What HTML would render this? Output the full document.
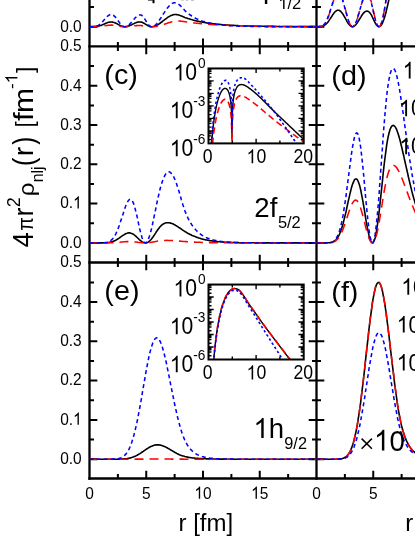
<!DOCTYPE html>
<html><head><meta charset="utf-8"><title>chart</title>
<style>html,body{margin:0;padding:0;background:#fff;overflow:hidden}body{width:415px;height:537px;font-family:"Liberation Sans",sans-serif}</style>
</head><body>
<svg width="415" height="537" viewBox="0 0 415 537" style="display:block;will-change:transform;font-family:'Liberation Sans',sans-serif">
<rect width="415" height="537" fill="#fff"/>
<defs>
<clipPath id="cpa"><rect x="89.5" y="0" width="227.0" height="46.4"/></clipPath>
<clipPath id="cpb"><rect x="316.5" y="0" width="98.5" height="46.4"/></clipPath>
<clipPath id="cpc"><rect x="89.5" y="46.4" width="227.0" height="216.1"/></clipPath>
<clipPath id="cpd"><rect x="316.5" y="46.4" width="98.5" height="216.1"/></clipPath>
<clipPath id="cpe"><rect x="89.5" y="262.5" width="227.0" height="216.1"/></clipPath>
<clipPath id="cpf"><rect x="316.5" y="262.5" width="98.5" height="216.1"/></clipPath>
</defs>
<g stroke="#000" stroke-width="2.3" fill="none" stroke-linecap="butt">
<path d="M89.5,0 V479.65 M316.5,0 V479.65"/>
<path d="M88.35,46.4 H415"/>
<path d="M88.35,262.5 H415"/>
<path d="M88.35,478.5 H415"/>
<path d="M117.88,41.9 V50.9 M146.25,38.6 V54.199999999999996 M174.62,41.9 V50.9 M203.00,38.6 V54.199999999999996 M231.38,41.9 V50.9 M259.75,38.6 V54.199999999999996 M288.12,41.9 V50.9 M344.88,41.9 V50.9 M373.25,38.6 V54.199999999999996 M401.62,41.9 V50.9 M117.88,258.0 V267.0 M146.25,254.7 V270.3 M174.62,258.0 V267.0 M203.00,254.7 V270.3 M231.38,258.0 V267.0 M259.75,254.7 V270.3 M288.12,258.0 V267.0 M344.88,258.0 V267.0 M373.25,254.7 V270.3 M401.62,258.0 V267.0 M117.88,474.0 V478.5 M146.25,470.7 V478.5 M174.62,474.0 V478.5 M203.00,470.7 V478.5 M231.38,474.0 V478.5 M259.75,470.7 V478.5 M288.12,474.0 V478.5 M344.88,474.0 V478.5 M373.25,470.7 V478.5 M401.62,474.0 V478.5 M89.5,26.70 H97.3 M308.7,26.70 H324.3 M89.5,7.05 H94.0 M312.0,7.05 H321.0 M89.5,242.90 H97.3 M308.7,242.90 H324.3 M89.5,223.25 H94.0 M312.0,223.25 H321.0 M89.5,203.61 H97.3 M308.7,203.61 H324.3 M89.5,183.96 H94.0 M312.0,183.96 H321.0 M89.5,164.32 H97.3 M308.7,164.32 H324.3 M89.5,144.67 H94.0 M312.0,144.67 H321.0 M89.5,125.03 H97.3 M308.7,125.03 H324.3 M89.5,105.38 H94.0 M312.0,105.38 H321.0 M89.5,85.74 H97.3 M308.7,85.74 H324.3 M89.5,66.09 H94.0 M312.0,66.09 H321.0 M89.5,459.20 H97.3 M308.7,459.20 H324.3 M89.5,439.55 H94.0 M312.0,439.55 H321.0 M89.5,419.91 H97.3 M308.7,419.91 H324.3 M89.5,400.26 H94.0 M312.0,400.26 H321.0 M89.5,380.62 H97.3 M308.7,380.62 H324.3 M89.5,360.97 H94.0 M312.0,360.97 H321.0 M89.5,341.33 H97.3 M308.7,341.33 H324.3 M89.5,321.68 H94.0 M312.0,321.68 H321.0 M89.5,302.04 H97.3 M308.7,302.04 H324.3 M89.5,282.39 H94.0 M312.0,282.39 H321.0" stroke-width="2.0"/>
</g>
<g clip-path="url(#cpa)" fill="none" stroke-linejoin="round">
<path d="M89.5,26.7 L90.2,26.7 L90.9,26.7 L91.5,26.7 L92.2,26.7 L92.9,26.7 L93.6,26.7 L94.3,26.6 L94.9,26.6 L95.6,26.6 L96.3,26.5 L97.0,26.4 L97.7,26.3 L98.4,26.2 L99.0,26.0 L99.7,25.8 L100.4,25.6 L101.1,25.4 L101.8,25.1 L102.4,24.8 L103.1,24.5 L103.8,24.2 L104.5,23.9 L105.2,23.6 L105.8,23.3 L106.5,23.0 L107.2,22.8 L107.9,22.5 L108.6,22.3 L109.3,22.2 L109.9,22.1 L110.6,22.0 L111.3,22.0 L112.0,22.0 L112.7,22.1 L113.3,22.3 L114.0,22.5 L114.7,22.7 L115.4,23.0 L116.1,23.3 L116.7,23.6 L117.4,24.0 L118.1,24.4 L118.8,24.7 L119.5,25.1 L120.1,25.4 L120.8,25.8 L121.5,26.0 L122.2,26.3 L122.9,26.5 L123.6,26.6 L124.2,26.7 L124.9,26.7 L125.6,26.7 L126.3,26.6 L127.0,26.5 L127.6,26.3 L128.3,26.1 L129.0,25.9 L129.7,25.6 L130.4,25.3 L131.0,25.0 L131.7,24.7 L132.4,24.3 L133.1,24.0 L133.8,23.7 L134.4,23.4 L135.1,23.0 L135.8,22.8 L136.5,22.5 L137.2,22.3 L137.9,22.1 L138.5,22.0 L139.2,22.0 L139.9,22.0 L140.6,22.0 L141.3,22.1 L141.9,22.3 L142.6,22.6 L143.3,22.9 L144.0,23.2 L144.7,23.6 L145.3,24.1 L146.0,24.5 L146.7,24.9 L147.4,25.3 L148.1,25.7 L148.7,26.0 L149.4,26.3 L150.1,26.5 L150.8,26.6 L151.5,26.7 L152.2,26.7 L152.8,26.6 L153.5,26.5 L154.2,26.4 L154.9,26.2 L155.6,25.9 L156.2,25.6 L156.9,25.3 L157.6,24.9 L158.3,24.5 L159.0,24.0 L159.6,23.5 L160.3,23.0 L161.0,22.5 L161.7,22.0 L162.4,21.5 L163.0,20.9 L163.7,20.4 L164.4,19.8 L165.1,19.3 L165.8,18.8 L166.5,18.3 L167.1,17.8 L167.8,17.3 L168.5,16.9 L169.2,16.5 L169.9,16.1 L170.5,15.7 L171.2,15.4 L171.9,15.2 L172.6,14.9 L173.3,14.8 L173.9,14.6 L174.6,14.5 L175.3,14.5 L176.0,14.5 L176.7,14.6 L177.3,14.7 L178.0,14.8 L178.7,15.0 L179.4,15.2 L180.1,15.5 L180.8,15.7 L181.4,16.0 L182.1,16.3 L182.8,16.6 L183.5,16.9 L184.2,17.1 L184.8,17.4 L185.5,17.7 L186.2,17.9 L186.9,18.1 L187.6,18.4 L188.2,18.6 L188.9,18.8 L189.6,19.0 L190.3,19.2 L191.0,19.4 L191.7,19.6 L192.3,19.8 L193.0,20.0 L193.7,20.2 L194.4,20.4 L195.1,20.6 L195.7,20.7 L196.4,20.9 L197.1,21.0 L197.8,21.2 L198.5,21.3 L199.1,21.5 L199.8,21.6 L200.5,21.8 L201.2,21.9 L201.9,22.0 L202.5,22.2 L203.2,22.3 L203.9,22.4 L204.6,22.5 L205.3,22.6 L206.0,22.8 L206.6,22.9 L207.3,23.0 L208.0,23.1 L208.7,23.2 L209.4,23.3 L210.0,23.4 L210.7,23.4 L211.4,23.5 L212.1,23.6 L212.8,23.7 L213.4,23.8 L214.1,23.9 L214.8,23.9 L215.5,24.0 L216.2,24.1 L216.8,24.2 L217.5,24.2 L218.2,24.3 L218.9,24.4 L219.6,24.4 L220.3,24.5 L220.9,24.5 L221.6,24.6 L222.3,24.7 L223.0,24.7 L223.7,24.8 L224.3,24.8 L225.0,24.9 L225.7,24.9 L226.4,25.0 L227.1,25.0 L227.7,25.1 L228.4,25.1 L229.1,25.2 L229.8,25.2 L230.5,25.2 L231.1,25.3 L231.8,25.3 L232.5,25.4 L233.2,25.4 L233.9,25.4 L234.6,25.5 L235.2,25.5 L235.9,25.5 L236.6,25.6 L237.3,25.6 L238.0,25.6 L238.6,25.7 L239.3,25.7 L240.0,25.7 L240.7,25.7 L241.4,25.8 L242.0,25.8 L242.7,25.8 L243.4,25.8 L244.1,25.9 L244.8,25.9 L245.4,25.9 L246.1,25.9 L246.8,25.9 L247.5,26.0 L248.2,26.0 L248.9,26.0 L249.5,26.0 L250.2,26.0 L250.9,26.1 L251.6,26.1 L252.3,26.1 L252.9,26.1 L253.6,26.1 L254.3,26.1 L255.0,26.2 L255.7,26.2 L256.3,26.2 L257.0,26.2 L257.7,26.2 L258.4,26.2 L259.1,26.2 L259.8,26.3 L260.4,26.3 L261.1,26.3 L261.8,26.3 L262.5,26.3 L263.2,26.3 L263.8,26.3 L264.5,26.3 L265.2,26.3 L265.9,26.4 L266.6,26.4 L267.2,26.4 L267.9,26.4 L268.6,26.4 L269.3,26.4 L270.0,26.4 L270.6,26.4 L271.3,26.4 L272.0,26.4 L272.7,26.4 L273.4,26.4 L274.1,26.5 L274.7,26.5 L275.4,26.5 L276.1,26.5 L276.8,26.5 L277.5,26.5 L278.1,26.5 L278.8,26.5 L279.5,26.5 L280.2,26.5 L280.9,26.5 L281.5,26.5 L282.2,26.5 L282.9,26.5 L283.6,26.5 L284.3,26.5 L284.9,26.5 L285.6,26.5 L286.3,26.5 L287.0,26.6 L287.7,26.6 L288.4,26.6 L289.0,26.6 L289.7,26.6 L290.4,26.6 L291.1,26.6 L291.8,26.6 L292.4,26.6 L293.1,26.6 L293.8,26.6 L294.5,26.6 L295.2,26.6 L295.8,26.6 L296.5,26.6 L297.2,26.6 L297.9,26.6 L298.6,26.6 L299.2,26.6 L299.9,26.6 L300.6,26.6 L301.3,26.6 L302.0,26.6 L302.7,26.6 L303.3,26.6 L304.0,26.6 L304.7,26.6 L305.4,26.6 L306.1,26.6 L306.7,26.6 L307.4,26.6 L308.1,26.6 L308.8,26.6 L309.5,26.6 L310.1,26.6 L310.8,26.6 L311.5,26.6 L312.2,26.6 L312.9,26.6 L313.5,26.6 L314.2,26.7 L314.9,26.7 L315.6,26.7 L316.3,26.7 L317.0,26.7" stroke="#000" stroke-width="1.6"/>
<path d="M89.5,26.7 L90.2,26.7 L90.9,26.7 L91.5,26.7 L92.2,26.7 L92.9,26.7 L93.6,26.7 L94.3,26.7 L94.9,26.7 L95.6,26.7 L96.3,26.6 L97.0,26.6 L97.7,26.6 L98.4,26.5 L99.0,26.5 L99.7,26.4 L100.4,26.3 L101.1,26.3 L101.8,26.2 L102.4,26.1 L103.1,26.0 L103.8,25.9 L104.5,25.8 L105.2,25.7 L105.8,25.6 L106.5,25.5 L107.2,25.4 L107.9,25.3 L108.6,25.2 L109.3,25.2 L109.9,25.2 L110.6,25.1 L111.3,25.1 L112.0,25.1 L112.7,25.2 L113.3,25.2 L114.0,25.3 L114.7,25.4 L115.4,25.5 L116.1,25.6 L116.7,25.7 L117.4,25.8 L118.1,26.0 L118.8,26.1 L119.5,26.2 L120.1,26.3 L120.8,26.4 L121.5,26.5 L122.2,26.6 L122.9,26.6 L123.6,26.7 L124.2,26.7 L124.9,26.7 L125.6,26.7 L126.3,26.7 L127.0,26.6 L127.6,26.6 L128.3,26.5 L129.0,26.5 L129.7,26.4 L130.4,26.3 L131.0,26.2 L131.7,26.2 L132.4,26.1 L133.1,26.0 L133.8,25.9 L134.4,25.8 L135.1,25.8 L135.8,25.7 L136.5,25.6 L137.2,25.6 L137.9,25.5 L138.5,25.5 L139.2,25.5 L139.9,25.5 L140.6,25.5 L141.3,25.6 L141.9,25.6 L142.6,25.7 L143.3,25.7 L144.0,25.8 L144.7,25.9 L145.3,26.0 L146.0,26.1 L146.7,26.2 L147.4,26.3 L148.1,26.4 L148.7,26.5 L149.4,26.6 L150.1,26.6 L150.8,26.7 L151.5,26.7 L152.2,26.7 L152.8,26.7 L153.5,26.7 L154.2,26.6 L154.9,26.5 L155.6,26.5 L156.2,26.4 L156.9,26.2 L157.6,26.1 L158.3,26.0 L159.0,25.8 L159.6,25.6 L160.3,25.4 L161.0,25.2 L161.7,25.0 L162.4,24.8 L163.0,24.6 L163.7,24.4 L164.4,24.2 L165.1,23.9 L165.8,23.7 L166.5,23.5 L167.1,23.3 L167.8,23.0 L168.5,22.8 L169.2,22.6 L169.9,22.4 L170.5,22.2 L171.2,22.0 L171.9,21.8 L172.6,21.7 L173.3,21.5 L173.9,21.4 L174.6,21.3 L175.3,21.2 L176.0,21.1 L176.7,21.0 L177.3,21.0 L178.0,21.0 L178.7,21.0 L179.4,21.0 L180.1,21.1 L180.8,21.1 L181.4,21.2 L182.1,21.3 L182.8,21.4 L183.5,21.5 L184.2,21.6 L184.8,21.7 L185.5,21.8 L186.2,21.9 L186.9,22.0 L187.6,22.1 L188.2,22.2 L188.9,22.3 L189.6,22.4 L190.3,22.4 L191.0,22.5 L191.7,22.6 L192.3,22.7 L193.0,22.8 L193.7,22.9 L194.4,22.9 L195.1,23.0 L195.7,23.1 L196.4,23.2 L197.1,23.2 L197.8,23.3 L198.5,23.4 L199.1,23.4 L199.8,23.5 L200.5,23.6 L201.2,23.6 L201.9,23.7 L202.5,23.8 L203.2,23.8 L203.9,23.9 L204.6,23.9 L205.3,24.0 L206.0,24.1 L206.6,24.1 L207.3,24.2 L208.0,24.2 L208.7,24.3 L209.4,24.3 L210.0,24.4 L210.7,24.4 L211.4,24.5 L212.1,24.5 L212.8,24.6 L213.4,24.6 L214.1,24.6 L214.8,24.7 L215.5,24.7 L216.2,24.8 L216.8,24.8 L217.5,24.8 L218.2,24.9 L218.9,24.9 L219.6,25.0 L220.3,25.0 L220.9,25.0 L221.6,25.1 L222.3,25.1 L223.0,25.1 L223.7,25.2 L224.3,25.2 L225.0,25.2 L225.7,25.3 L226.4,25.3 L227.1,25.3 L227.7,25.3 L228.4,25.4 L229.1,25.4 L229.8,25.4 L230.5,25.4 L231.1,25.5 L231.8,25.5 L232.5,25.5 L233.2,25.5 L233.9,25.6 L234.6,25.6 L235.2,25.6 L235.9,25.6 L236.6,25.7 L237.3,25.7 L238.0,25.7 L238.6,25.7 L239.3,25.7 L240.0,25.8 L240.7,25.8 L241.4,25.8 L242.0,25.8 L242.7,25.8 L243.4,25.9 L244.1,25.9 L244.8,25.9 L245.4,25.9 L246.1,25.9 L246.8,25.9 L247.5,26.0 L248.2,26.0 L248.9,26.0 L249.5,26.0 L250.2,26.0 L250.9,26.0 L251.6,26.0 L252.3,26.1 L252.9,26.1 L253.6,26.1 L254.3,26.1 L255.0,26.1 L255.7,26.1 L256.3,26.1 L257.0,26.1 L257.7,26.2 L258.4,26.2 L259.1,26.2 L259.8,26.2 L260.4,26.2 L261.1,26.2 L261.8,26.2 L262.5,26.2 L263.2,26.2 L263.8,26.2 L264.5,26.3 L265.2,26.3 L265.9,26.3 L266.6,26.3 L267.2,26.3 L267.9,26.3 L268.6,26.3 L269.3,26.3 L270.0,26.3 L270.6,26.3 L271.3,26.3 L272.0,26.3 L272.7,26.4 L273.4,26.4 L274.1,26.4 L274.7,26.4 L275.4,26.4 L276.1,26.4 L276.8,26.4 L277.5,26.4 L278.1,26.4 L278.8,26.4 L279.5,26.4 L280.2,26.4 L280.9,26.4 L281.5,26.4 L282.2,26.4 L282.9,26.4 L283.6,26.5 L284.3,26.5 L284.9,26.5 L285.6,26.5 L286.3,26.5 L287.0,26.5 L287.7,26.5 L288.4,26.5 L289.0,26.5 L289.7,26.5 L290.4,26.5 L291.1,26.5 L291.8,26.5 L292.4,26.5 L293.1,26.5 L293.8,26.5 L294.5,26.5 L295.2,26.5 L295.8,26.5 L296.5,26.5 L297.2,26.5 L297.9,26.5 L298.6,26.5 L299.2,26.5 L299.9,26.5 L300.6,26.6 L301.3,26.6 L302.0,26.6 L302.7,26.6 L303.3,26.6 L304.0,26.6 L304.7,26.6 L305.4,26.6 L306.1,26.6 L306.7,26.6 L307.4,26.6 L308.1,26.6 L308.8,26.6 L309.5,26.6 L310.1,26.6 L310.8,26.6 L311.5,26.6 L312.2,26.6 L312.9,26.6 L313.5,26.6 L314.2,26.6 L314.9,26.6 L315.6,26.6 L316.3,26.6 L317.0,26.6" stroke="#ff0000" stroke-width="1.55" stroke-dasharray="9,6"/>
<path d="M89.5,26.7 L90.2,26.7 L90.9,26.7 L91.5,26.7 L92.2,26.7 L92.9,26.7 L93.6,26.6 L94.3,26.6 L94.9,26.5 L95.6,26.3 L96.3,26.2 L97.0,25.9 L97.7,25.7 L98.4,25.3 L99.0,24.9 L99.7,24.4 L100.4,23.9 L101.1,23.3 L101.8,22.6 L102.4,21.9 L103.1,21.1 L103.8,20.3 L104.5,19.5 L105.2,18.7 L105.8,17.9 L106.5,17.2 L107.2,16.5 L107.9,15.9 L108.6,15.4 L109.3,15.0 L109.9,14.7 L110.6,14.5 L111.3,14.5 L112.0,14.6 L112.7,14.9 L113.3,15.2 L114.0,15.8 L114.7,16.4 L115.4,17.1 L116.1,17.9 L116.7,18.8 L117.4,19.8 L118.1,20.7 L118.8,21.7 L119.5,22.6 L120.1,23.5 L120.8,24.3 L121.5,25.0 L122.2,25.6 L122.9,26.1 L123.6,26.4 L124.2,26.6 L124.9,26.7 L125.6,26.6 L126.3,26.5 L127.0,26.2 L127.6,25.8 L128.3,25.3 L129.0,24.7 L129.7,24.1 L130.4,23.4 L131.0,22.7 L131.7,21.9 L132.4,21.1 L133.1,20.3 L133.8,19.5 L134.4,18.8 L135.1,18.0 L135.8,17.3 L136.5,16.6 L137.2,16.1 L137.9,15.6 L138.5,15.2 L139.2,15.0 L139.9,14.9 L140.6,14.9 L141.3,15.1 L141.9,15.5 L142.6,16.1 L143.3,16.9 L144.0,17.8 L144.7,18.8 L145.3,19.9 L146.0,21.0 L146.7,22.1 L147.4,23.2 L148.1,24.1 L148.7,25.0 L149.4,25.6 L150.1,26.1 L150.8,26.5 L151.5,26.7 L152.2,26.7 L152.8,26.6 L153.5,26.3 L154.2,26.0 L154.9,25.5 L155.6,24.9 L156.2,24.2 L156.9,23.5 L157.6,22.6 L158.3,21.7 L159.0,20.8 L159.6,19.8 L160.3,18.8 L161.0,17.7 L161.7,16.7 L162.4,15.6 L163.0,14.5 L163.7,13.4 L164.4,12.4 L165.1,11.3 L165.8,10.3 L166.5,9.4 L167.1,8.4 L167.8,7.5 L168.5,6.7 L169.2,5.9 L169.9,5.2 L170.5,4.6 L171.2,4.0 L171.9,3.6 L172.6,3.2 L173.3,3.0 L173.9,2.8 L174.6,2.7 L175.3,2.8 L176.0,2.9 L176.7,3.1 L177.3,3.5 L178.0,3.8 L178.7,4.3 L179.4,4.8 L180.1,5.4 L180.8,6.1 L181.4,6.8 L182.1,7.5 L182.8,8.3 L183.5,9.1 L184.2,9.8 L184.8,10.5 L185.5,11.1 L186.2,11.8 L186.9,12.4 L187.6,12.9 L188.2,13.5 L188.9,14.0 L189.6,14.6 L190.3,15.0 L191.0,15.5 L191.7,16.0 L192.3,16.4 L193.0,16.8 L193.7,17.2 L194.4,17.6 L195.1,18.0 L195.7,18.3 L196.4,18.7 L197.1,19.0 L197.8,19.3 L198.5,19.6 L199.1,19.9 L199.8,20.2 L200.5,20.4 L201.2,20.7 L201.9,20.9 L202.5,21.2 L203.2,21.4 L203.9,21.6 L204.6,21.8 L205.3,22.0 L206.0,22.2 L206.6,22.4 L207.3,22.6 L208.0,22.7 L208.7,22.9 L209.4,23.0 L210.0,23.2 L210.7,23.3 L211.4,23.5 L212.1,23.6 L212.8,23.7 L213.4,23.9 L214.1,24.0 L214.8,24.1 L215.5,24.2 L216.2,24.3 L216.8,24.4 L217.5,24.5 L218.2,24.6 L218.9,24.7 L219.6,24.7 L220.3,24.8 L220.9,24.9 L221.6,25.0 L222.3,25.0 L223.0,25.1 L223.7,25.2 L224.3,25.2 L225.0,25.3 L225.7,25.3 L226.4,25.4 L227.1,25.5 L227.7,25.5 L228.4,25.6 L229.1,25.6 L229.8,25.6 L230.5,25.7 L231.1,25.7 L231.8,25.8 L232.5,25.8 L233.2,25.8 L233.9,25.9 L234.6,25.9 L235.2,25.9 L235.9,26.0 L236.6,26.0 L237.3,26.0 L238.0,26.1 L238.6,26.1 L239.3,26.1 L240.0,26.1 L240.7,26.2 L241.4,26.2 L242.0,26.2 L242.7,26.2 L243.4,26.2 L244.1,26.3 L244.8,26.3 L245.4,26.3 L246.1,26.3 L246.8,26.3 L247.5,26.3 L248.2,26.4 L248.9,26.4 L249.5,26.4 L250.2,26.4 L250.9,26.4 L251.6,26.4 L252.3,26.4 L252.9,26.4 L253.6,26.5 L254.3,26.5 L255.0,26.5 L255.7,26.5 L256.3,26.5 L257.0,26.5 L257.7,26.5 L258.4,26.5 L259.1,26.5 L259.8,26.5 L260.4,26.5 L261.1,26.5 L261.8,26.5 L262.5,26.6 L263.2,26.6 L263.8,26.6 L264.5,26.6 L265.2,26.6 L265.9,26.6 L266.6,26.6 L267.2,26.6 L267.9,26.6 L268.6,26.6 L269.3,26.6 L270.0,26.6 L270.6,26.6 L271.3,26.6 L272.0,26.6 L272.7,26.6 L273.4,26.6 L274.1,26.6 L274.7,26.6 L275.4,26.6 L276.1,26.6 L276.8,26.6 L277.5,26.6 L278.1,26.6 L278.8,26.6 L279.5,26.6 L280.2,26.7 L280.9,26.7 L281.5,26.7 L282.2,26.7 L282.9,26.7 L283.6,26.7 L284.3,26.7 L284.9,26.7 L285.6,26.7 L286.3,26.7 L287.0,26.7 L287.7,26.7 L288.4,26.7 L289.0,26.7 L289.7,26.7 L290.4,26.7 L291.1,26.7 L291.8,26.7 L292.4,26.7 L293.1,26.7 L293.8,26.7 L294.5,26.7 L295.2,26.7 L295.8,26.7 L296.5,26.7 L297.2,26.7 L297.9,26.7 L298.6,26.7 L299.2,26.7 L299.9,26.7 L300.6,26.7 L301.3,26.7 L302.0,26.7 L302.7,26.7 L303.3,26.7 L304.0,26.7 L304.7,26.7 L305.4,26.7 L306.1,26.7 L306.7,26.7 L307.4,26.7 L308.1,26.7 L308.8,26.7 L309.5,26.7 L310.1,26.7 L310.8,26.7 L311.5,26.7 L312.2,26.7 L312.9,26.7 L313.5,26.7 L314.2,26.7 L314.9,26.7 L315.6,26.7 L316.3,26.7 L317.0,26.7" stroke="#0000ff" stroke-width="1.55" stroke-dasharray="4,3.1"/>
</g>
<g clip-path="url(#cpb)" fill="none" stroke-linejoin="round">
<path d="M316.5,26.7 L317.2,26.7 L317.9,26.7 L318.5,26.7 L319.2,26.7 L319.9,26.6 L320.6,26.6 L321.3,26.5 L321.9,26.4 L322.6,26.2 L323.3,25.9 L324.0,25.6 L324.7,25.2 L325.4,24.7 L326.0,24.1 L326.7,23.5 L327.4,22.7 L328.1,21.9 L328.8,20.9 L329.4,19.9 L330.1,18.9 L330.8,17.8 L331.5,16.8 L332.2,15.7 L332.8,14.7 L333.5,13.7 L334.2,12.8 L334.9,12.0 L335.6,11.3 L336.3,10.8 L336.9,10.4 L337.6,10.2 L338.3,10.2 L339.0,10.3 L339.7,10.7 L340.3,11.1 L341.0,11.7 L341.7,12.5 L342.4,13.4 L343.1,14.4 L343.7,15.5 L344.4,16.7 L345.1,17.9 L345.8,19.2 L346.5,20.4 L347.1,21.6 L347.8,22.7 L348.5,23.7 L349.2,24.6 L349.9,25.4 L350.6,26.0 L351.2,26.4 L351.9,26.6 L352.6,26.7 L353.3,26.6 L354.0,26.3 L354.6,25.8 L355.3,25.2 L356.0,24.5 L356.7,23.6 L357.4,22.7 L358.0,21.6 L358.7,20.5 L359.4,19.4 L360.1,18.3 L360.8,17.1 L361.4,16.0 L362.1,15.0 L362.8,14.0 L363.5,13.1 L364.2,12.4 L364.9,11.8 L365.5,11.4 L366.2,11.2 L366.9,11.1 L367.6,11.2 L368.3,11.4 L368.9,11.9 L369.6,12.5 L370.3,13.4 L371.0,14.4 L371.7,15.7 L372.3,17.0 L373.0,18.4 L373.7,19.9 L374.4,21.3 L375.1,22.6 L375.7,23.9 L376.4,24.9 L377.1,25.7 L377.8,26.3 L378.5,26.6 L379.2,26.7 L379.8,26.5 L380.5,25.9 L381.2,25.2 L381.9,24.1 L382.6,22.8 L383.2,21.1 L383.9,19.3 L384.6,17.2 L385.3,14.9 L386.0,12.3 L386.6,9.6 L387.3,6.7 L388.0,3.7 L388.7,0.5 L389.4,-2.8 L390.0,-6.2 L390.7,-9.6 L391.4,-13.0 L392.1,-16.5 L392.8,-20.0 L393.5,-23.4 L394.1,-26.7 L394.8,-30.0 L395.5,-30.0 L396.2,-30.0 L396.9,-30.0 L397.5,-30.0 L398.2,-30.0 L398.9,-30.0 L399.6,-30.0 L400.3,-30.0 L400.9,-30.0 L401.6,-30.0 L402.3,-30.0 L403.0,-30.0 L403.7,-30.0 L404.3,-30.0 L405.0,-30.0 L405.7,-30.0 L406.4,-30.0 L407.1,-30.0 L407.8,-30.0 L408.4,-30.0 L409.1,-30.0 L409.8,-30.0 L410.5,-30.0 L411.2,-30.0 L411.8,-30.0 L412.5,-28.4 L413.2,-26.2 L413.9,-24.0 L414.6,-22.0 L415.2,-20.0 L415.9,-18.1 L416.6,-16.3 L417.3,-14.5 L418.0,-12.9" stroke="#000" stroke-width="1.6"/>
<path d="M316.5,26.7 L317.2,26.7 L317.9,26.7 L318.5,26.7 L319.2,26.7 L319.9,26.6 L320.6,26.5 L321.3,26.3 L321.9,26.1 L322.6,25.7 L323.3,25.3 L324.0,24.7 L324.7,23.9 L325.4,22.9 L326.0,21.8 L326.7,20.5 L327.4,19.0 L328.1,17.4 L328.8,15.6 L329.4,13.6 L330.1,11.5 L330.8,9.4 L331.5,7.2 L332.2,5.0 L332.8,2.8 L333.5,0.8 L334.2,-1.1 L334.9,-2.8 L335.6,-4.3 L336.3,-5.5 L336.9,-6.4 L337.6,-6.9 L338.3,-7.1 L339.0,-6.9 L339.7,-6.4 L340.3,-5.6 L341.0,-4.4 L341.7,-2.9 L342.4,-1.1 L343.1,1.0 L343.7,3.3 L344.4,5.7 L345.1,8.3 L345.8,10.9 L346.5,13.5 L347.1,16.0 L347.8,18.3 L348.5,20.5 L349.2,22.3 L349.9,23.9 L350.6,25.2 L351.2,26.1 L351.9,26.6 L352.6,26.7 L353.3,26.4 L354.0,25.8 L354.6,24.9 L355.3,23.7 L356.0,22.2 L356.7,20.4 L357.4,18.5 L358.0,16.3 L358.7,14.1 L359.4,11.7 L360.1,9.3 L360.8,7.0 L361.4,4.6 L362.1,2.4 L362.8,0.3 L363.5,-1.6 L364.2,-3.2 L364.9,-4.6 L365.5,-5.6 L366.2,-6.2 L366.9,-6.4 L367.6,-6.3 L368.3,-5.8 L368.9,-4.8 L369.6,-3.4 L370.3,-1.5 L371.0,0.8 L371.7,3.5 L372.3,6.4 L373.0,9.4 L373.7,12.5 L374.4,15.6 L375.1,18.4 L375.7,21.0 L376.4,23.1 L377.1,24.8 L377.8,26.0 L378.5,26.6 L379.2,26.7 L379.8,26.2 L380.5,25.2 L381.2,23.7 L381.9,21.7 L382.6,19.2 L383.2,16.2 L383.9,12.7 L384.6,8.8 L385.3,4.5 L386.0,-0.1 L386.6,-5.1 L387.3,-10.4 L388.0,-15.9 L388.7,-21.7 L389.4,-27.6 L390.0,-30.0 L390.7,-30.0 L391.4,-30.0 L392.1,-30.0 L392.8,-30.0 L393.5,-30.0 L394.1,-30.0 L394.8,-30.0 L395.5,-30.0 L396.2,-30.0 L396.9,-30.0 L397.5,-30.0 L398.2,-30.0 L398.9,-30.0 L399.6,-30.0 L400.3,-30.0 L400.9,-30.0 L401.6,-30.0 L402.3,-30.0 L403.0,-30.0 L403.7,-30.0 L404.3,-30.0 L405.0,-30.0 L405.7,-30.0 L406.4,-30.0 L407.1,-30.0 L407.8,-30.0 L408.4,-30.0 L409.1,-30.0 L409.8,-30.0 L410.5,-30.0 L411.2,-30.0 L411.8,-30.0 L412.5,-30.0 L413.2,-30.0 L413.9,-30.0 L414.6,-30.0 L415.2,-30.0 L415.9,-30.0 L416.6,-30.0 L417.3,-30.0 L418.0,-30.0" stroke="#ff0000" stroke-width="1.55" stroke-dasharray="9,6"/>
<path d="M316.5,26.7 L317.2,26.7 L317.9,26.7 L318.5,26.7 L319.2,26.7 L319.9,26.6 L320.6,26.5 L321.3,26.3 L321.9,26.0 L322.6,25.7 L323.3,25.1 L324.0,24.5 L324.7,23.7 L325.4,22.7 L326.0,21.5 L326.7,20.1 L327.4,18.6 L328.1,16.9 L328.8,15.0 L329.4,13.0 L330.1,10.9 L330.8,8.8 L331.5,6.6 L332.2,4.5 L332.8,2.4 L333.5,0.4 L334.2,-1.4 L334.9,-3.0 L335.6,-4.4 L336.3,-5.5 L336.9,-6.2 L337.6,-6.6 L338.3,-6.7 L339.0,-6.4 L339.7,-5.8 L340.3,-4.9 L341.0,-3.6 L341.7,-2.1 L342.4,-0.3 L343.1,1.8 L343.7,4.0 L344.4,6.4 L345.1,8.9 L345.8,11.4 L346.5,13.9 L347.1,16.3 L347.8,18.5 L348.5,20.6 L349.2,22.4 L349.9,24.0 L350.6,25.2 L351.2,26.1 L351.9,26.6 L352.6,26.7 L353.3,26.4 L354.0,25.8 L354.6,24.9 L355.3,23.6 L356.0,22.1 L356.7,20.3 L357.4,18.3 L358.0,16.1 L358.7,13.8 L359.4,11.4 L360.1,9.0 L360.8,6.6 L361.4,4.3 L362.1,2.1 L362.8,0.0 L363.5,-1.8 L364.2,-3.4 L364.9,-4.6 L365.5,-5.4 L366.2,-5.9 L366.9,-6.0 L367.6,-5.8 L368.3,-5.2 L368.9,-4.1 L369.6,-2.6 L370.3,-0.7 L371.0,1.6 L371.7,4.2 L372.3,7.0 L373.0,10.0 L373.7,13.0 L374.4,15.9 L375.1,18.7 L375.7,21.1 L376.4,23.2 L377.1,24.8 L377.8,26.0 L378.5,26.6 L379.2,26.7 L379.8,26.2 L380.5,25.3 L381.2,23.8 L381.9,21.8 L382.6,19.3 L383.2,16.3 L383.9,12.8 L384.6,9.0 L385.3,4.7 L386.0,0.0 L386.6,-4.9 L387.3,-10.2 L388.0,-15.7 L388.7,-21.5 L389.4,-27.4 L390.0,-30.0 L390.7,-30.0 L391.4,-30.0 L392.1,-30.0 L392.8,-30.0 L393.5,-30.0 L394.1,-30.0 L394.8,-30.0 L395.5,-30.0 L396.2,-30.0 L396.9,-30.0 L397.5,-30.0 L398.2,-30.0 L398.9,-30.0 L399.6,-30.0 L400.3,-30.0 L400.9,-30.0 L401.6,-30.0 L402.3,-30.0 L403.0,-30.0 L403.7,-30.0 L404.3,-30.0 L405.0,-30.0 L405.7,-30.0 L406.4,-30.0 L407.1,-30.0 L407.8,-30.0 L408.4,-30.0 L409.1,-30.0 L409.8,-30.0 L410.5,-30.0 L411.2,-30.0 L411.8,-30.0 L412.5,-30.0 L413.2,-30.0 L413.9,-30.0 L414.6,-30.0 L415.2,-30.0 L415.9,-30.0 L416.6,-30.0 L417.3,-30.0 L418.0,-30.0" stroke="#0000ff" stroke-width="1.55" stroke-dasharray="4,3.1"/>
</g>
<g clip-path="url(#cpc)" fill="none" stroke-linejoin="round">
<path d="M89.5,242.9 L90.2,242.9 L90.9,242.9 L91.5,242.9 L92.2,242.9 L92.9,242.9 L93.6,242.9 L94.3,242.9 L94.9,242.9 L95.6,242.9 L96.3,242.9 L97.0,242.9 L97.7,242.9 L98.4,242.9 L99.0,242.9 L99.7,242.9 L100.4,242.9 L101.1,242.9 L101.8,242.9 L102.4,242.9 L103.1,242.9 L103.8,242.8 L104.5,242.8 L105.2,242.8 L105.8,242.8 L106.5,242.7 L107.2,242.7 L107.9,242.6 L108.6,242.5 L109.3,242.4 L109.9,242.3 L110.6,242.1 L111.3,242.0 L112.0,241.8 L112.7,241.6 L113.3,241.3 L114.0,241.0 L114.7,240.7 L115.4,240.4 L116.1,240.0 L116.7,239.6 L117.4,239.2 L118.1,238.8 L118.8,238.3 L119.5,237.9 L120.1,237.4 L120.8,236.9 L121.5,236.4 L122.2,235.9 L122.9,235.4 L123.6,235.0 L124.2,234.6 L124.9,234.2 L125.6,233.8 L126.3,233.5 L127.0,233.3 L127.6,233.1 L128.3,232.9 L129.0,232.9 L129.7,232.9 L130.4,233.0 L131.0,233.2 L131.7,233.4 L132.4,233.7 L133.1,234.1 L133.8,234.5 L134.4,235.0 L135.1,235.6 L135.8,236.2 L136.5,236.8 L137.2,237.5 L137.9,238.2 L138.5,238.8 L139.2,239.5 L139.9,240.1 L140.6,240.7 L141.3,241.2 L141.9,241.7 L142.6,242.1 L143.3,242.4 L144.0,242.7 L144.7,242.8 L145.3,242.9 L146.0,242.9 L146.7,242.7 L147.4,242.5 L148.1,242.1 L148.7,241.7 L149.4,241.2 L150.1,240.5 L150.8,239.8 L151.5,239.0 L152.2,238.1 L152.8,237.2 L153.5,236.2 L154.2,235.2 L154.9,234.1 L155.6,233.1 L156.2,232.0 L156.9,231.0 L157.6,230.0 L158.3,229.1 L159.0,228.2 L159.6,227.3 L160.3,226.5 L161.0,225.8 L161.7,225.2 L162.4,224.6 L163.0,224.1 L163.7,223.7 L164.4,223.4 L165.1,223.1 L165.8,222.9 L166.5,222.8 L167.1,222.7 L167.8,222.7 L168.5,222.7 L169.2,222.8 L169.9,223.0 L170.5,223.1 L171.2,223.3 L171.9,223.5 L172.6,223.7 L173.3,224.0 L173.9,224.4 L174.6,224.8 L175.3,225.2 L176.0,225.6 L176.7,226.0 L177.3,226.4 L178.0,226.8 L178.7,227.3 L179.4,227.8 L180.1,228.2 L180.8,228.7 L181.4,229.2 L182.1,229.7 L182.8,230.1 L183.5,230.6 L184.2,231.0 L184.8,231.5 L185.5,231.9 L186.2,232.3 L186.9,232.7 L187.6,233.1 L188.2,233.5 L188.9,233.8 L189.6,234.2 L190.3,234.5 L191.0,234.8 L191.7,235.2 L192.3,235.5 L193.0,235.8 L193.7,236.1 L194.4,236.3 L195.1,236.6 L195.7,236.9 L196.4,237.1 L197.1,237.4 L197.8,237.6 L198.5,237.9 L199.1,238.1 L199.8,238.3 L200.5,238.5 L201.2,238.7 L201.9,238.9 L202.5,239.1 L203.2,239.2 L203.9,239.4 L204.6,239.6 L205.3,239.7 L206.0,239.9 L206.6,240.0 L207.3,240.1 L208.0,240.3 L208.7,240.4 L209.4,240.5 L210.0,240.6 L210.7,240.7 L211.4,240.8 L212.1,240.9 L212.8,241.0 L213.4,241.1 L214.1,241.2 L214.8,241.3 L215.5,241.4 L216.2,241.5 L216.8,241.5 L217.5,241.6 L218.2,241.7 L218.9,241.7 L219.6,241.8 L220.3,241.8 L220.9,241.9 L221.6,241.9 L222.3,242.0 L223.0,242.0 L223.7,242.1 L224.3,242.1 L225.0,242.2 L225.7,242.2 L226.4,242.2 L227.1,242.3 L227.7,242.3 L228.4,242.3 L229.1,242.4 L229.8,242.4 L230.5,242.4 L231.1,242.4 L231.8,242.5 L232.5,242.5 L233.2,242.5 L233.9,242.5 L234.6,242.6 L235.2,242.6 L235.9,242.6 L236.6,242.6 L237.3,242.6 L238.0,242.6 L238.6,242.6 L239.3,242.7 L240.0,242.7 L240.7,242.7 L241.4,242.7 L242.0,242.7 L242.7,242.7 L243.4,242.7 L244.1,242.7 L244.8,242.7 L245.4,242.7 L246.1,242.8 L246.8,242.8 L247.5,242.8 L248.2,242.8 L248.9,242.8 L249.5,242.8 L250.2,242.8 L250.9,242.8 L251.6,242.8 L252.3,242.8 L252.9,242.8 L253.6,242.8 L254.3,242.8 L255.0,242.8 L255.7,242.8 L256.3,242.8 L257.0,242.8 L257.7,242.8 L258.4,242.8 L259.1,242.8 L259.8,242.8 L260.4,242.9 L261.1,242.9 L261.8,242.9 L262.5,242.9 L263.2,242.9 L263.8,242.9 L264.5,242.9 L265.2,242.9 L265.9,242.9 L266.6,242.9 L267.2,242.9 L267.9,242.9 L268.6,242.9 L269.3,242.9 L270.0,242.9 L270.6,242.9 L271.3,242.9 L272.0,242.9 L272.7,242.9 L273.4,242.9 L274.1,242.9 L274.7,242.9 L275.4,242.9 L276.1,242.9 L276.8,242.9 L277.5,242.9 L278.1,242.9 L278.8,242.9 L279.5,242.9 L280.2,242.9 L280.9,242.9 L281.5,242.9 L282.2,242.9 L282.9,242.9 L283.6,242.9 L284.3,242.9 L284.9,242.9 L285.6,242.9 L286.3,242.9 L287.0,242.9 L287.7,242.9 L288.4,242.9 L289.0,242.9 L289.7,242.9 L290.4,242.9 L291.1,242.9 L291.8,242.9 L292.4,242.9 L293.1,242.9 L293.8,242.9 L294.5,242.9 L295.2,242.9 L295.8,242.9 L296.5,242.9 L297.2,242.9 L297.9,242.9 L298.6,242.9 L299.2,242.9 L299.9,242.9 L300.6,242.9 L301.3,242.9 L302.0,242.9 L302.7,242.9 L303.3,242.9 L304.0,242.9 L304.7,242.9 L305.4,242.9 L306.1,242.9 L306.7,242.9 L307.4,242.9 L308.1,242.9 L308.8,242.9 L309.5,242.9 L310.1,242.9 L310.8,242.9 L311.5,242.9 L312.2,242.9 L312.9,242.9 L313.5,242.9 L314.2,242.9 L314.9,242.9 L315.6,242.9 L316.3,242.9 L317.0,242.9" stroke="#000" stroke-width="1.6"/>
<path d="M89.5,242.9 L90.2,242.9 L90.9,242.9 L91.5,242.9 L92.2,242.9 L92.9,242.9 L93.6,242.9 L94.3,242.9 L94.9,242.9 L95.6,242.9 L96.3,242.9 L97.0,242.9 L97.7,242.9 L98.4,242.9 L99.0,242.9 L99.7,242.9 L100.4,242.9 L101.1,242.9 L101.8,242.9 L102.4,242.9 L103.1,242.9 L103.8,242.9 L104.5,242.9 L105.2,242.9 L105.8,242.9 L106.5,242.9 L107.2,242.9 L107.9,242.9 L108.6,242.8 L109.3,242.8 L109.9,242.8 L110.6,242.8 L111.3,242.8 L112.0,242.8 L112.7,242.7 L113.3,242.7 L114.0,242.7 L114.7,242.6 L115.4,242.6 L116.1,242.5 L116.7,242.5 L117.4,242.4 L118.1,242.4 L118.8,242.3 L119.5,242.2 L120.1,242.2 L120.8,242.1 L121.5,242.0 L122.2,242.0 L122.9,241.9 L123.6,241.8 L124.2,241.8 L124.9,241.7 L125.6,241.7 L126.3,241.6 L127.0,241.6 L127.6,241.6 L128.3,241.6 L129.0,241.6 L129.7,241.6 L130.4,241.6 L131.0,241.6 L131.7,241.6 L132.4,241.7 L133.1,241.7 L133.8,241.8 L134.4,241.9 L135.1,241.9 L135.8,242.0 L136.5,242.1 L137.2,242.2 L137.9,242.3 L138.5,242.4 L139.2,242.4 L139.9,242.5 L140.6,242.6 L141.3,242.7 L141.9,242.7 L142.6,242.8 L143.3,242.8 L144.0,242.9 L144.7,242.9 L145.3,242.9 L146.0,242.9 L146.7,242.9 L147.4,242.8 L148.1,242.8 L148.7,242.7 L149.4,242.7 L150.1,242.6 L150.8,242.5 L151.5,242.3 L152.2,242.2 L152.8,242.1 L153.5,242.0 L154.2,241.8 L154.9,241.7 L155.6,241.5 L156.2,241.4 L156.9,241.3 L157.6,241.1 L158.3,241.0 L159.0,240.9 L159.6,240.8 L160.3,240.7 L161.0,240.6 L161.7,240.6 L162.4,240.5 L163.0,240.5 L163.7,240.4 L164.4,240.4 L165.1,240.4 L165.8,240.4 L166.5,240.3 L167.1,240.3 L167.8,240.4 L168.5,240.4 L169.2,240.4 L169.9,240.4 L170.5,240.4 L171.2,240.5 L171.9,240.5 L172.6,240.5 L173.3,240.6 L173.9,240.6 L174.6,240.7 L175.3,240.7 L176.0,240.8 L176.7,240.9 L177.3,240.9 L178.0,241.0 L178.7,241.0 L179.4,241.1 L180.1,241.1 L180.8,241.2 L181.4,241.3 L182.1,241.3 L182.8,241.4 L183.5,241.4 L184.2,241.5 L184.8,241.5 L185.5,241.6 L186.2,241.6 L186.9,241.7 L187.6,241.7 L188.2,241.8 L188.9,241.8 L189.6,241.8 L190.3,241.9 L191.0,241.9 L191.7,242.0 L192.3,242.0 L193.0,242.0 L193.7,242.1 L194.4,242.1 L195.1,242.1 L195.7,242.2 L196.4,242.2 L197.1,242.2 L197.8,242.2 L198.5,242.3 L199.1,242.3 L199.8,242.3 L200.5,242.3 L201.2,242.4 L201.9,242.4 L202.5,242.4 L203.2,242.4 L203.9,242.4 L204.6,242.5 L205.3,242.5 L206.0,242.5 L206.6,242.5 L207.3,242.5 L208.0,242.5 L208.7,242.6 L209.4,242.6 L210.0,242.6 L210.7,242.6 L211.4,242.6 L212.1,242.6 L212.8,242.6 L213.4,242.6 L214.1,242.7 L214.8,242.7 L215.5,242.7 L216.2,242.7 L216.8,242.7 L217.5,242.7 L218.2,242.7 L218.9,242.7 L219.6,242.7 L220.3,242.7 L220.9,242.7 L221.6,242.8 L222.3,242.8 L223.0,242.8 L223.7,242.8 L224.3,242.8 L225.0,242.8 L225.7,242.8 L226.4,242.8 L227.1,242.8 L227.7,242.8 L228.4,242.8 L229.1,242.8 L229.8,242.8 L230.5,242.8 L231.1,242.8 L231.8,242.8 L232.5,242.8 L233.2,242.8 L233.9,242.8 L234.6,242.8 L235.2,242.8 L235.9,242.8 L236.6,242.8 L237.3,242.8 L238.0,242.8 L238.6,242.9 L239.3,242.9 L240.0,242.9 L240.7,242.9 L241.4,242.9 L242.0,242.9 L242.7,242.9 L243.4,242.9 L244.1,242.9 L244.8,242.9 L245.4,242.9 L246.1,242.9 L246.8,242.9 L247.5,242.9 L248.2,242.9 L248.9,242.9 L249.5,242.9 L250.2,242.9 L250.9,242.9 L251.6,242.9 L252.3,242.9 L252.9,242.9 L253.6,242.9 L254.3,242.9 L255.0,242.9 L255.7,242.9 L256.3,242.9 L257.0,242.9 L257.7,242.9 L258.4,242.9 L259.1,242.9 L259.8,242.9 L260.4,242.9 L261.1,242.9 L261.8,242.9 L262.5,242.9 L263.2,242.9 L263.8,242.9 L264.5,242.9 L265.2,242.9 L265.9,242.9 L266.6,242.9 L267.2,242.9 L267.9,242.9 L268.6,242.9 L269.3,242.9 L270.0,242.9 L270.6,242.9 L271.3,242.9 L272.0,242.9 L272.7,242.9 L273.4,242.9 L274.1,242.9 L274.7,242.9 L275.4,242.9 L276.1,242.9 L276.8,242.9 L277.5,242.9 L278.1,242.9 L278.8,242.9 L279.5,242.9 L280.2,242.9 L280.9,242.9 L281.5,242.9 L282.2,242.9 L282.9,242.9 L283.6,242.9 L284.3,242.9 L284.9,242.9 L285.6,242.9 L286.3,242.9 L287.0,242.9 L287.7,242.9 L288.4,242.9 L289.0,242.9 L289.7,242.9 L290.4,242.9 L291.1,242.9 L291.8,242.9 L292.4,242.9 L293.1,242.9 L293.8,242.9 L294.5,242.9 L295.2,242.9 L295.8,242.9 L296.5,242.9 L297.2,242.9 L297.9,242.9 L298.6,242.9 L299.2,242.9 L299.9,242.9 L300.6,242.9 L301.3,242.9 L302.0,242.9 L302.7,242.9 L303.3,242.9 L304.0,242.9 L304.7,242.9 L305.4,242.9 L306.1,242.9 L306.7,242.9 L307.4,242.9 L308.1,242.9 L308.8,242.9 L309.5,242.9 L310.1,242.9 L310.8,242.9 L311.5,242.9 L312.2,242.9 L312.9,242.9 L313.5,242.9 L314.2,242.9 L314.9,242.9 L315.6,242.9 L316.3,242.9 L317.0,242.9" stroke="#ff0000" stroke-width="1.55" stroke-dasharray="9,6"/>
<path d="M89.5,242.9 L90.2,242.9 L90.9,242.9 L91.5,242.9 L92.2,242.9 L92.9,242.9 L93.6,242.9 L94.3,242.9 L94.9,242.9 L95.6,242.9 L96.3,242.9 L97.0,242.9 L97.7,242.9 L98.4,242.9 L99.0,242.9 L99.7,242.9 L100.4,242.9 L101.1,242.9 L101.8,242.9 L102.4,242.8 L103.1,242.8 L103.8,242.8 L104.5,242.7 L105.2,242.6 L105.8,242.5 L106.5,242.4 L107.2,242.2 L107.9,242.0 L108.6,241.7 L109.3,241.4 L109.9,241.0 L110.6,240.6 L111.3,240.0 L112.0,239.4 L112.7,238.7 L113.3,237.8 L114.0,236.9 L114.7,235.8 L115.4,234.6 L116.1,233.3 L116.7,231.8 L117.4,230.3 L118.1,228.6 L118.8,226.8 L119.5,224.9 L120.1,222.9 L120.8,220.8 L121.5,218.7 L122.2,216.5 L122.9,214.4 L123.6,212.3 L124.2,210.2 L124.9,208.2 L125.6,206.3 L126.3,204.6 L127.0,203.1 L127.6,201.8 L128.3,200.7 L129.0,199.9 L129.7,199.4 L130.4,199.3 L131.0,199.5 L131.7,200.0 L132.4,201.0 L133.1,202.4 L133.8,204.1 L134.4,206.2 L135.1,208.6 L135.8,211.2 L136.5,214.1 L137.2,217.2 L137.9,220.4 L138.5,223.5 L139.2,226.7 L139.9,229.7 L140.6,232.5 L141.3,235.1 L141.9,237.3 L142.6,239.3 L143.3,240.8 L144.0,241.9 L144.7,242.6 L145.3,242.9 L146.0,242.8 L146.7,242.2 L147.4,241.3 L148.1,240.0 L148.7,238.3 L149.4,236.3 L150.1,234.1 L150.8,231.5 L151.5,228.8 L152.2,225.8 L152.8,222.7 L153.5,219.5 L154.2,216.2 L154.9,212.9 L155.6,209.5 L156.2,206.2 L156.9,203.0 L157.6,199.8 L158.3,196.7 L159.0,193.7 L159.6,190.9 L160.3,188.2 L161.0,185.7 L161.7,183.4 L162.4,181.3 L163.0,179.4 L163.7,177.7 L164.4,176.3 L165.1,175.0 L165.8,173.9 L166.5,173.1 L167.1,172.5 L167.8,172.1 L168.5,171.8 L169.2,171.8 L169.9,172.1 L170.5,172.6 L171.2,173.3 L171.9,174.2 L172.6,175.1 L173.3,176.0 L173.9,177.3 L174.6,178.8 L175.3,180.6 L176.0,182.4 L176.7,184.3 L177.3,186.3 L178.0,188.3 L178.7,190.6 L179.4,192.8 L180.1,195.2 L180.8,197.5 L181.4,199.9 L182.1,202.1 L182.8,204.4 L183.5,206.5 L184.2,208.6 L184.8,210.5 L185.5,212.4 L186.2,214.1 L186.9,215.8 L187.6,217.3 L188.2,218.7 L188.9,220.0 L189.6,221.2 L190.3,222.4 L191.0,223.5 L191.7,224.6 L192.3,225.6 L193.0,226.5 L193.7,227.4 L194.4,228.2 L195.1,229.0 L195.7,229.8 L196.4,230.5 L197.1,231.2 L197.8,231.9 L198.5,232.5 L199.1,233.1 L199.8,233.6 L200.5,234.1 L201.2,234.6 L201.9,235.1 L202.5,235.5 L203.2,235.9 L203.9,236.3 L204.6,236.7 L205.3,237.0 L206.0,237.4 L206.6,237.7 L207.3,238.0 L208.0,238.3 L208.7,238.5 L209.4,238.8 L210.0,239.0 L210.7,239.2 L211.4,239.5 L212.1,239.7 L212.8,239.8 L213.4,240.0 L214.1,240.2 L214.8,240.3 L215.5,240.5 L216.2,240.6 L216.8,240.8 L217.5,240.9 L218.2,241.0 L218.9,241.1 L219.6,241.2 L220.3,241.3 L220.9,241.4 L221.6,241.5 L222.3,241.6 L223.0,241.7 L223.7,241.7 L224.3,241.8 L225.0,241.9 L225.7,241.9 L226.4,242.0 L227.1,242.1 L227.7,242.1 L228.4,242.2 L229.1,242.2 L229.8,242.2 L230.5,242.3 L231.1,242.3 L231.8,242.4 L232.5,242.4 L233.2,242.4 L233.9,242.5 L234.6,242.5 L235.2,242.5 L235.9,242.5 L236.6,242.6 L237.3,242.6 L238.0,242.6 L238.6,242.6 L239.3,242.6 L240.0,242.7 L240.7,242.7 L241.4,242.7 L242.0,242.7 L242.7,242.7 L243.4,242.7 L244.1,242.7 L244.8,242.7 L245.4,242.8 L246.1,242.8 L246.8,242.8 L247.5,242.8 L248.2,242.8 L248.9,242.8 L249.5,242.8 L250.2,242.8 L250.9,242.8 L251.6,242.8 L252.3,242.8 L252.9,242.8 L253.6,242.8 L254.3,242.8 L255.0,242.8 L255.7,242.8 L256.3,242.9 L257.0,242.9 L257.7,242.9 L258.4,242.9 L259.1,242.9 L259.8,242.9 L260.4,242.9 L261.1,242.9 L261.8,242.9 L262.5,242.9 L263.2,242.9 L263.8,242.9 L264.5,242.9 L265.2,242.9 L265.9,242.9 L266.6,242.9 L267.2,242.9 L267.9,242.9 L268.6,242.9 L269.3,242.9 L270.0,242.9 L270.6,242.9 L271.3,242.9 L272.0,242.9 L272.7,242.9 L273.4,242.9 L274.1,242.9 L274.7,242.9 L275.4,242.9 L276.1,242.9 L276.8,242.9 L277.5,242.9 L278.1,242.9 L278.8,242.9 L279.5,242.9 L280.2,242.9 L280.9,242.9 L281.5,242.9 L282.2,242.9 L282.9,242.9 L283.6,242.9 L284.3,242.9 L284.9,242.9 L285.6,242.9 L286.3,242.9 L287.0,242.9 L287.7,242.9 L288.4,242.9 L289.0,242.9 L289.7,242.9 L290.4,242.9 L291.1,242.9 L291.8,242.9 L292.4,242.9 L293.1,242.9 L293.8,242.9 L294.5,242.9 L295.2,242.9 L295.8,242.9 L296.5,242.9 L297.2,242.9 L297.9,242.9 L298.6,242.9 L299.2,242.9 L299.9,242.9 L300.6,242.9 L301.3,242.9 L302.0,242.9 L302.7,242.9 L303.3,242.9 L304.0,242.9 L304.7,242.9 L305.4,242.9 L306.1,242.9 L306.7,242.9 L307.4,242.9 L308.1,242.9 L308.8,242.9 L309.5,242.9 L310.1,242.9 L310.8,242.9 L311.5,242.9 L312.2,242.9 L312.9,242.9 L313.5,242.9 L314.2,242.9 L314.9,242.9 L315.6,242.9 L316.3,242.9 L317.0,242.9" stroke="#0000ff" stroke-width="1.55" stroke-dasharray="4,3.1"/>
</g>
<g clip-path="url(#cpd)" fill="none" stroke-linejoin="round">
<path d="M316.5,242.9 L317.2,242.9 L317.9,242.9 L318.5,242.9 L319.2,242.9 L319.9,242.9 L320.6,242.9 L321.3,242.9 L321.9,242.9 L322.6,242.9 L323.3,242.9 L324.0,242.9 L324.7,242.9 L325.4,242.9 L326.0,242.9 L326.7,242.9 L327.4,242.8 L328.1,242.8 L328.8,242.8 L329.4,242.7 L330.1,242.6 L330.8,242.5 L331.5,242.4 L332.2,242.2 L332.8,241.9 L333.5,241.6 L334.2,241.2 L334.9,240.7 L335.6,240.2 L336.3,239.5 L336.9,238.6 L337.6,237.7 L338.3,236.5 L339.0,235.2 L339.7,233.8 L340.3,232.1 L341.0,230.3 L341.7,228.3 L342.4,226.1 L343.1,223.7 L343.7,221.1 L344.4,218.4 L345.1,215.5 L345.8,212.6 L346.5,209.5 L347.1,206.4 L347.8,203.3 L348.5,200.1 L349.2,197.1 L349.9,194.1 L350.6,191.3 L351.2,188.6 L351.9,186.2 L352.6,184.1 L353.3,182.3 L354.0,180.8 L354.6,179.7 L355.3,179.1 L356.0,178.9 L356.7,179.1 L357.4,179.8 L358.0,181.0 L358.7,182.7 L359.4,184.8 L360.1,187.4 L360.8,190.3 L361.4,193.6 L362.1,197.1 L362.8,200.9 L363.5,204.9 L364.2,209.0 L364.9,213.1 L365.5,217.3 L366.2,221.3 L366.9,225.2 L367.6,228.8 L368.3,232.2 L368.9,235.2 L369.6,237.8 L370.3,239.9 L371.0,241.5 L371.7,242.5 L372.3,242.9 L373.0,242.7 L373.7,241.8 L374.4,240.2 L375.1,238.0 L375.7,235.0 L376.4,231.5 L377.1,227.2 L377.8,222.4 L378.5,217.2 L379.2,211.4 L379.8,205.4 L380.5,199.0 L381.2,192.6 L381.9,186.0 L382.6,179.5 L383.2,173.1 L383.9,166.9 L384.6,161.0 L385.3,155.5 L386.0,150.3 L386.6,145.6 L387.3,141.4 L388.0,137.7 L388.7,134.5 L389.4,131.8 L390.0,129.6 L390.7,128.0 L391.4,126.7 L392.1,125.9 L392.8,125.5 L393.5,125.4 L394.1,125.8 L394.8,126.4 L395.5,127.4 L396.2,128.7 L396.9,130.2 L397.5,132.1 L398.2,134.1 L398.9,136.3 L399.6,138.8 L400.3,141.3 L400.9,144.0 L401.6,146.8 L402.3,149.7 L403.0,152.7 L403.7,155.7 L404.3,158.7 L405.0,161.8 L405.7,164.9 L406.4,167.9 L407.1,171.0 L407.8,174.0 L408.4,177.0 L409.1,179.9 L409.8,182.8 L410.5,185.6 L411.2,188.4 L411.8,191.1 L412.5,193.7 L413.2,196.2 L413.9,198.7 L414.6,201.0 L415.2,203.3 L415.9,205.5 L416.6,207.7 L417.3,209.7 L418.0,211.7" stroke="#000" stroke-width="1.6"/>
<path d="M316.5,242.9 L317.2,242.9 L317.9,242.9 L318.5,242.9 L319.2,242.9 L319.9,242.9 L320.6,242.9 L321.3,242.9 L321.9,242.9 L322.6,242.9 L323.3,242.9 L324.0,242.9 L324.7,242.9 L325.4,242.9 L326.0,242.9 L326.7,242.9 L327.4,242.9 L328.1,242.8 L328.8,242.8 L329.4,242.8 L330.1,242.7 L330.8,242.6 L331.5,242.5 L332.2,242.4 L332.8,242.2 L333.5,241.9 L334.2,241.6 L334.9,241.3 L335.6,240.8 L336.3,240.3 L336.9,239.7 L337.6,239.0 L338.3,238.2 L339.0,237.3 L339.7,236.2 L340.3,235.0 L341.0,233.7 L341.7,232.3 L342.4,230.8 L343.1,229.1 L343.7,227.3 L344.4,225.4 L345.1,223.5 L345.8,221.5 L346.5,219.4 L347.1,217.3 L347.8,215.2 L348.5,213.1 L349.2,211.1 L349.9,209.2 L350.6,207.4 L351.2,205.7 L351.9,204.2 L352.6,202.9 L353.3,201.8 L354.0,201.0 L354.6,200.4 L355.3,200.1 L356.0,200.1 L356.7,200.4 L357.4,201.1 L358.0,202.0 L358.7,203.2 L359.4,204.8 L360.1,206.5 L360.8,208.5 L361.4,210.8 L362.1,213.1 L362.8,215.7 L363.5,218.3 L364.2,221.0 L364.9,223.7 L365.5,226.4 L366.2,229.0 L366.9,231.5 L367.6,233.8 L368.3,236.0 L368.9,237.9 L369.6,239.6 L370.3,241.0 L371.0,242.0 L371.7,242.6 L372.3,242.9 L373.0,242.8 L373.7,242.2 L374.4,241.2 L375.1,239.7 L375.7,237.8 L376.4,235.4 L377.1,232.7 L377.8,229.5 L378.5,226.0 L379.2,222.3 L379.8,218.3 L380.5,214.1 L381.2,209.8 L381.9,205.5 L382.6,201.2 L383.2,197.0 L383.9,192.9 L384.6,189.0 L385.3,185.4 L386.0,182.0 L386.6,178.9 L387.3,176.2 L388.0,173.7 L388.7,171.6 L389.4,169.9 L390.0,168.4 L390.7,167.3 L391.4,166.5 L392.1,165.9 L392.8,165.6 L393.5,165.5 L394.1,165.6 L394.8,165.9 L395.5,166.4 L396.2,167.1 L396.9,168.0 L397.5,169.0 L398.2,170.2 L398.9,171.5 L399.6,172.9 L400.3,174.3 L400.9,175.9 L401.6,177.5 L402.3,179.2 L403.0,181.0 L403.7,182.7 L404.3,184.5 L405.0,186.4 L405.7,188.2 L406.4,190.1 L407.1,191.9 L407.8,193.7 L408.4,195.5 L409.1,197.3 L409.8,199.1 L410.5,200.9 L411.2,202.6 L411.8,204.3 L412.5,205.9 L413.2,207.5 L413.9,209.1 L414.6,210.6 L415.2,212.1 L415.9,213.6 L416.6,215.0 L417.3,216.4 L418.0,217.7" stroke="#ff0000" stroke-width="1.55" stroke-dasharray="9,6"/>
<path d="M316.5,242.9 L317.2,242.9 L317.9,242.9 L318.5,242.9 L319.2,242.9 L319.9,242.9 L320.6,242.9 L321.3,242.9 L321.9,242.9 L322.6,242.9 L323.3,242.9 L324.0,242.9 L324.7,242.9 L325.4,242.9 L326.0,242.9 L326.7,242.9 L327.4,242.8 L328.1,242.8 L328.8,242.8 L329.4,242.7 L330.1,242.6 L330.8,242.4 L331.5,242.2 L332.2,242.0 L332.8,241.7 L333.5,241.3 L334.2,240.8 L334.9,240.1 L335.6,239.3 L336.3,238.4 L336.9,237.2 L337.6,235.9 L338.3,234.3 L339.0,232.4 L339.7,230.3 L340.3,227.9 L341.0,225.2 L341.7,222.2 L342.4,218.8 L343.1,215.2 L343.7,211.2 L344.4,206.9 L345.1,202.4 L345.8,197.6 L346.5,192.5 L347.1,187.3 L347.8,182.0 L348.5,176.6 L349.2,171.2 L349.9,165.9 L350.6,160.7 L351.2,155.7 L351.9,151.0 L352.6,146.7 L353.3,142.8 L354.0,139.5 L354.6,136.8 L355.3,134.7 L356.0,133.4 L356.7,132.9 L357.4,133.2 L358.0,134.4 L358.7,136.6 L359.4,139.6 L360.1,143.5 L360.8,148.2 L361.4,153.7 L362.1,159.8 L362.8,166.4 L363.5,173.5 L364.2,180.9 L364.9,188.5 L365.5,196.0 L366.2,203.5 L366.9,210.6 L367.6,217.4 L368.3,223.5 L368.9,229.0 L369.6,233.7 L370.3,237.5 L371.0,240.4 L371.7,242.2 L372.3,242.9 L373.0,242.5 L373.7,241.0 L374.4,238.4 L375.1,234.7 L375.7,229.9 L376.4,224.1 L377.1,217.4 L377.8,209.9 L378.5,201.6 L379.2,192.8 L379.8,183.6 L380.5,174.1 L381.2,164.4 L381.9,154.8 L382.6,145.2 L383.2,135.9 L383.9,127.0 L384.6,118.5 L385.3,110.6 L386.0,103.3 L386.6,96.7 L387.3,90.8 L388.0,85.6 L388.7,81.1 L389.4,77.4 L390.0,74.3 L390.7,72.0 L391.4,70.2 L392.1,69.1 L392.8,68.6 L393.5,68.5 L394.1,69.0 L394.8,70.0 L395.5,71.6 L396.2,73.7 L396.9,76.2 L397.5,79.1 L398.2,82.4 L398.9,86.0 L399.6,89.9 L400.3,94.1 L400.9,98.4 L401.6,102.9 L402.3,107.6 L403.0,112.3 L403.7,117.2 L404.3,122.0 L405.0,126.9 L405.7,131.8 L406.4,136.7 L407.1,141.5 L407.8,146.3 L408.4,151.0 L409.1,155.6 L409.8,160.1 L410.5,164.5 L411.2,168.7 L411.8,172.8 L412.5,176.8 L413.2,180.7 L413.9,184.4 L414.6,188.0 L415.2,191.4 L415.9,194.6 L416.6,197.8 L417.3,200.7 L418.0,203.6" stroke="#0000ff" stroke-width="1.55" stroke-dasharray="4,3.1"/>
</g>
<g clip-path="url(#cpe)" fill="none" stroke-linejoin="round">
<path d="M89.5,459.2 L90.2,459.2 L90.9,459.2 L91.5,459.2 L92.2,459.2 L92.9,459.2 L93.6,459.2 L94.3,459.2 L94.9,459.2 L95.6,459.2 L96.3,459.2 L97.0,459.2 L97.7,459.2 L98.4,459.2 L99.0,459.2 L99.7,459.2 L100.4,459.2 L101.1,459.2 L101.8,459.2 L102.4,459.2 L103.1,459.2 L103.8,459.2 L104.5,459.2 L105.2,459.2 L105.8,459.2 L106.5,459.2 L107.2,459.2 L107.9,459.2 L108.6,459.2 L109.3,459.2 L109.9,459.2 L110.6,459.2 L111.3,459.2 L112.0,459.2 L112.7,459.2 L113.3,459.2 L114.0,459.2 L114.7,459.2 L115.4,459.2 L116.1,459.2 L116.7,459.2 L117.4,459.2 L118.1,459.1 L118.8,459.1 L119.5,459.1 L120.1,459.1 L120.8,459.1 L121.5,459.0 L122.2,459.0 L122.9,459.0 L123.6,458.9 L124.2,458.9 L124.9,458.8 L125.6,458.7 L126.3,458.7 L127.0,458.6 L127.6,458.5 L128.3,458.3 L129.0,458.2 L129.7,458.0 L130.4,457.9 L131.0,457.7 L131.7,457.5 L132.4,457.3 L133.1,457.0 L133.8,456.8 L134.4,456.5 L135.1,456.2 L135.8,455.9 L136.5,455.5 L137.2,455.2 L137.9,454.8 L138.5,454.4 L139.2,454.0 L139.9,453.6 L140.6,453.1 L141.3,452.7 L141.9,452.2 L142.6,451.8 L143.3,451.3 L144.0,450.8 L144.7,450.4 L145.3,449.9 L146.0,449.4 L146.7,449.0 L147.4,448.5 L148.1,448.1 L148.7,447.7 L149.4,447.3 L150.1,446.9 L150.8,446.6 L151.5,446.3 L152.2,446.0 L152.8,445.7 L153.5,445.5 L154.2,445.3 L154.9,445.1 L155.6,445.0 L156.2,444.9 L156.9,444.9 L157.6,444.9 L158.3,444.9 L159.0,444.9 L159.6,445.0 L160.3,445.1 L161.0,445.3 L161.7,445.5 L162.4,445.7 L163.0,445.9 L163.7,446.2 L164.4,446.5 L165.1,446.8 L165.8,447.1 L166.5,447.5 L167.1,447.8 L167.8,448.2 L168.5,448.6 L169.2,449.0 L169.9,449.4 L170.5,449.8 L171.2,450.2 L171.9,450.6 L172.6,451.0 L173.3,451.4 L173.9,451.8 L174.6,452.2 L175.3,452.6 L176.0,453.0 L176.7,453.4 L177.3,453.7 L178.0,454.1 L178.7,454.4 L179.4,454.7 L180.1,455.0 L180.8,455.2 L181.4,455.5 L182.1,455.7 L182.8,455.9 L183.5,456.1 L184.2,456.3 L184.8,456.5 L185.5,456.7 L186.2,456.8 L186.9,457.0 L187.6,457.1 L188.2,457.3 L188.9,457.4 L189.6,457.5 L190.3,457.6 L191.0,457.7 L191.7,457.8 L192.3,457.9 L193.0,458.0 L193.7,458.0 L194.4,458.1 L195.1,458.2 L195.7,458.2 L196.4,458.3 L197.1,458.4 L197.8,458.4 L198.5,458.5 L199.1,458.5 L199.8,458.6 L200.5,458.6 L201.2,458.6 L201.9,458.7 L202.5,458.7 L203.2,458.7 L203.9,458.8 L204.6,458.8 L205.3,458.8 L206.0,458.8 L206.6,458.9 L207.3,458.9 L208.0,458.9 L208.7,458.9 L209.4,458.9 L210.0,459.0 L210.7,459.0 L211.4,459.0 L212.1,459.0 L212.8,459.0 L213.4,459.0 L214.1,459.0 L214.8,459.0 L215.5,459.1 L216.2,459.1 L216.8,459.1 L217.5,459.1 L218.2,459.1 L218.9,459.1 L219.6,459.1 L220.3,459.1 L220.9,459.1 L221.6,459.1 L222.3,459.1 L223.0,459.1 L223.7,459.1 L224.3,459.1 L225.0,459.1 L225.7,459.1 L226.4,459.1 L227.1,459.2 L227.7,459.2 L228.4,459.2 L229.1,459.2 L229.8,459.2 L230.5,459.2 L231.1,459.2 L231.8,459.2 L232.5,459.2 L233.2,459.2 L233.9,459.2 L234.6,459.2 L235.2,459.2 L235.9,459.2 L236.6,459.2 L237.3,459.2 L238.0,459.2 L238.6,459.2 L239.3,459.2 L240.0,459.2 L240.7,459.2 L241.4,459.2 L242.0,459.2 L242.7,459.2 L243.4,459.2 L244.1,459.2 L244.8,459.2 L245.4,459.2 L246.1,459.2 L246.8,459.2 L247.5,459.2 L248.2,459.2 L248.9,459.2 L249.5,459.2 L250.2,459.2 L250.9,459.2 L251.6,459.2 L252.3,459.2 L252.9,459.2 L253.6,459.2 L254.3,459.2 L255.0,459.2 L255.7,459.2 L256.3,459.2 L257.0,459.2 L257.7,459.2 L258.4,459.2 L259.1,459.2 L259.8,459.2 L260.4,459.2 L261.1,459.2 L261.8,459.2 L262.5,459.2 L263.2,459.2 L263.8,459.2 L264.5,459.2 L265.2,459.2 L265.9,459.2 L266.6,459.2 L267.2,459.2 L267.9,459.2 L268.6,459.2 L269.3,459.2 L270.0,459.2 L270.6,459.2 L271.3,459.2 L272.0,459.2 L272.7,459.2 L273.4,459.2 L274.1,459.2 L274.7,459.2 L275.4,459.2 L276.1,459.2 L276.8,459.2 L277.5,459.2 L278.1,459.2 L278.8,459.2 L279.5,459.2 L280.2,459.2 L280.9,459.2 L281.5,459.2 L282.2,459.2 L282.9,459.2 L283.6,459.2 L284.3,459.2 L284.9,459.2 L285.6,459.2 L286.3,459.2 L287.0,459.2 L287.7,459.2 L288.4,459.2 L289.0,459.2 L289.7,459.2 L290.4,459.2 L291.1,459.2 L291.8,459.2 L292.4,459.2 L293.1,459.2 L293.8,459.2 L294.5,459.2 L295.2,459.2 L295.8,459.2 L296.5,459.2 L297.2,459.2 L297.9,459.2 L298.6,459.2 L299.2,459.2 L299.9,459.2 L300.6,459.2 L301.3,459.2 L302.0,459.2 L302.7,459.2 L303.3,459.2 L304.0,459.2 L304.7,459.2 L305.4,459.2 L306.1,459.2 L306.7,459.2 L307.4,459.2 L308.1,459.2 L308.8,459.2 L309.5,459.2 L310.1,459.2 L310.8,459.2 L311.5,459.2 L312.2,459.2 L312.9,459.2 L313.5,459.2 L314.2,459.2 L314.9,459.2 L315.6,459.2 L316.3,459.2 L317.0,459.2" stroke="#000" stroke-width="1.6"/>
<path d="M89.5,459.2 L90.2,459.2 L90.9,459.2 L91.5,459.2 L92.2,459.2 L92.9,459.2 L93.6,459.2 L94.3,459.2 L94.9,459.2 L95.6,459.2 L96.3,459.2 L97.0,459.2 L97.7,459.2 L98.4,459.2 L99.0,459.2 L99.7,459.2 L100.4,459.2 L101.1,459.2 L101.8,459.2 L102.4,459.2 L103.1,459.2 L103.8,459.2 L104.5,459.2 L105.2,459.2 L105.8,459.2 L106.5,459.2 L107.2,459.2 L107.9,459.2 L108.6,459.2 L109.3,459.2 L109.9,459.2 L110.6,459.2 L111.3,459.2 L112.0,459.2 L112.7,459.2 L113.3,459.2 L114.0,459.2 L114.7,459.2 L115.4,459.2 L116.1,459.2 L116.7,459.2 L117.4,459.2 L118.1,459.2 L118.8,459.2 L119.5,459.2 L120.1,459.2 L120.8,459.2 L121.5,459.2 L122.2,459.2 L122.9,459.2 L123.6,459.2 L124.2,459.2 L124.9,459.2 L125.6,459.2 L126.3,459.2 L127.0,459.2 L127.6,459.2 L128.3,459.2 L129.0,459.2 L129.7,459.2 L130.4,459.2 L131.0,459.2 L131.7,459.2 L132.4,459.2 L133.1,459.2 L133.8,459.2 L134.4,459.2 L135.1,459.2 L135.8,459.1 L136.5,459.1 L137.2,459.1 L137.9,459.1 L138.5,459.1 L139.2,459.1 L139.9,459.1 L140.6,459.1 L141.3,459.1 L141.9,459.1 L142.6,459.1 L143.3,459.1 L144.0,459.1 L144.7,459.1 L145.3,459.0 L146.0,459.0 L146.7,459.0 L147.4,459.0 L148.1,459.0 L148.7,459.0 L149.4,459.0 L150.1,459.0 L150.8,459.0 L151.5,459.0 L152.2,459.0 L152.8,459.0 L153.5,459.0 L154.2,459.0 L154.9,459.0 L155.6,459.0 L156.2,459.0 L156.9,459.0 L157.6,459.0 L158.3,459.0 L159.0,459.0 L159.6,459.0 L160.3,459.0 L161.0,459.0 L161.7,459.0 L162.4,459.0 L163.0,459.0 L163.7,459.0 L164.4,459.0 L165.1,459.0 L165.8,459.0 L166.5,459.0 L167.1,459.0 L167.8,459.0 L168.5,459.0 L169.2,459.0 L169.9,459.0 L170.5,459.0 L171.2,459.1 L171.9,459.1 L172.6,459.1 L173.3,459.1 L173.9,459.1 L174.6,459.1 L175.3,459.1 L176.0,459.1 L176.7,459.1 L177.3,459.1 L178.0,459.1 L178.7,459.1 L179.4,459.1 L180.1,459.1 L180.8,459.1 L181.4,459.1 L182.1,459.1 L182.8,459.1 L183.5,459.1 L184.2,459.2 L184.8,459.2 L185.5,459.2 L186.2,459.2 L186.9,459.2 L187.6,459.2 L188.2,459.2 L188.9,459.2 L189.6,459.2 L190.3,459.2 L191.0,459.2 L191.7,459.2 L192.3,459.2 L193.0,459.2 L193.7,459.2 L194.4,459.2 L195.1,459.2 L195.7,459.2 L196.4,459.2 L197.1,459.2 L197.8,459.2 L198.5,459.2 L199.1,459.2 L199.8,459.2 L200.5,459.2 L201.2,459.2 L201.9,459.2 L202.5,459.2 L203.2,459.2 L203.9,459.2 L204.6,459.2 L205.3,459.2 L206.0,459.2 L206.6,459.2 L207.3,459.2 L208.0,459.2 L208.7,459.2 L209.4,459.2 L210.0,459.2 L210.7,459.2 L211.4,459.2 L212.1,459.2 L212.8,459.2 L213.4,459.2 L214.1,459.2 L214.8,459.2 L215.5,459.2 L216.2,459.2 L216.8,459.2 L217.5,459.2 L218.2,459.2 L218.9,459.2 L219.6,459.2 L220.3,459.2 L220.9,459.2 L221.6,459.2 L222.3,459.2 L223.0,459.2 L223.7,459.2 L224.3,459.2 L225.0,459.2 L225.7,459.2 L226.4,459.2 L227.1,459.2 L227.7,459.2 L228.4,459.2 L229.1,459.2 L229.8,459.2 L230.5,459.2 L231.1,459.2 L231.8,459.2 L232.5,459.2 L233.2,459.2 L233.9,459.2 L234.6,459.2 L235.2,459.2 L235.9,459.2 L236.6,459.2 L237.3,459.2 L238.0,459.2 L238.6,459.2 L239.3,459.2 L240.0,459.2 L240.7,459.2 L241.4,459.2 L242.0,459.2 L242.7,459.2 L243.4,459.2 L244.1,459.2 L244.8,459.2 L245.4,459.2 L246.1,459.2 L246.8,459.2 L247.5,459.2 L248.2,459.2 L248.9,459.2 L249.5,459.2 L250.2,459.2 L250.9,459.2 L251.6,459.2 L252.3,459.2 L252.9,459.2 L253.6,459.2 L254.3,459.2 L255.0,459.2 L255.7,459.2 L256.3,459.2 L257.0,459.2 L257.7,459.2 L258.4,459.2 L259.1,459.2 L259.8,459.2 L260.4,459.2 L261.1,459.2 L261.8,459.2 L262.5,459.2 L263.2,459.2 L263.8,459.2 L264.5,459.2 L265.2,459.2 L265.9,459.2 L266.6,459.2 L267.2,459.2 L267.9,459.2 L268.6,459.2 L269.3,459.2 L270.0,459.2 L270.6,459.2 L271.3,459.2 L272.0,459.2 L272.7,459.2 L273.4,459.2 L274.1,459.2 L274.7,459.2 L275.4,459.2 L276.1,459.2 L276.8,459.2 L277.5,459.2 L278.1,459.2 L278.8,459.2 L279.5,459.2 L280.2,459.2 L280.9,459.2 L281.5,459.2 L282.2,459.2 L282.9,459.2 L283.6,459.2 L284.3,459.2 L284.9,459.2 L285.6,459.2 L286.3,459.2 L287.0,459.2 L287.7,459.2 L288.4,459.2 L289.0,459.2 L289.7,459.2 L290.4,459.2 L291.1,459.2 L291.8,459.2 L292.4,459.2 L293.1,459.2 L293.8,459.2 L294.5,459.2 L295.2,459.2 L295.8,459.2 L296.5,459.2 L297.2,459.2 L297.9,459.2 L298.6,459.2 L299.2,459.2 L299.9,459.2 L300.6,459.2 L301.3,459.2 L302.0,459.2 L302.7,459.2 L303.3,459.2 L304.0,459.2 L304.7,459.2 L305.4,459.2 L306.1,459.2 L306.7,459.2 L307.4,459.2 L308.1,459.2 L308.8,459.2 L309.5,459.2 L310.1,459.2 L310.8,459.2 L311.5,459.2 L312.2,459.2 L312.9,459.2 L313.5,459.2 L314.2,459.2 L314.9,459.2 L315.6,459.2 L316.3,459.2 L317.0,459.2" stroke="#ff0000" stroke-width="1.55" stroke-dasharray="9,6"/>
<path d="M89.5,459.2 L90.2,459.2 L90.9,459.2 L91.5,459.2 L92.2,459.2 L92.9,459.2 L93.6,459.2 L94.3,459.2 L94.9,459.2 L95.6,459.2 L96.3,459.2 L97.0,459.2 L97.7,459.2 L98.4,459.2 L99.0,459.2 L99.7,459.2 L100.4,459.2 L101.1,459.2 L101.8,459.2 L102.4,459.2 L103.1,459.2 L103.8,459.2 L104.5,459.2 L105.2,459.2 L105.8,459.2 L106.5,459.2 L107.2,459.2 L107.9,459.2 L108.6,459.2 L109.3,459.2 L109.9,459.2 L110.6,459.2 L111.3,459.2 L112.0,459.2 L112.7,459.1 L113.3,459.1 L114.0,459.1 L114.7,459.0 L115.4,459.0 L116.1,458.9 L116.7,458.9 L117.4,458.8 L118.1,458.7 L118.8,458.5 L119.5,458.3 L120.1,458.1 L120.8,457.9 L121.5,457.6 L122.2,457.2 L122.9,456.8 L123.6,456.3 L124.2,455.8 L124.9,455.1 L125.6,454.4 L126.3,453.6 L127.0,452.6 L127.6,451.6 L128.3,450.4 L129.0,449.1 L129.7,447.6 L130.4,446.0 L131.0,444.3 L131.7,442.4 L132.4,440.3 L133.1,438.1 L133.8,435.6 L134.4,433.1 L135.1,430.3 L135.8,427.4 L136.5,424.4 L137.2,421.1 L137.9,417.8 L138.5,414.3 L139.2,410.7 L139.9,407.0 L140.6,403.2 L141.3,399.3 L141.9,395.4 L142.6,391.4 L143.3,387.4 L144.0,383.5 L144.7,379.5 L145.3,375.6 L146.0,371.8 L146.7,368.1 L147.4,364.5 L148.1,361.1 L148.7,357.8 L149.4,354.8 L150.1,351.9 L150.8,349.3 L151.5,346.9 L152.2,344.7 L152.8,342.9 L153.5,341.3 L154.2,340.0 L154.9,339.0 L155.6,338.3 L156.2,337.9 L156.9,337.8 L157.6,338.0 L158.3,338.5 L159.0,339.3 L159.6,340.4 L160.3,341.7 L161.0,343.3 L161.7,345.2 L162.4,347.3 L163.0,349.5 L163.7,352.0 L164.4,354.7 L165.1,357.5 L165.8,360.5 L166.5,363.6 L167.1,366.8 L167.8,370.1 L168.5,373.5 L169.2,376.9 L169.9,380.3 L170.5,383.8 L171.2,387.2 L171.9,390.6 L172.6,394.1 L173.3,397.4 L173.9,400.7 L174.6,404.0 L175.3,407.1 L176.0,410.2 L176.7,413.2 L177.3,416.1 L178.0,418.9 L178.7,421.6 L179.4,424.2 L180.1,426.6 L180.8,429.0 L181.4,431.2 L182.1,433.3 L182.8,435.2 L183.5,437.0 L184.2,438.7 L184.8,440.2 L185.5,441.6 L186.2,442.9 L186.9,444.1 L187.6,445.3 L188.2,446.3 L188.9,447.3 L189.6,448.1 L190.3,449.0 L191.0,449.7 L191.7,450.4 L192.3,451.1 L193.0,451.7 L193.7,452.2 L194.4,452.8 L195.1,453.2 L195.7,453.7 L196.4,454.1 L197.1,454.5 L197.8,454.8 L198.5,455.2 L199.1,455.5 L199.8,455.7 L200.5,456.0 L201.2,456.2 L201.9,456.5 L202.5,456.7 L203.2,456.8 L203.9,457.0 L204.6,457.2 L205.3,457.3 L206.0,457.5 L206.6,457.6 L207.3,457.7 L208.0,457.8 L208.7,457.9 L209.4,458.0 L210.0,458.1 L210.7,458.2 L211.4,458.3 L212.1,458.3 L212.8,458.4 L213.4,458.5 L214.1,458.5 L214.8,458.6 L215.5,458.6 L216.2,458.7 L216.8,458.7 L217.5,458.7 L218.2,458.8 L218.9,458.8 L219.6,458.8 L220.3,458.9 L220.9,458.9 L221.6,458.9 L222.3,458.9 L223.0,459.0 L223.7,459.0 L224.3,459.0 L225.0,459.0 L225.7,459.0 L226.4,459.0 L227.1,459.0 L227.7,459.1 L228.4,459.1 L229.1,459.1 L229.8,459.1 L230.5,459.1 L231.1,459.1 L231.8,459.1 L232.5,459.1 L233.2,459.1 L233.9,459.1 L234.6,459.1 L235.2,459.1 L235.9,459.1 L236.6,459.1 L237.3,459.2 L238.0,459.2 L238.6,459.2 L239.3,459.2 L240.0,459.2 L240.7,459.2 L241.4,459.2 L242.0,459.2 L242.7,459.2 L243.4,459.2 L244.1,459.2 L244.8,459.2 L245.4,459.2 L246.1,459.2 L246.8,459.2 L247.5,459.2 L248.2,459.2 L248.9,459.2 L249.5,459.2 L250.2,459.2 L250.9,459.2 L251.6,459.2 L252.3,459.2 L252.9,459.2 L253.6,459.2 L254.3,459.2 L255.0,459.2 L255.7,459.2 L256.3,459.2 L257.0,459.2 L257.7,459.2 L258.4,459.2 L259.1,459.2 L259.8,459.2 L260.4,459.2 L261.1,459.2 L261.8,459.2 L262.5,459.2 L263.2,459.2 L263.8,459.2 L264.5,459.2 L265.2,459.2 L265.9,459.2 L266.6,459.2 L267.2,459.2 L267.9,459.2 L268.6,459.2 L269.3,459.2 L270.0,459.2 L270.6,459.2 L271.3,459.2 L272.0,459.2 L272.7,459.2 L273.4,459.2 L274.1,459.2 L274.7,459.2 L275.4,459.2 L276.1,459.2 L276.8,459.2 L277.5,459.2 L278.1,459.2 L278.8,459.2 L279.5,459.2 L280.2,459.2 L280.9,459.2 L281.5,459.2 L282.2,459.2 L282.9,459.2 L283.6,459.2 L284.3,459.2 L284.9,459.2 L285.6,459.2 L286.3,459.2 L287.0,459.2 L287.7,459.2 L288.4,459.2 L289.0,459.2 L289.7,459.2 L290.4,459.2 L291.1,459.2 L291.8,459.2 L292.4,459.2 L293.1,459.2 L293.8,459.2 L294.5,459.2 L295.2,459.2 L295.8,459.2 L296.5,459.2 L297.2,459.2 L297.9,459.2 L298.6,459.2 L299.2,459.2 L299.9,459.2 L300.6,459.2 L301.3,459.2 L302.0,459.2 L302.7,459.2 L303.3,459.2 L304.0,459.2 L304.7,459.2 L305.4,459.2 L306.1,459.2 L306.7,459.2 L307.4,459.2 L308.1,459.2 L308.8,459.2 L309.5,459.2 L310.1,459.2 L310.8,459.2 L311.5,459.2 L312.2,459.2 L312.9,459.2 L313.5,459.2 L314.2,459.2 L314.9,459.2 L315.6,459.2 L316.3,459.2 L317.0,459.2" stroke="#0000ff" stroke-width="1.55" stroke-dasharray="4,3.1"/>
</g>
<g clip-path="url(#cpf)" fill="none" stroke-linejoin="round">
<path d="M316.5,459.2 L317.2,459.2 L317.9,459.2 L318.5,459.2 L319.2,459.2 L319.9,459.2 L320.6,459.2 L321.3,459.2 L321.9,459.2 L322.6,459.2 L323.3,459.2 L324.0,459.2 L324.7,459.2 L325.4,459.2 L326.0,459.2 L326.7,459.2 L327.4,459.2 L328.1,459.2 L328.8,459.2 L329.4,459.2 L330.1,459.2 L330.8,459.2 L331.5,459.2 L332.2,459.2 L332.8,459.2 L333.5,459.2 L334.2,459.2 L334.9,459.2 L335.6,459.2 L336.3,459.2 L336.9,459.1 L337.6,459.1 L338.3,459.1 L339.0,459.0 L339.7,459.0 L340.3,458.9 L341.0,458.8 L341.7,458.7 L342.4,458.5 L343.1,458.3 L343.7,458.0 L344.4,457.7 L345.1,457.3 L345.8,456.9 L346.5,456.3 L347.1,455.7 L347.8,454.9 L348.5,454.0 L349.2,453.0 L349.9,451.8 L350.6,450.4 L351.2,448.9 L351.9,447.1 L352.6,445.1 L353.3,442.9 L354.0,440.5 L354.6,437.8 L355.3,434.8 L356.0,431.6 L356.7,428.1 L357.4,424.3 L358.0,420.2 L358.7,415.9 L359.4,411.3 L360.1,406.4 L360.8,401.3 L361.4,396.0 L362.1,390.4 L362.8,384.7 L363.5,378.8 L364.2,372.8 L364.9,366.7 L365.5,360.5 L366.2,354.3 L366.9,348.0 L367.6,341.9 L368.3,335.8 L368.9,329.9 L369.6,324.1 L370.3,318.6 L371.0,313.3 L371.7,308.3 L372.3,303.7 L373.0,299.4 L373.7,295.6 L374.4,292.2 L375.1,289.3 L375.7,286.8 L376.4,284.9 L377.1,283.5 L377.8,282.7 L378.5,282.4 L379.2,282.6 L379.8,283.4 L380.5,284.8 L381.2,286.6 L381.9,289.0 L382.6,291.8 L383.2,295.1 L383.9,298.8 L384.6,302.9 L385.3,307.4 L386.0,312.1 L386.6,317.2 L387.3,322.5 L388.0,327.9 L388.7,333.5 L389.4,339.3 L390.0,345.1 L390.7,350.9 L391.4,356.7 L392.1,362.5 L392.8,368.3 L393.5,373.9 L394.1,379.4 L394.8,384.8 L395.5,390.0 L396.2,395.0 L396.9,399.8 L397.5,404.4 L398.2,408.8 L398.9,412.8 L399.6,416.5 L400.3,419.9 L400.9,423.0 L401.6,425.9 L402.3,428.5 L403.0,431.0 L403.7,433.2 L404.3,435.3 L405.0,437.2 L405.7,438.9 L406.4,440.6 L407.1,442.0 L407.8,443.4 L408.4,444.7 L409.1,445.8 L409.8,446.9 L410.5,447.9 L411.2,448.8 L411.8,449.6 L412.5,450.4 L413.2,451.1 L413.9,451.7 L414.6,452.3 L415.2,452.9 L415.9,453.4 L416.6,453.8 L417.3,454.3 L418.0,454.6" stroke="#000" stroke-width="1.6"/>
<path d="M316.5,459.2 L317.2,459.2 L317.9,459.2 L318.5,459.2 L319.2,459.2 L319.9,459.2 L320.6,459.2 L321.3,459.2 L321.9,459.2 L322.6,459.2 L323.3,459.2 L324.0,459.2 L324.7,459.2 L325.4,459.2 L326.0,459.2 L326.7,459.2 L327.4,459.2 L328.1,459.2 L328.8,459.2 L329.4,459.2 L330.1,459.2 L330.8,459.2 L331.5,459.2 L332.2,459.2 L332.8,459.2 L333.5,459.2 L334.2,459.2 L334.9,459.2 L335.6,459.2 L336.3,459.2 L336.9,459.1 L337.6,459.1 L338.3,459.1 L339.0,459.0 L339.7,459.0 L340.3,458.9 L341.0,458.8 L341.7,458.7 L342.4,458.5 L343.1,458.3 L343.7,458.0 L344.4,457.7 L345.1,457.3 L345.8,456.9 L346.5,456.3 L347.1,455.7 L347.8,454.9 L348.5,454.0 L349.2,453.0 L349.9,451.8 L350.6,450.4 L351.2,448.8 L351.9,447.1 L352.6,445.1 L353.3,442.9 L354.0,440.4 L354.6,437.7 L355.3,434.7 L356.0,431.5 L356.7,428.0 L357.4,424.2 L358.0,420.1 L358.7,415.8 L359.4,411.2 L360.1,406.3 L360.8,401.2 L361.4,395.9 L362.1,390.3 L362.8,384.5 L363.5,378.6 L364.2,372.6 L364.9,366.5 L365.5,360.3 L366.2,354.0 L366.9,347.8 L367.6,341.6 L368.3,335.5 L368.9,329.6 L369.6,323.8 L370.3,318.3 L371.0,313.0 L371.7,308.0 L372.3,303.3 L373.0,299.1 L373.7,295.2 L374.4,291.8 L375.1,288.9 L375.7,286.4 L376.4,284.5 L377.1,283.1 L377.8,282.3 L378.5,282.0 L379.2,282.3 L379.8,283.1 L380.5,284.4 L381.2,286.3 L381.9,288.6 L382.6,291.5 L383.2,294.8 L383.9,298.5 L384.6,302.6 L385.3,307.0 L386.0,311.8 L386.6,316.9 L387.3,322.2 L388.0,327.6 L388.7,333.3 L389.4,339.0 L390.0,344.8 L390.7,350.7 L391.4,356.5 L392.1,362.3 L392.8,368.1 L393.5,373.7 L394.1,379.2 L394.8,384.6 L395.5,389.8 L396.2,394.9 L396.9,399.7 L397.5,404.3 L398.2,408.7 L398.9,412.7 L399.6,416.4 L400.3,419.8 L400.9,422.9 L401.6,425.8 L402.3,428.5 L403.0,430.9 L403.7,433.2 L404.3,435.2 L405.0,437.1 L405.7,438.9 L406.4,440.5 L407.1,442.0 L407.8,443.4 L408.4,444.6 L409.1,445.8 L409.8,446.9 L410.5,447.8 L411.2,448.7 L411.8,449.6 L412.5,450.3 L413.2,451.0 L413.9,451.7 L414.6,452.3 L415.2,452.8 L415.9,453.3 L416.6,453.8 L417.3,454.2 L418.0,454.6" stroke="#ff0000" stroke-width="1.55" stroke-dasharray="9,6"/>
<path d="M316.5,459.2 L317.2,459.2 L317.9,459.2 L318.5,459.2 L319.2,459.2 L319.9,459.2 L320.6,459.2 L321.3,459.2 L321.9,459.2 L322.6,459.2 L323.3,459.2 L324.0,459.2 L324.7,459.2 L325.4,459.2 L326.0,459.2 L326.7,459.2 L327.4,459.2 L328.1,459.2 L328.8,459.2 L329.4,459.2 L330.1,459.2 L330.8,459.2 L331.5,459.2 L332.2,459.2 L332.8,459.2 L333.5,459.2 L334.2,459.2 L334.9,459.2 L335.6,459.2 L336.3,459.2 L336.9,459.2 L337.6,459.1 L338.3,459.1 L339.0,459.1 L339.7,459.1 L340.3,459.0 L341.0,459.0 L341.7,458.9 L342.4,458.8 L343.1,458.6 L343.7,458.5 L344.4,458.3 L345.1,458.1 L345.8,457.8 L346.5,457.4 L347.1,457.0 L347.8,456.5 L348.5,455.9 L349.2,455.3 L349.9,454.5 L350.6,453.6 L351.2,452.6 L351.9,451.4 L352.6,450.1 L353.3,448.7 L354.0,447.1 L354.6,445.3 L355.3,443.3 L356.0,441.1 L356.7,438.7 L357.4,436.2 L358.0,433.4 L358.7,430.5 L359.4,427.3 L360.1,424.0 L360.8,420.4 L361.4,416.7 L362.1,412.9 L362.8,408.8 L363.5,404.7 L364.2,400.4 L364.9,396.1 L365.5,391.7 L366.2,387.2 L366.9,382.8 L367.6,378.3 L368.3,373.9 L368.9,369.6 L369.6,365.4 L370.3,361.3 L371.0,357.4 L371.7,353.6 L372.3,350.1 L373.0,346.9 L373.7,343.9 L374.4,341.3 L375.1,339.0 L375.7,337.0 L376.4,335.4 L377.1,334.1 L377.8,333.3 L378.5,332.8 L379.2,332.7 L379.8,333.0 L380.5,333.7 L381.2,334.8 L381.9,336.2 L382.6,338.0 L383.2,340.2 L383.9,342.6 L384.6,345.4 L385.3,348.4 L386.0,351.7 L386.6,355.2 L387.3,358.8 L388.0,362.6 L388.7,366.6 L389.4,370.6 L390.0,374.8 L390.7,378.9 L391.4,383.1 L392.1,387.3 L392.8,391.4 L393.5,395.5 L394.1,399.5 L394.8,403.4 L395.5,407.2 L396.2,410.9 L396.9,414.4 L397.5,417.8 L398.2,421.1 L398.9,424.1 L399.6,426.9 L400.3,429.5 L400.9,431.8 L401.6,434.0 L402.3,436.0 L403.0,437.9 L403.7,439.6 L404.3,441.1 L405.0,442.6 L405.7,443.9 L406.4,445.1 L407.1,446.2 L407.8,447.3 L408.4,448.2 L409.1,449.1 L409.8,449.9 L410.5,450.6 L411.2,451.3 L411.8,451.9 L412.5,452.5 L413.2,453.0 L413.9,453.5 L414.6,454.0 L415.2,454.4 L415.9,454.8 L416.6,455.1 L417.3,455.5 L418.0,455.8" stroke="#0000ff" stroke-width="1.55" stroke-dasharray="4,3.1"/>
</g>
<clipPath id="cpic"><rect x="208.5" y="68.45" width="95.19999999999999" height="74.95"/></clipPath>
<g clip-path="url(#cpic)" fill="none" stroke-linejoin="round">
<path d="M208.5,151.4 L208.6,151.4 L208.8,151.4 L208.9,151.4 L209.1,151.4 L209.2,151.4 L209.4,151.4 L209.5,151.4 L209.6,151.4 L209.8,151.4 L209.9,151.4 L210.1,151.4 L210.2,151.4 L210.4,151.4 L210.5,151.4 L210.6,151.4 L210.8,151.4 L210.9,151.4 L211.1,151.4 L211.2,149.6 L211.4,147.4 L211.5,145.3 L211.6,143.4 L211.8,141.5 L211.9,139.7 L212.1,138.0 L212.2,136.3 L212.4,134.8 L212.5,133.2 L212.6,131.8 L212.8,130.4 L212.9,129.0 L213.1,127.7 L213.2,126.4 L213.4,125.2 L213.5,124.0 L213.6,122.9 L213.8,121.8 L213.9,120.7 L214.1,119.7 L214.2,118.7 L214.4,117.7 L214.5,116.7 L214.6,115.8 L214.8,114.9 L214.9,114.1 L215.1,113.2 L215.2,112.4 L215.4,111.6 L215.5,110.8 L215.6,110.0 L215.8,109.3 L215.9,108.6 L216.1,107.9 L216.2,107.2 L216.4,106.5 L216.5,105.9 L216.6,105.2 L216.8,104.6 L216.9,104.0 L217.1,103.4 L217.2,102.9 L217.4,102.3 L217.5,101.8 L217.6,101.2 L217.8,100.7 L217.9,100.2 L218.1,99.7 L218.2,99.3 L218.4,98.8 L218.5,98.3 L218.6,97.9 L218.8,97.5 L218.9,97.1 L219.1,96.7 L219.2,96.3 L219.4,95.9 L219.5,95.5 L219.6,95.1 L219.8,94.8 L219.9,94.5 L220.1,94.1 L220.2,93.8 L220.4,93.5 L220.5,93.2 L220.6,92.9 L220.8,92.6 L220.9,92.3 L221.1,92.1 L221.2,91.8 L221.4,91.6 L221.5,91.3 L221.6,91.1 L221.8,90.9 L221.9,90.7 L222.1,90.5 L222.2,90.3 L222.4,90.1 L222.5,90.0 L222.6,89.8 L222.8,89.6 L222.9,89.5 L223.1,89.3 L223.2,89.2 L223.4,89.1 L223.5,89.0 L223.6,88.9 L223.8,88.8 L223.9,88.7 L224.1,88.6 L224.2,88.6 L224.4,88.5 L224.5,88.5 L224.6,88.4 L224.8,88.4 L224.9,88.4 L225.1,88.4 L225.2,88.4 L225.4,88.4 L225.5,88.4 L225.6,88.4 L225.8,88.5 L225.9,88.5 L226.1,88.6 L226.2,88.6 L226.4,88.7 L226.5,88.8 L226.6,88.9 L226.8,89.1 L226.9,89.2 L227.1,89.3 L227.2,89.5 L227.4,89.7 L227.5,89.9 L227.6,90.1 L227.8,90.3 L227.9,90.5 L228.1,90.8 L228.2,91.1 L228.3,91.4 L228.5,91.7 L228.6,92.0 L228.8,92.4 L228.9,92.8 L229.1,93.2 L229.2,93.7 L229.3,94.2 L229.5,94.7 L229.6,95.2 L229.8,95.8 L229.9,96.5 L230.1,97.2 L230.2,98.0 L230.3,98.9 L230.5,99.8 L230.6,100.8 L230.8,102.0 L230.9,103.4 L231.1,104.9 L231.2,106.7 L231.3,109.0 L231.5,111.8 L231.6,115.6 L231.8,121.7 L231.9,136.7 L232.1,129.1 L232.2,119.1 L232.3,114.0 L232.5,110.5 L232.6,107.9 L232.8,105.7 L232.9,103.9 L233.1,102.4 L233.2,101.1 L233.3,99.9 L233.5,98.8 L233.6,97.8 L233.8,97.0 L233.9,96.1 L234.1,95.4 L234.2,94.7 L234.3,94.0 L234.5,93.4 L234.6,92.9 L234.8,92.3 L234.9,91.8 L235.1,91.4 L235.2,90.9 L235.3,90.5 L235.5,90.1 L235.6,89.8 L235.8,89.4 L235.9,89.1 L236.1,88.8 L236.2,88.5 L236.3,88.2 L236.5,87.9 L236.6,87.7 L236.8,87.4 L236.9,87.2 L237.1,87.0 L237.2,86.8 L237.3,86.6 L237.5,86.4 L237.6,86.3 L237.8,86.1 L237.9,86.0 L238.1,85.8 L238.2,85.7 L238.3,85.6 L238.5,85.5 L238.6,85.4 L238.8,85.3 L238.9,85.2 L239.1,85.1 L239.2,85.0 L239.3,85.0 L239.5,84.9 L239.6,84.8 L239.8,84.8 L239.9,84.7 L240.1,84.7 L240.2,84.7 L240.3,84.6 L240.5,84.6 L240.6,84.6 L240.8,84.6 L240.9,84.6 L241.1,84.5 L241.2,84.5 L241.3,84.5 L241.5,84.5 L241.6,84.6 L241.8,84.6 L241.9,84.6 L242.1,84.6 L242.2,84.6 L242.3,84.6 L242.5,84.7 L242.6,84.7 L242.8,84.7 L242.9,84.7 L243.1,84.8 L243.2,84.8 L243.3,84.8 L243.5,84.9 L243.6,84.9 L243.8,85.0 L243.9,85.0 L244.1,85.1 L244.2,85.1 L244.3,85.2 L244.5,85.3 L244.6,85.3 L244.8,85.4 L244.9,85.4 L245.1,85.5 L245.2,85.6 L245.3,85.6 L245.5,85.7 L245.6,85.8 L245.8,85.9 L245.9,86.0 L246.1,86.0 L246.2,86.1 L246.3,86.2 L246.5,86.3 L246.6,86.4 L246.8,86.5 L246.9,86.6 L247.1,86.7 L247.2,86.7 L247.3,86.8 L247.5,86.9 L247.6,87.0 L247.8,87.1 L247.9,87.2 L248.1,87.3 L248.2,87.4 L248.3,87.5 L248.5,87.6 L248.6,87.7 L248.8,87.9 L248.9,88.0 L249.1,88.1 L249.2,88.2 L249.3,88.3 L249.5,88.4 L249.6,88.5 L249.8,88.6 L249.9,88.7 L250.1,88.8 L250.2,88.9 L250.3,89.0 L250.5,89.1 L250.6,89.2 L250.8,89.3 L250.9,89.4 L251.1,89.5 L251.2,89.6 L251.3,89.8 L251.5,89.9 L251.6,90.0 L251.8,90.1 L251.9,90.2 L252.1,90.3 L252.2,90.4 L252.3,90.5 L252.5,90.7 L252.6,90.8 L252.8,90.9 L252.9,91.0 L253.1,91.1 L253.2,91.2 L253.3,91.4 L253.5,91.5 L253.6,91.6 L253.8,91.7 L253.9,91.8 L254.1,92.0 L254.2,92.1 L254.3,92.2 L254.5,92.3 L254.6,92.4 L254.8,92.6 L254.9,92.7 L255.1,92.8 L255.2,92.9 L255.3,93.1 L255.5,93.2 L255.6,93.3 L255.8,93.4 L255.9,93.6 L256.1,93.7 L256.2,93.8 L256.3,93.9 L256.5,94.1 L256.6,94.2 L256.8,94.3 L256.9,94.4 L257.1,94.6 L257.2,94.7 L257.3,94.8 L257.5,95.0 L257.6,95.1 L257.8,95.2 L257.9,95.4 L258.1,95.5 L258.2,95.6 L258.3,95.8 L258.5,95.9 L258.6,96.0 L258.8,96.2 L258.9,96.3 L259.1,96.4 L259.2,96.6 L259.3,96.7 L259.5,96.8 L259.6,97.0 L259.8,97.1 L259.9,97.2 L260.1,97.4 L260.2,97.5 L260.3,97.6 L260.5,97.8 L260.6,97.9 L260.8,98.1 L260.9,98.2 L261.1,98.3 L261.2,98.5 L261.3,98.6 L261.5,98.7 L261.6,98.9 L261.8,99.0 L261.9,99.2 L262.1,99.3 L262.2,99.4 L262.3,99.6 L262.5,99.7 L262.6,99.9 L262.8,100.0 L262.9,100.1 L263.0,100.3 L263.2,100.4 L263.3,100.6 L263.5,100.7 L263.6,100.8 L263.8,101.0 L263.9,101.1 L264.0,101.3 L264.2,101.4 L264.3,101.6 L264.5,101.7 L264.6,101.8 L264.8,102.0 L264.9,102.1 L265.0,102.3 L265.2,102.4 L265.3,102.6 L265.5,102.7 L265.6,102.8 L265.8,103.0 L265.9,103.1 L266.0,103.3 L266.2,103.4 L266.3,103.6 L266.5,103.7 L266.6,103.8 L266.8,104.0 L266.9,104.1 L267.0,104.3 L267.2,104.4 L267.3,104.6 L267.5,104.7 L267.6,104.9 L267.8,105.0 L267.9,105.1 L268.0,105.3 L268.2,105.4 L268.3,105.6 L268.5,105.7 L268.6,105.9 L268.8,106.0 L268.9,106.2 L269.0,106.3 L269.2,106.4 L269.3,106.6 L269.5,106.7 L269.6,106.9 L269.8,107.0 L269.9,107.2 L270.0,107.3 L270.2,107.4 L270.3,107.6 L270.5,107.7 L270.6,107.9 L270.8,108.0 L270.9,108.2 L271.0,108.3 L271.2,108.4 L271.3,108.6 L271.5,108.7 L271.6,108.9 L271.8,109.0 L271.9,109.2 L272.0,109.3 L272.2,109.4 L272.3,109.6 L272.5,109.7 L272.6,109.9 L272.8,110.0 L272.9,110.2 L273.0,110.3 L273.2,110.4 L273.3,110.6 L273.5,110.7 L273.6,110.9 L273.8,111.0 L273.9,111.1 L274.0,111.3 L274.2,111.4 L274.3,111.6 L274.5,111.7 L274.6,111.8 L274.8,112.0 L274.9,112.1 L275.0,112.3 L275.2,112.4 L275.3,112.5 L275.5,112.7 L275.6,112.8 L275.8,112.9 L275.9,113.1 L276.0,113.2 L276.2,113.4 L276.3,113.5 L276.5,113.6 L276.6,113.8 L276.8,113.9 L276.9,114.0 L277.0,114.2 L277.2,114.3 L277.3,114.4 L277.5,114.6 L277.6,114.7 L277.8,114.8 L277.9,115.0 L278.0,115.1 L278.2,115.2 L278.3,115.4 L278.5,115.5 L278.6,115.7 L278.8,115.8 L278.9,115.9 L279.0,116.1 L279.2,116.2 L279.3,116.3 L279.5,116.5 L279.6,116.6 L279.8,116.7 L279.9,116.9 L280.0,117.0 L280.2,117.1 L280.3,117.3 L280.5,117.4 L280.6,117.5 L280.8,117.7 L280.9,117.8 L281.0,117.9 L281.2,118.1 L281.3,118.2 L281.5,118.4 L281.6,118.5 L281.8,118.6 L281.9,118.8 L282.0,118.9 L282.2,119.0 L282.3,119.2 L282.5,119.3 L282.6,119.4 L282.8,119.6 L282.9,119.7 L283.0,119.8 L283.2,120.0 L283.3,120.1 L283.5,120.2 L283.6,120.4 L283.8,120.5 L283.9,120.6 L284.0,120.8 L284.2,120.9 L284.3,121.1 L284.5,121.2 L284.6,121.3 L284.8,121.5 L284.9,121.6 L285.0,121.7 L285.2,121.9 L285.3,122.0 L285.5,122.1 L285.6,122.3 L285.8,122.4 L285.9,122.5 L286.0,122.7 L286.2,122.8 L286.3,122.9 L286.5,123.1 L286.6,123.2 L286.8,123.4 L286.9,123.5 L287.0,123.6 L287.2,123.8 L287.3,123.9 L287.5,124.0 L287.6,124.2 L287.8,124.3 L287.9,124.4 L288.0,124.6 L288.2,124.7 L288.3,124.8 L288.5,125.0 L288.6,125.1 L288.8,125.2 L288.9,125.4 L289.0,125.5 L289.2,125.7 L289.3,125.8 L289.5,125.9 L289.6,126.1 L289.8,126.2 L289.9,126.3 L290.0,126.5 L290.2,126.6 L290.3,126.7 L290.5,126.9 L290.6,127.0 L290.8,127.1 L290.9,127.3 L291.0,127.4 L291.2,127.6 L291.3,127.7 L291.5,127.8 L291.6,128.0 L291.8,128.1 L291.9,128.2 L292.0,128.4 L292.2,128.5 L292.3,128.6 L292.5,128.8 L292.6,128.9 L292.8,129.0 L292.9,129.2 L293.0,129.3 L293.2,129.4 L293.3,129.6 L293.5,129.7 L293.6,129.9 L293.8,130.0 L293.9,130.1 L294.0,130.3 L294.2,130.4 L294.3,130.5 L294.5,130.7 L294.6,130.8 L294.8,130.9 L294.9,131.1 L295.0,131.2 L295.2,131.3 L295.3,131.5 L295.5,131.6 L295.6,131.8 L295.8,131.9 L295.9,132.0 L296.0,132.2 L296.2,132.3 L296.3,132.4 L296.5,132.6 L296.6,132.7 L296.8,132.8 L296.9,133.0 L297.0,133.1 L297.2,133.2 L297.3,133.4 L297.5,133.5 L297.6,133.6 L297.8,133.8 L297.9,133.9 L298.0,134.1 L298.2,134.2 L298.3,134.3 L298.5,134.5 L298.6,134.6 L298.7,134.7 L298.9,134.9 L299.0,135.0 L299.2,135.1 L299.3,135.3 L299.5,135.4 L299.6,135.5 L299.7,135.7 L299.9,135.8 L300.0,136.0 L300.2,136.1 L300.3,136.2 L300.5,136.4 L300.6,136.5 L300.7,136.6 L300.9,136.8 L301.0,136.9 L301.2,137.0 L301.3,137.2 L301.5,137.3 L301.6,137.4 L301.7,137.6 L301.9,137.7 L302.0,137.8 L302.2,138.0 L302.3,138.1 L302.5,138.3 L302.6,138.4 L302.7,138.5 L302.9,138.7 L303.0,138.8 L303.2,138.9 L303.3,139.1 L303.5,139.2 L303.6,139.3 L303.7,139.5 L303.9,139.6" stroke="#000" stroke-width="1.4"/>
<path d="M208.5,151.4 L208.6,151.4 L208.8,151.4 L208.9,151.4 L209.1,151.4 L209.2,151.4 L209.4,151.4 L209.5,151.4 L209.6,151.4 L209.8,151.4 L209.9,151.4 L210.1,151.4 L210.2,151.4 L210.4,151.4 L210.5,151.4 L210.6,151.4 L210.8,151.4 L210.9,151.4 L211.1,151.4 L211.2,151.4 L211.4,151.4 L211.5,151.4 L211.6,151.4 L211.8,151.4 L211.9,150.6 L212.1,148.9 L212.2,147.3 L212.4,145.7 L212.5,144.2 L212.6,142.7 L212.8,141.3 L212.9,139.9 L213.1,138.6 L213.2,137.4 L213.4,136.2 L213.5,135.0 L213.6,133.8 L213.8,132.7 L213.9,131.7 L214.1,130.6 L214.2,129.6 L214.4,128.6 L214.5,127.7 L214.6,126.8 L214.8,125.9 L214.9,125.0 L215.1,124.1 L215.2,123.3 L215.4,122.5 L215.5,121.7 L215.6,121.0 L215.8,120.2 L215.9,119.5 L216.1,118.8 L216.2,118.1 L216.4,117.5 L216.5,116.8 L216.6,116.2 L216.8,115.6 L216.9,115.0 L217.1,114.4 L217.2,113.8 L217.4,113.2 L217.5,112.7 L217.6,112.2 L217.8,111.7 L217.9,111.2 L218.1,110.7 L218.2,110.2 L218.4,109.7 L218.5,109.3 L218.6,108.8 L218.8,108.4 L218.9,108.0 L219.1,107.6 L219.2,107.2 L219.4,106.8 L219.5,106.4 L219.6,106.1 L219.8,105.7 L219.9,105.4 L220.1,105.1 L220.2,104.7 L220.4,104.4 L220.5,104.1 L220.6,103.8 L220.8,103.6 L220.9,103.3 L221.1,103.0 L221.2,102.8 L221.4,102.5 L221.5,102.3 L221.6,102.1 L221.8,101.8 L221.9,101.6 L222.1,101.4 L222.2,101.2 L222.4,101.1 L222.5,100.9 L222.6,100.7 L222.8,100.6 L222.9,100.4 L223.1,100.3 L223.2,100.2 L223.4,100.0 L223.5,99.9 L223.6,99.8 L223.8,99.7 L223.9,99.6 L224.1,99.6 L224.2,99.5 L224.4,99.4 L224.5,99.4 L224.6,99.3 L224.8,99.3 L224.9,99.3 L225.1,99.3 L225.2,99.3 L225.4,99.3 L225.5,99.3 L225.6,99.3 L225.8,99.4 L225.9,99.4 L226.1,99.5 L226.2,99.6 L226.4,99.7 L226.5,99.8 L226.6,99.9 L226.8,100.0 L226.9,100.1 L227.1,100.3 L227.2,100.4 L227.4,100.6 L227.5,100.8 L227.6,101.0 L227.8,101.2 L227.9,101.5 L228.1,101.7 L228.2,102.0 L228.3,102.3 L228.5,102.6 L228.6,103.0 L228.8,103.3 L228.9,103.7 L229.1,104.1 L229.2,104.6 L229.3,105.1 L229.5,105.6 L229.6,106.1 L229.8,106.7 L229.9,107.4 L230.1,108.1 L230.2,108.9 L230.3,109.7 L230.5,110.7 L230.6,111.7 L230.8,112.9 L230.9,114.2 L231.1,115.7 L231.2,117.6 L231.3,119.8 L231.5,122.6 L231.6,126.4 L231.8,132.5 L231.9,147.5 L232.1,139.8 L232.2,129.9 L232.3,124.7 L232.5,121.2 L232.6,118.6 L232.8,116.4 L232.9,114.6 L233.1,113.1 L233.2,111.8 L233.3,110.6 L233.5,109.5 L233.6,108.5 L233.8,107.6 L233.9,106.8 L234.1,106.0 L234.2,105.3 L234.3,104.7 L234.5,104.1 L234.6,103.5 L234.8,103.0 L234.9,102.5 L235.1,102.0 L235.2,101.6 L235.3,101.2 L235.5,100.8 L235.6,100.4 L235.8,100.1 L235.9,99.8 L236.1,99.5 L236.2,99.2 L236.3,98.9 L236.5,98.7 L236.6,98.4 L236.8,98.2 L236.9,98.0 L237.1,97.8 L237.2,97.6 L237.3,97.4 L237.5,97.3 L237.6,97.1 L237.8,97.0 L237.9,96.8 L238.1,96.7 L238.2,96.6 L238.3,96.5 L238.5,96.4 L238.6,96.3 L238.8,96.2 L238.9,96.2 L239.1,96.1 L239.2,96.1 L239.3,96.0 L239.5,96.0 L239.6,95.9 L239.8,95.9 L239.9,95.9 L240.1,95.8 L240.2,95.8 L240.3,95.8 L240.5,95.8 L240.6,95.8 L240.8,95.8 L240.9,95.8 L241.1,95.8 L241.2,95.8 L241.3,95.8 L241.5,95.8 L241.6,95.8 L241.8,95.9 L241.9,95.9 L242.1,95.9 L242.2,95.9 L242.3,96.0 L242.5,96.0 L242.6,96.0 L242.8,96.0 L242.9,96.1 L243.1,96.1 L243.2,96.2 L243.3,96.2 L243.5,96.3 L243.6,96.3 L243.8,96.4 L243.9,96.4 L244.1,96.5 L244.2,96.6 L244.3,96.6 L244.5,96.7 L244.6,96.8 L244.8,96.8 L244.9,96.9 L245.1,97.0 L245.2,97.0 L245.3,97.1 L245.5,97.2 L245.6,97.3 L245.8,97.4 L245.9,97.5 L246.1,97.5 L246.2,97.6 L246.3,97.7 L246.5,97.8 L246.6,97.9 L246.8,98.0 L246.9,98.1 L247.1,98.2 L247.2,98.3 L247.3,98.4 L247.5,98.5 L247.6,98.6 L247.8,98.7 L247.9,98.8 L248.1,98.9 L248.2,99.0 L248.3,99.1 L248.5,99.2 L248.6,99.3 L248.8,99.4 L248.9,99.5 L249.1,99.6 L249.2,99.7 L249.3,99.8 L249.5,99.9 L249.6,100.0 L249.8,100.1 L249.9,100.2 L250.1,100.3 L250.2,100.4 L250.3,100.5 L250.5,100.6 L250.6,100.7 L250.8,100.8 L250.9,100.9 L251.1,101.0 L251.2,101.1 L251.3,101.2 L251.5,101.3 L251.6,101.4 L251.8,101.5 L251.9,101.6 L252.1,101.7 L252.2,101.8 L252.3,101.9 L252.5,102.0 L252.6,102.1 L252.8,102.2 L252.9,102.3 L253.1,102.4 L253.2,102.6 L253.3,102.7 L253.5,102.8 L253.6,102.9 L253.8,103.0 L253.9,103.1 L254.1,103.2 L254.2,103.3 L254.3,103.4 L254.5,103.5 L254.6,103.6 L254.8,103.8 L254.9,103.9 L255.1,104.0 L255.2,104.1 L255.3,104.2 L255.5,104.3 L255.6,104.4 L255.8,104.5 L255.9,104.6 L256.1,104.8 L256.2,104.9 L256.3,105.0 L256.5,105.1 L256.6,105.2 L256.8,105.3 L256.9,105.4 L257.1,105.6 L257.2,105.7 L257.3,105.8 L257.5,105.9 L257.6,106.0 L257.8,106.1 L257.9,106.2 L258.1,106.4 L258.2,106.5 L258.3,106.6 L258.5,106.7 L258.6,106.8 L258.8,106.9 L258.9,107.1 L259.1,107.2 L259.2,107.3 L259.3,107.4 L259.5,107.5 L259.6,107.7 L259.8,107.8 L259.9,107.9 L260.1,108.0 L260.2,108.1 L260.3,108.2 L260.5,108.4 L260.6,108.5 L260.8,108.6 L260.9,108.7 L261.1,108.8 L261.2,109.0 L261.3,109.1 L261.5,109.2 L261.6,109.3 L261.8,109.4 L261.9,109.6 L262.1,109.7 L262.2,109.8 L262.3,109.9 L262.5,110.0 L262.6,110.2 L262.8,110.3 L262.9,110.4 L263.0,110.5 L263.2,110.6 L263.3,110.8 L263.5,110.9 L263.6,111.0 L263.8,111.1 L263.9,111.3 L264.0,111.4 L264.2,111.5 L264.3,111.6 L264.5,111.7 L264.6,111.9 L264.8,112.0 L264.9,112.1 L265.0,112.2 L265.2,112.3 L265.3,112.5 L265.5,112.6 L265.6,112.7 L265.8,112.8 L265.9,113.0 L266.0,113.1 L266.2,113.2 L266.3,113.3 L266.5,113.4 L266.6,113.6 L266.8,113.7 L266.9,113.8 L267.0,113.9 L267.2,114.0 L267.3,114.2 L267.5,114.3 L267.6,114.4 L267.8,114.5 L267.9,114.7 L268.0,114.8 L268.2,114.9 L268.3,115.0 L268.5,115.1 L268.6,115.3 L268.8,115.4 L268.9,115.5 L269.0,115.6 L269.2,115.7 L269.3,115.9 L269.5,116.0 L269.6,116.1 L269.8,116.2 L269.9,116.3 L270.0,116.5 L270.2,116.6 L270.3,116.7 L270.5,116.8 L270.6,116.9 L270.8,117.1 L270.9,117.2 L271.0,117.3 L271.2,117.4 L271.3,117.5 L271.5,117.7 L271.6,117.8 L271.8,117.9 L271.9,118.0 L272.0,118.1 L272.2,118.3 L272.3,118.4 L272.5,118.5 L272.6,118.6 L272.8,118.7 L272.9,118.8 L273.0,119.0 L273.2,119.1 L273.3,119.2 L273.5,119.3 L273.6,119.4 L273.8,119.5 L273.9,119.7 L274.0,119.8 L274.2,119.9 L274.3,120.0 L274.5,120.1 L274.6,120.2 L274.8,120.4 L274.9,120.5 L275.0,120.6 L275.2,120.7 L275.3,120.8 L275.5,120.9 L275.6,121.0 L275.8,121.2 L275.9,121.3 L276.0,121.4 L276.2,121.5 L276.3,121.6 L276.5,121.7 L276.6,121.8 L276.8,121.9 L276.9,122.1 L277.0,122.2 L277.2,122.3 L277.3,122.4 L277.5,122.5 L277.6,122.6 L277.8,122.7 L277.9,122.8 L278.0,122.9 L278.2,123.0 L278.3,123.2 L278.5,123.3 L278.6,123.4 L278.8,123.5 L278.9,123.6 L279.0,123.7 L279.2,123.8 L279.3,123.9 L279.5,124.0 L279.6,124.1 L279.8,124.3 L279.9,124.4 L280.0,124.5 L280.2,124.6 L280.3,124.7 L280.5,124.8 L280.6,124.9 L280.8,125.0 L280.9,125.1 L281.0,125.2 L281.2,125.3 L281.3,125.5 L281.5,125.6 L281.6,125.7 L281.8,125.8 L281.9,125.9 L282.0,126.0 L282.2,126.1 L282.3,126.2 L282.5,126.3 L282.6,126.4 L282.8,126.5 L282.9,126.6 L283.0,126.7 L283.2,126.9 L283.3,127.0 L283.5,127.1 L283.6,127.2 L283.8,127.3 L283.9,127.4 L284.0,127.5 L284.2,127.6 L284.3,127.7 L284.5,127.8 L284.6,127.9 L284.8,128.0 L284.9,128.1 L285.0,128.2 L285.2,128.4 L285.3,128.5 L285.5,128.6 L285.6,128.7 L285.8,128.8 L285.9,128.9 L286.0,129.0 L286.2,129.1 L286.3,129.2 L286.5,129.3 L286.6,129.4 L286.8,129.5 L286.9,129.6 L287.0,129.7 L287.2,129.8 L287.3,129.9 L287.5,130.1 L287.6,130.2 L287.8,130.3 L287.9,130.4 L288.0,130.5 L288.2,130.6 L288.3,130.7 L288.5,130.8 L288.6,130.9 L288.8,131.0 L288.9,131.1 L289.0,131.2 L289.2,131.3 L289.3,131.4 L289.5,131.5 L289.6,131.6 L289.8,131.7 L289.9,131.8 L290.0,132.0 L290.2,132.1 L290.3,132.2 L290.5,132.3 L290.6,132.4 L290.8,132.5 L290.9,132.6 L291.0,132.7 L291.2,132.8 L291.3,132.9 L291.5,133.0 L291.6,133.1 L291.8,133.2 L291.9,133.3 L292.0,133.4 L292.2,133.5 L292.3,133.6 L292.5,133.7 L292.6,133.8 L292.8,134.0 L292.9,134.1 L293.0,134.2 L293.2,134.3 L293.3,134.4 L293.5,134.5 L293.6,134.6 L293.8,134.7 L293.9,134.8 L294.0,134.9 L294.2,135.0 L294.3,135.1 L294.5,135.2 L294.6,135.3 L294.8,135.4 L294.9,135.5 L295.0,135.6 L295.2,135.7 L295.3,135.8 L295.5,135.9 L295.6,136.0 L295.8,136.2 L295.9,136.3 L296.0,136.4 L296.2,136.5 L296.3,136.6 L296.5,136.7 L296.6,136.8 L296.8,136.9 L296.9,137.0 L297.0,137.1 L297.2,137.2 L297.3,137.3 L297.5,137.4 L297.6,137.5 L297.8,137.6 L297.9,137.7 L298.0,137.8 L298.2,137.9 L298.3,138.0 L298.5,138.2 L298.6,138.3 L298.7,138.4 L298.9,138.5 L299.0,138.6 L299.2,138.7 L299.3,138.8 L299.5,138.9 L299.6,139.0 L299.7,139.1 L299.9,139.2 L300.0,139.3 L300.2,139.4 L300.3,139.5 L300.5,139.6 L300.6,139.7 L300.7,139.8 L300.9,139.9 L301.0,140.0 L301.2,140.2 L301.3,140.3 L301.5,140.4 L301.6,140.5 L301.7,140.6 L301.9,140.7 L302.0,140.8 L302.2,140.9 L302.3,141.0 L302.5,141.1 L302.6,141.2 L302.7,141.3 L302.9,141.4 L303.0,141.5 L303.2,141.6 L303.3,141.7 L303.5,141.8 L303.6,142.0 L303.7,142.1 L303.9,142.2" stroke="#ff0000" stroke-width="1.6" stroke-dasharray="6.5,4"/>
<path d="M208.5,151.4 L208.6,151.4 L208.8,151.4 L208.9,151.4 L209.1,151.4 L209.2,151.4 L209.4,151.4 L209.5,151.4 L209.6,151.4 L209.8,151.4 L209.9,151.4 L210.1,151.4 L210.2,151.4 L210.4,151.4 L210.5,151.4 L210.6,151.4 L210.8,151.4 L210.9,149.8 L211.1,147.3 L211.2,145.0 L211.4,142.7 L211.5,140.6 L211.6,138.6 L211.8,136.7 L211.9,134.9 L212.1,133.2 L212.2,131.5 L212.4,129.9 L212.5,128.3 L212.6,126.8 L212.8,125.4 L212.9,124.0 L213.1,122.7 L213.2,121.4 L213.4,120.1 L213.5,118.9 L213.6,117.7 L213.8,116.6 L213.9,115.5 L214.1,114.4 L214.2,113.4 L214.4,112.4 L214.5,111.4 L214.6,110.4 L214.8,109.5 L214.9,108.6 L215.1,107.7 L215.2,106.9 L215.4,106.0 L215.5,105.2 L215.6,104.4 L215.8,103.6 L215.9,102.9 L216.1,102.1 L216.2,101.4 L216.4,100.7 L216.5,100.0 L216.6,99.4 L216.8,98.7 L216.9,98.1 L217.1,97.5 L217.2,96.9 L217.4,96.3 L217.5,95.7 L217.6,95.1 L217.8,94.6 L217.9,94.1 L218.1,93.5 L218.2,93.0 L218.4,92.5 L218.5,92.0 L218.6,91.6 L218.8,91.1 L218.9,90.7 L219.1,90.2 L219.2,89.8 L219.4,89.4 L219.5,89.0 L219.6,88.6 L219.8,88.2 L219.9,87.8 L220.1,87.4 L220.2,87.1 L220.4,86.7 L220.5,86.4 L220.6,86.1 L220.8,85.8 L220.9,85.5 L221.1,85.2 L221.2,84.9 L221.4,84.6 L221.5,84.3 L221.6,84.1 L221.8,83.8 L221.9,83.6 L222.1,83.3 L222.2,83.1 L222.4,82.9 L222.5,82.7 L222.6,82.5 L222.8,82.3 L222.9,82.1 L223.1,81.9 L223.2,81.8 L223.4,81.6 L223.5,81.5 L223.6,81.3 L223.8,81.2 L223.9,81.1 L224.1,81.0 L224.2,80.9 L224.4,80.8 L224.5,80.7 L224.6,80.6 L224.8,80.6 L224.9,80.5 L225.1,80.5 L225.2,80.4 L225.4,80.4 L225.5,80.4 L225.6,80.4 L225.8,80.4 L225.9,80.4 L226.1,80.4 L226.2,80.5 L226.4,80.5 L226.5,80.6 L226.6,80.7 L226.8,80.8 L226.9,80.9 L227.1,81.0 L227.2,81.1 L227.4,81.3 L227.5,81.5 L227.6,81.7 L227.8,81.9 L227.9,82.1 L228.1,82.4 L228.2,82.6 L228.3,82.9 L228.5,83.2 L228.6,83.6 L228.8,84.0 L228.9,84.4 L229.1,84.8 L229.2,85.2 L229.3,85.7 L229.5,86.3 L229.6,86.9 L229.8,87.5 L229.9,88.2 L230.1,88.9 L230.2,89.7 L230.3,90.6 L230.5,91.6 L230.6,92.6 L230.8,93.8 L230.9,95.2 L231.1,96.8 L231.2,98.7 L231.3,100.9 L231.5,103.8 L231.6,107.7 L231.8,113.8 L231.9,128.9 L232.1,121.3 L232.2,111.4 L232.3,106.3 L232.5,102.9 L232.6,100.3 L232.8,98.2 L232.9,96.5 L233.1,95.0 L233.2,93.7 L233.3,92.6 L233.5,91.6 L233.6,90.6 L233.8,89.8 L233.9,89.0 L234.1,88.3 L234.2,87.7 L234.3,87.1 L234.5,86.5 L234.6,86.0 L234.8,85.5 L234.9,85.0 L235.1,84.6 L235.2,84.1 L235.3,83.8 L235.5,83.4 L235.6,83.0 L235.8,82.7 L235.9,82.4 L236.1,82.1 L236.2,81.8 L236.3,81.6 L236.5,81.3 L236.6,81.1 L236.8,80.9 L236.9,80.6 L237.1,80.4 L237.2,80.2 L237.3,80.1 L237.5,79.9 L237.6,79.7 L237.8,79.6 L237.9,79.4 L238.1,79.3 L238.2,79.1 L238.3,79.0 L238.5,78.9 L238.6,78.8 L238.8,78.7 L238.9,78.6 L239.1,78.5 L239.2,78.4 L239.3,78.3 L239.5,78.3 L239.6,78.2 L239.8,78.1 L239.9,78.1 L240.1,78.0 L240.2,78.0 L240.3,77.9 L240.5,77.9 L240.6,77.9 L240.8,77.8 L240.9,77.8 L241.1,77.8 L241.2,77.8 L241.3,77.7 L241.5,77.7 L241.6,77.7 L241.8,77.7 L241.9,77.7 L242.1,77.7 L242.2,77.7 L242.3,77.8 L242.5,77.8 L242.6,77.8 L242.8,77.8 L242.9,77.9 L243.1,77.9 L243.2,77.9 L243.3,78.0 L243.5,78.0 L243.6,78.1 L243.8,78.1 L243.9,78.2 L244.1,78.2 L244.2,78.3 L244.3,78.4 L244.5,78.4 L244.6,78.5 L244.8,78.6 L244.9,78.7 L245.1,78.8 L245.2,78.9 L245.3,79.0 L245.5,79.1 L245.6,79.2 L245.8,79.3 L245.9,79.4 L246.1,79.5 L246.2,79.6 L246.3,79.8 L246.5,79.9 L246.6,80.0 L246.8,80.2 L246.9,80.3 L247.1,80.4 L247.2,80.6 L247.3,80.7 L247.5,80.9 L247.6,81.0 L247.8,81.2 L247.9,81.4 L248.1,81.5 L248.2,81.7 L248.3,81.8 L248.5,82.0 L248.6,82.2 L248.8,82.3 L248.9,82.5 L249.1,82.6 L249.2,82.8 L249.3,82.9 L249.5,83.1 L249.6,83.3 L249.8,83.4 L249.9,83.6 L250.1,83.7 L250.2,83.9 L250.3,84.0 L250.5,84.2 L250.6,84.3 L250.8,84.5 L250.9,84.6 L251.1,84.8 L251.2,84.9 L251.3,85.1 L251.5,85.2 L251.6,85.4 L251.8,85.5 L251.9,85.7 L252.1,85.8 L252.2,86.0 L252.3,86.1 L252.5,86.3 L252.6,86.4 L252.8,86.6 L252.9,86.8 L253.1,86.9 L253.2,87.1 L253.3,87.2 L253.5,87.4 L253.6,87.5 L253.8,87.7 L253.9,87.8 L254.1,88.0 L254.2,88.1 L254.3,88.3 L254.5,88.4 L254.6,88.6 L254.8,88.8 L254.9,88.9 L255.1,89.1 L255.2,89.2 L255.3,89.4 L255.5,89.5 L255.6,89.7 L255.8,89.9 L255.9,90.0 L256.1,90.2 L256.2,90.3 L256.3,90.5 L256.5,90.6 L256.6,90.8 L256.8,91.0 L256.9,91.1 L257.1,91.3 L257.2,91.4 L257.3,91.6 L257.5,91.7 L257.6,91.9 L257.8,92.1 L257.9,92.2 L258.1,92.4 L258.2,92.5 L258.3,92.7 L258.5,92.9 L258.6,93.0 L258.8,93.2 L258.9,93.3 L259.1,93.5 L259.2,93.7 L259.3,93.8 L259.5,94.0 L259.6,94.1 L259.8,94.3 L259.9,94.5 L260.1,94.6 L260.2,94.8 L260.3,95.0 L260.5,95.1 L260.6,95.3 L260.8,95.4 L260.9,95.6 L261.1,95.8 L261.2,95.9 L261.3,96.1 L261.5,96.3 L261.6,96.4 L261.8,96.6 L261.9,96.8 L262.1,96.9 L262.2,97.1 L262.3,97.2 L262.5,97.4 L262.6,97.6 L262.8,97.7 L262.9,97.9 L263.0,98.1 L263.2,98.2 L263.3,98.4 L263.5,98.6 L263.6,98.7 L263.8,98.9 L263.9,99.1 L264.0,99.2 L264.2,99.4 L264.3,99.6 L264.5,99.7 L264.6,99.9 L264.8,100.1 L264.9,100.2 L265.0,100.4 L265.2,100.6 L265.3,100.8 L265.5,100.9 L265.6,101.1 L265.8,101.3 L265.9,101.4 L266.0,101.6 L266.2,101.8 L266.3,101.9 L266.5,102.1 L266.6,102.3 L266.8,102.5 L266.9,102.6 L267.0,102.8 L267.2,103.0 L267.3,103.1 L267.5,103.3 L267.6,103.5 L267.8,103.7 L267.9,103.8 L268.0,104.0 L268.2,104.2 L268.3,104.4 L268.5,104.5 L268.6,104.7 L268.8,104.9 L268.9,105.0 L269.0,105.2 L269.2,105.4 L269.3,105.6 L269.5,105.7 L269.6,105.9 L269.8,106.1 L269.9,106.3 L270.0,106.5 L270.2,106.6 L270.3,106.8 L270.5,107.0 L270.6,107.2 L270.8,107.3 L270.9,107.5 L271.0,107.7 L271.2,107.9 L271.3,108.0 L271.5,108.2 L271.6,108.4 L271.8,108.6 L271.9,108.8 L272.0,108.9 L272.2,109.1 L272.3,109.3 L272.5,109.5 L272.6,109.7 L272.8,109.8 L272.9,110.0 L273.0,110.2 L273.2,110.4 L273.3,110.6 L273.5,110.7 L273.6,110.9 L273.8,111.1 L273.9,111.3 L274.0,111.5 L274.2,111.7 L274.3,111.8 L274.5,112.0 L274.6,112.2 L274.8,112.4 L274.9,112.6 L275.0,112.8 L275.2,113.0 L275.3,113.1 L275.5,113.3 L275.6,113.5 L275.8,113.7 L275.9,113.9 L276.0,114.1 L276.2,114.3 L276.3,114.5 L276.5,114.7 L276.6,114.8 L276.8,115.0 L276.9,115.2 L277.0,115.4 L277.2,115.6 L277.3,115.8 L277.5,116.0 L277.6,116.2 L277.8,116.4 L277.9,116.6 L278.0,116.8 L278.2,117.0 L278.3,117.2 L278.5,117.4 L278.6,117.6 L278.8,117.8 L278.9,118.0 L279.0,118.2 L279.2,118.4 L279.3,118.6 L279.5,118.8 L279.6,119.0 L279.8,119.2 L279.9,119.4 L280.0,119.6 L280.2,119.8 L280.3,120.0 L280.5,120.2 L280.6,120.4 L280.8,120.6 L280.9,120.8 L281.0,121.0 L281.2,121.2 L281.3,121.4 L281.5,121.6 L281.6,121.8 L281.8,122.0 L281.9,122.2 L282.0,122.4 L282.2,122.6 L282.3,122.8 L282.5,123.0 L282.6,123.2 L282.8,123.4 L282.9,123.6 L283.0,123.8 L283.2,124.0 L283.3,124.2 L283.5,124.4 L283.6,124.6 L283.8,124.9 L283.9,125.1 L284.0,125.3 L284.2,125.5 L284.3,125.7 L284.5,125.9 L284.6,126.1 L284.8,126.3 L284.9,126.5 L285.0,126.7 L285.2,126.9 L285.3,127.1 L285.5,127.3 L285.6,127.5 L285.8,127.8 L285.9,128.0 L286.0,128.2 L286.2,128.4 L286.3,128.6 L286.5,128.8 L286.6,129.0 L286.8,129.2 L286.9,129.4 L287.0,129.6 L287.2,129.8 L287.3,130.1 L287.5,130.3 L287.6,130.5 L287.8,130.7 L287.9,130.9 L288.0,131.1 L288.2,131.3 L288.3,131.5 L288.5,131.7 L288.6,131.9 L288.8,132.1 L288.9,132.4 L289.0,132.6 L289.2,132.8 L289.3,133.0 L289.5,133.2 L289.6,133.4 L289.8,133.6 L289.9,133.8 L290.0,134.0 L290.2,134.2 L290.3,134.4 L290.5,134.7 L290.6,134.9 L290.8,135.1 L290.9,135.3 L291.0,135.5 L291.2,135.7 L291.3,135.9 L291.5,136.1 L291.6,136.3 L291.8,136.5 L291.9,136.7 L292.0,137.0 L292.2,137.2 L292.3,137.4 L292.5,137.6 L292.6,137.8 L292.8,138.0 L292.9,138.2 L293.0,138.4 L293.2,138.6 L293.3,138.8 L293.5,139.0 L293.6,139.2 L293.8,139.4 L293.9,139.6 L294.0,139.8 L294.2,140.1 L294.3,140.3 L294.5,140.5 L294.6,140.7 L294.8,140.9 L294.9,141.1 L295.0,141.3 L295.2,141.5 L295.3,141.7 L295.5,141.9 L295.6,142.1 L295.8,142.3 L295.9,142.5 L296.0,142.7 L296.2,142.9 L296.3,143.1 L296.5,143.3 L296.6,143.5 L296.8,143.7 L296.9,143.9 L297.0,144.1 L297.2,144.3 L297.3,144.5 L297.5,144.7 L297.6,144.9 L297.8,145.1 L297.9,145.3 L298.0,145.5 L298.2,145.7 L298.3,145.9 L298.5,146.2 L298.6,146.4 L298.7,146.6 L298.9,146.8 L299.0,147.0 L299.2,147.2 L299.3,147.4 L299.5,147.6 L299.6,147.8 L299.7,148.0 L299.9,148.2 L300.0,148.4 L300.2,148.6 L300.3,148.8 L300.5,149.0 L300.6,149.2 L300.7,149.4 L300.9,149.6 L301.0,149.8 L301.2,150.0 L301.3,150.2 L301.5,150.4 L301.6,150.6 L301.7,150.8 L301.9,151.0 L302.0,151.2 L302.2,151.4 L302.3,151.4 L302.5,151.4 L302.6,151.4 L302.7,151.4 L302.9,151.4 L303.0,151.4 L303.2,151.4 L303.3,151.4 L303.5,151.4 L303.6,151.4 L303.7,151.4 L303.9,151.4" stroke="#0000ff" stroke-width="1.6" stroke-dasharray="2.4,2.6"/>
</g>
<rect x="208.5" y="68.45" width="95.19999999999999" height="74.95" fill="none" stroke="#000" stroke-width="2.0"/>
<path d="M232.30,68.45 v3.0 M232.30,143.4 v-3.0 M256.10,68.45 v4.6 M256.10,143.4 v-4.6 M279.90,68.45 v3.0 M279.90,143.4 v-3.0" stroke="#000" stroke-width="1.4" fill="none"/>
<path d="M208.5,77.18 h3.0 M303.7,77.18 h-3.0 M208.5,73.42 h3.0 M303.7,73.42 h-3.0 M208.5,71.22 h3.0 M303.7,71.22 h-3.0 M208.5,69.66 h3.0 M303.7,69.66 h-3.0 M208.5,80.94 h5.2 M303.7,80.94 h-5.2 M208.5,89.67 h3.0 M303.7,89.67 h-3.0 M208.5,85.91 h3.0 M303.7,85.91 h-3.0 M208.5,83.71 h3.0 M303.7,83.71 h-3.0 M208.5,82.15 h3.0 M303.7,82.15 h-3.0 M208.5,93.43 h5.2 M303.7,93.43 h-5.2 M208.5,102.16 h3.0 M303.7,102.16 h-3.0 M208.5,98.40 h3.0 M303.7,98.40 h-3.0 M208.5,96.20 h3.0 M303.7,96.20 h-3.0 M208.5,94.64 h3.0 M303.7,94.64 h-3.0 M208.5,105.93 h5.2 M303.7,105.93 h-5.2 M208.5,114.66 h3.0 M303.7,114.66 h-3.0 M208.5,110.90 h3.0 M303.7,110.90 h-3.0 M208.5,108.70 h3.0 M303.7,108.70 h-3.0 M208.5,107.14 h3.0 M303.7,107.14 h-3.0 M208.5,118.42 h5.2 M303.7,118.42 h-5.2 M208.5,127.15 h3.0 M303.7,127.15 h-3.0 M208.5,123.39 h3.0 M303.7,123.39 h-3.0 M208.5,121.19 h3.0 M303.7,121.19 h-3.0 M208.5,119.63 h3.0 M303.7,119.63 h-3.0 M208.5,130.91 h5.2 M303.7,130.91 h-5.2 M208.5,139.64 h3.0 M303.7,139.64 h-3.0 M208.5,135.88 h3.0 M303.7,135.88 h-3.0 M208.5,133.68 h3.0 M303.7,133.68 h-3.0 M208.5,132.12 h3.0 M303.7,132.12 h-3.0" stroke="#000" stroke-width="1.35" fill="none"/>
<clipPath id="cpie"><rect x="208.5" y="284.55" width="95.19999999999999" height="74.94999999999999"/></clipPath>
<g clip-path="url(#cpie)" fill="none" stroke-linejoin="round">
<path d="M208.5,367.5 L208.6,367.5 L208.8,367.5 L208.9,367.5 L209.1,367.5 L209.2,367.5 L209.4,367.5 L209.5,367.5 L209.6,367.5 L209.8,367.5 L209.9,367.5 L210.1,367.5 L210.2,367.5 L210.4,367.5 L210.5,367.5 L210.6,367.5 L210.8,367.5 L210.9,367.5 L211.1,367.5 L211.2,367.5 L211.4,367.5 L211.5,367.5 L211.6,367.5 L211.8,367.5 L211.9,367.5 L212.1,367.5 L212.2,367.5 L212.4,367.5 L212.5,367.5 L212.6,367.5 L212.8,367.5 L212.9,367.5 L213.1,367.5 L213.2,366.2 L213.4,364.4 L213.5,362.6 L213.6,360.8 L213.8,359.1 L213.9,357.5 L214.1,355.9 L214.2,354.4 L214.4,352.8 L214.5,351.4 L214.6,350.0 L214.8,348.6 L214.9,347.2 L215.1,345.9 L215.2,344.6 L215.4,343.3 L215.5,342.1 L215.6,340.9 L215.8,339.7 L215.9,338.6 L216.1,337.5 L216.2,336.4 L216.4,335.3 L216.5,334.3 L216.6,333.3 L216.8,332.3 L216.9,331.3 L217.1,330.3 L217.2,329.4 L217.4,328.5 L217.5,327.6 L217.6,326.7 L217.8,325.8 L217.9,325.0 L218.1,324.2 L218.2,323.4 L218.4,322.6 L218.5,321.8 L218.6,321.0 L218.8,320.3 L218.9,319.5 L219.1,318.8 L219.2,318.1 L219.4,317.4 L219.5,316.7 L219.6,316.1 L219.8,315.4 L219.9,314.8 L220.1,314.1 L220.2,313.5 L220.4,312.9 L220.5,312.3 L220.6,311.7 L220.8,311.2 L220.9,310.6 L221.1,310.0 L221.2,309.5 L221.4,309.0 L221.5,308.4 L221.6,307.9 L221.8,307.4 L221.9,306.9 L222.1,306.4 L222.2,306.0 L222.4,305.5 L222.5,305.0 L222.6,304.6 L222.8,304.2 L222.9,303.7 L223.1,303.3 L223.2,302.9 L223.4,302.5 L223.5,302.1 L223.6,301.7 L223.8,301.3 L223.9,300.9 L224.1,300.5 L224.2,300.2 L224.4,299.8 L224.5,299.5 L224.6,299.1 L224.8,298.8 L224.9,298.5 L225.1,298.2 L225.2,297.8 L225.4,297.5 L225.5,297.2 L225.6,296.9 L225.8,296.6 L225.9,296.4 L226.1,296.1 L226.2,295.8 L226.4,295.5 L226.5,295.3 L226.6,295.0 L226.8,294.8 L226.9,294.5 L227.1,294.3 L227.2,294.1 L227.4,293.8 L227.5,293.6 L227.6,293.4 L227.8,293.2 L227.9,293.0 L228.1,292.8 L228.2,292.6 L228.3,292.4 L228.5,292.2 L228.6,292.1 L228.8,291.9 L228.9,291.7 L229.1,291.6 L229.2,291.4 L229.3,291.2 L229.5,291.1 L229.6,290.9 L229.8,290.8 L229.9,290.7 L230.1,290.5 L230.2,290.4 L230.3,290.3 L230.5,290.2 L230.6,290.1 L230.8,290.0 L230.9,289.8 L231.1,289.7 L231.2,289.7 L231.3,289.6 L231.5,289.5 L231.6,289.4 L231.8,289.3 L231.9,289.2 L232.1,289.2 L232.2,289.1 L232.3,289.0 L232.5,289.0 L232.6,288.9 L232.8,288.9 L232.9,288.8 L233.1,288.8 L233.2,288.7 L233.3,288.7 L233.5,288.7 L233.6,288.6 L233.8,288.6 L233.9,288.6 L234.1,288.6 L234.2,288.6 L234.3,288.6 L234.5,288.6 L234.6,288.5 L234.8,288.5 L234.9,288.6 L235.1,288.6 L235.2,288.6 L235.3,288.6 L235.5,288.6 L235.6,288.6 L235.8,288.7 L235.9,288.7 L236.1,288.7 L236.2,288.8 L236.3,288.8 L236.5,288.8 L236.6,288.9 L236.8,288.9 L236.9,289.0 L237.1,289.0 L237.2,289.1 L237.3,289.1 L237.5,289.2 L237.6,289.3 L237.8,289.3 L237.9,289.4 L238.1,289.5 L238.2,289.6 L238.3,289.7 L238.5,289.8 L238.6,289.9 L238.8,290.0 L238.9,290.1 L239.1,290.2 L239.2,290.3 L239.3,290.4 L239.5,290.5 L239.6,290.7 L239.8,290.8 L239.9,290.9 L240.1,291.1 L240.2,291.2 L240.3,291.4 L240.5,291.5 L240.6,291.7 L240.8,291.9 L240.9,292.0 L241.1,292.2 L241.2,292.4 L241.3,292.5 L241.5,292.7 L241.6,292.9 L241.8,293.1 L241.9,293.3 L242.1,293.5 L242.2,293.6 L242.3,293.8 L242.5,294.0 L242.6,294.2 L242.8,294.4 L242.9,294.6 L243.1,294.9 L243.2,295.1 L243.3,295.3 L243.5,295.5 L243.6,295.7 L243.8,295.9 L243.9,296.1 L244.1,296.3 L244.2,296.6 L244.3,296.8 L244.5,297.0 L244.6,297.2 L244.8,297.4 L244.9,297.7 L245.1,297.9 L245.2,298.1 L245.3,298.4 L245.5,298.6 L245.6,298.8 L245.8,299.0 L245.9,299.3 L246.1,299.5 L246.2,299.7 L246.3,300.0 L246.5,300.2 L246.6,300.4 L246.8,300.6 L246.9,300.9 L247.1,301.1 L247.2,301.3 L247.3,301.5 L247.5,301.8 L247.6,302.0 L247.8,302.2 L247.9,302.4 L248.1,302.7 L248.2,302.9 L248.3,303.1 L248.5,303.3 L248.6,303.5 L248.8,303.8 L248.9,304.0 L249.1,304.2 L249.2,304.4 L249.3,304.6 L249.5,304.8 L249.6,305.0 L249.8,305.2 L249.9,305.4 L250.1,305.6 L250.2,305.8 L250.3,306.0 L250.5,306.2 L250.6,306.4 L250.8,306.6 L250.9,306.8 L251.1,307.0 L251.2,307.2 L251.3,307.4 L251.5,307.6 L251.6,307.8 L251.8,308.0 L251.9,308.2 L252.1,308.4 L252.2,308.6 L252.3,308.8 L252.5,309.0 L252.6,309.2 L252.8,309.4 L252.9,309.6 L253.1,309.8 L253.2,310.0 L253.3,310.2 L253.5,310.4 L253.6,310.6 L253.8,310.8 L253.9,311.0 L254.1,311.2 L254.2,311.4 L254.3,311.6 L254.5,311.8 L254.6,312.0 L254.8,312.2 L254.9,312.4 L255.1,312.6 L255.2,312.8 L255.3,313.1 L255.5,313.3 L255.6,313.5 L255.8,313.7 L255.9,313.9 L256.1,314.1 L256.2,314.3 L256.3,314.5 L256.5,314.7 L256.6,314.9 L256.8,315.1 L256.9,315.3 L257.1,315.5 L257.2,315.7 L257.3,315.9 L257.5,316.1 L257.6,316.3 L257.8,316.5 L257.9,316.7 L258.1,316.9 L258.2,317.1 L258.3,317.3 L258.5,317.5 L258.6,317.8 L258.8,318.0 L258.9,318.2 L259.1,318.4 L259.2,318.6 L259.3,318.8 L259.5,319.0 L259.6,319.2 L259.8,319.4 L259.9,319.6 L260.1,319.8 L260.2,320.0 L260.3,320.2 L260.5,320.4 L260.6,320.6 L260.8,320.8 L260.9,321.0 L261.1,321.2 L261.2,321.4 L261.3,321.6 L261.5,321.8 L261.6,322.0 L261.8,322.2 L261.9,322.4 L262.1,322.6 L262.2,322.8 L262.3,323.0 L262.5,323.2 L262.6,323.4 L262.8,323.6 L262.9,323.8 L263.0,324.0 L263.2,324.2 L263.3,324.4 L263.5,324.6 L263.6,324.7 L263.8,324.9 L263.9,325.1 L264.0,325.3 L264.2,325.5 L264.3,325.7 L264.5,325.9 L264.6,326.1 L264.8,326.3 L264.9,326.5 L265.0,326.7 L265.2,326.9 L265.3,327.1 L265.5,327.3 L265.6,327.5 L265.8,327.7 L265.9,327.9 L266.0,328.0 L266.2,328.2 L266.3,328.4 L266.5,328.6 L266.6,328.8 L266.8,329.0 L266.9,329.2 L267.0,329.4 L267.2,329.6 L267.3,329.8 L267.5,330.0 L267.6,330.2 L267.8,330.4 L267.9,330.5 L268.0,330.7 L268.2,330.9 L268.3,331.1 L268.5,331.3 L268.6,331.5 L268.8,331.7 L268.9,331.9 L269.0,332.1 L269.2,332.3 L269.3,332.5 L269.5,332.6 L269.6,332.8 L269.8,333.0 L269.9,333.2 L270.0,333.4 L270.2,333.6 L270.3,333.8 L270.5,334.0 L270.6,334.2 L270.8,334.4 L270.9,334.5 L271.0,334.7 L271.2,334.9 L271.3,335.1 L271.5,335.3 L271.6,335.5 L271.8,335.7 L271.9,335.9 L272.0,336.1 L272.2,336.3 L272.3,336.4 L272.5,336.6 L272.6,336.8 L272.8,337.0 L272.9,337.2 L273.0,337.4 L273.2,337.6 L273.3,337.8 L273.5,337.9 L273.6,338.1 L273.8,338.3 L273.9,338.5 L274.0,338.7 L274.2,338.9 L274.3,339.1 L274.5,339.3 L274.6,339.5 L274.8,339.6 L274.9,339.8 L275.0,340.0 L275.2,340.2 L275.3,340.4 L275.5,340.6 L275.6,340.8 L275.8,341.0 L275.9,341.1 L276.0,341.3 L276.2,341.5 L276.3,341.7 L276.5,341.9 L276.6,342.1 L276.8,342.3 L276.9,342.5 L277.0,342.6 L277.2,342.8 L277.3,343.0 L277.5,343.2 L277.6,343.4 L277.8,343.6 L277.9,343.8 L278.0,343.9 L278.2,344.1 L278.3,344.3 L278.5,344.5 L278.6,344.7 L278.8,344.9 L278.9,345.1 L279.0,345.3 L279.2,345.4 L279.3,345.6 L279.5,345.8 L279.6,346.0 L279.8,346.2 L279.9,346.4 L280.0,346.6 L280.2,346.8 L280.3,346.9 L280.5,347.1 L280.6,347.3 L280.8,347.5 L280.9,347.7 L281.0,347.9 L281.2,348.1 L281.3,348.2 L281.5,348.4 L281.6,348.6 L281.8,348.8 L281.9,349.0 L282.0,349.2 L282.2,349.4 L282.3,349.6 L282.5,349.7 L282.6,349.9 L282.8,350.1 L282.9,350.3 L283.0,350.5 L283.2,350.7 L283.3,350.9 L283.5,351.0 L283.6,351.2 L283.8,351.4 L283.9,351.6 L284.0,351.8 L284.2,352.0 L284.3,352.2 L284.5,352.4 L284.6,352.5 L284.8,352.7 L284.9,352.9 L285.0,353.1 L285.2,353.3 L285.3,353.5 L285.5,353.7 L285.6,353.9 L285.8,354.0 L285.9,354.2 L286.0,354.4 L286.2,354.6 L286.3,354.8 L286.5,355.0 L286.6,355.2 L286.8,355.4 L286.9,355.5 L287.0,355.7 L287.2,355.9 L287.3,356.1 L287.5,356.3 L287.6,356.5 L287.8,356.7 L287.9,356.9 L288.0,357.1 L288.2,357.2 L288.3,357.4 L288.5,357.6 L288.6,357.8 L288.8,358.0 L288.9,358.2 L289.0,358.4 L289.2,358.6 L289.3,358.7 L289.5,358.9 L289.6,359.1 L289.8,359.3 L289.9,359.5 L290.0,359.7 L290.2,359.9 L290.3,360.1 L290.5,360.3 L290.6,360.5 L290.8,360.6 L290.9,360.8 L291.0,361.0 L291.2,361.2 L291.3,361.4 L291.5,361.6 L291.6,361.8 L291.8,362.0 L291.9,362.2 L292.0,362.3 L292.2,362.5 L292.3,362.7 L292.5,362.9 L292.6,363.1 L292.8,363.3 L292.9,363.5 L293.0,363.7 L293.2,363.9 L293.3,364.0 L293.5,364.2 L293.6,364.4 L293.8,364.6 L293.9,364.8 L294.0,365.0 L294.2,365.2 L294.3,365.4 L294.5,365.6 L294.6,365.7 L294.8,365.9 L294.9,366.1 L295.0,366.3 L295.2,366.5 L295.3,366.7 L295.5,366.9 L295.6,367.1 L295.8,367.3 L295.9,367.4 L296.0,367.5 L296.2,367.5 L296.3,367.5 L296.5,367.5 L296.6,367.5 L296.8,367.5 L296.9,367.5 L297.0,367.5 L297.2,367.5 L297.3,367.5 L297.5,367.5 L297.6,367.5 L297.8,367.5 L297.9,367.5 L298.0,367.5 L298.2,367.5 L298.3,367.5 L298.5,367.5 L298.6,367.5 L298.7,367.5 L298.9,367.5 L299.0,367.5 L299.2,367.5 L299.3,367.5 L299.5,367.5 L299.6,367.5 L299.7,367.5 L299.9,367.5 L300.0,367.5 L300.2,367.5 L300.3,367.5 L300.5,367.5 L300.6,367.5 L300.7,367.5 L300.9,367.5 L301.0,367.5 L301.2,367.5 L301.3,367.5 L301.5,367.5 L301.6,367.5 L301.7,367.5 L301.9,367.5 L302.0,367.5 L302.2,367.5 L302.3,367.5 L302.5,367.5 L302.6,367.5 L302.7,367.5 L302.9,367.5 L303.0,367.5 L303.2,367.5 L303.3,367.5 L303.5,367.5 L303.6,367.5 L303.7,367.5 L303.9,367.5" stroke="#000" stroke-width="1.4"/>
<path d="M208.5,367.5 L208.6,367.5 L208.8,367.5 L208.9,367.5 L209.1,367.5 L209.2,367.5 L209.4,367.5 L209.5,367.5 L209.6,367.5 L209.8,367.5 L209.9,367.5 L210.1,367.5 L210.2,367.5 L210.4,367.5 L210.5,367.5 L210.6,367.5 L210.8,367.5 L210.9,367.5 L211.1,367.5 L211.2,367.5 L211.4,367.5 L211.5,367.5 L211.6,367.5 L211.8,367.5 L211.9,367.5 L212.1,367.5 L212.2,367.5 L212.4,367.5 L212.5,367.5 L212.6,367.5 L212.8,367.5 L212.9,367.5 L213.1,367.5 L213.2,366.2 L213.4,364.3 L213.5,362.5 L213.6,360.8 L213.8,359.1 L213.9,357.4 L214.1,355.8 L214.2,354.3 L214.4,352.8 L214.5,351.3 L214.6,349.9 L214.8,348.5 L214.9,347.1 L215.1,345.8 L215.2,344.5 L215.4,343.3 L215.5,342.1 L215.6,340.9 L215.8,339.7 L215.9,338.5 L216.1,337.4 L216.2,336.3 L216.4,335.3 L216.5,334.2 L216.6,333.2 L216.8,332.2 L216.9,331.2 L217.1,330.3 L217.2,329.3 L217.4,328.4 L217.5,327.5 L217.6,326.6 L217.8,325.8 L217.9,324.9 L218.1,324.1 L218.2,323.3 L218.4,322.5 L218.5,321.7 L218.6,321.0 L218.8,320.2 L218.9,319.5 L219.1,318.8 L219.2,318.0 L219.4,317.4 L219.5,316.7 L219.6,316.0 L219.8,315.3 L219.9,314.7 L220.1,314.1 L220.2,313.5 L220.4,312.8 L220.5,312.3 L220.6,311.7 L220.8,311.1 L220.9,310.5 L221.1,310.0 L221.2,309.4 L221.4,308.9 L221.5,308.4 L221.6,307.9 L221.8,307.4 L221.9,306.9 L222.1,306.4 L222.2,305.9 L222.4,305.4 L222.5,305.0 L222.6,304.5 L222.8,304.1 L222.9,303.7 L223.1,303.2 L223.2,302.8 L223.4,302.4 L223.5,302.0 L223.6,301.6 L223.8,301.2 L223.9,300.9 L224.1,300.5 L224.2,300.1 L224.4,299.8 L224.5,299.4 L224.6,299.1 L224.8,298.7 L224.9,298.4 L225.1,298.1 L225.2,297.8 L225.4,297.5 L225.5,297.2 L225.6,296.9 L225.8,296.6 L225.9,296.3 L226.1,296.0 L226.2,295.7 L226.4,295.5 L226.5,295.2 L226.6,295.0 L226.8,294.7 L226.9,294.5 L227.1,294.2 L227.2,294.0 L227.4,293.8 L227.5,293.6 L227.6,293.3 L227.8,293.1 L227.9,292.9 L228.1,292.7 L228.2,292.5 L228.3,292.4 L228.5,292.2 L228.6,292.0 L228.8,291.8 L228.9,291.7 L229.1,291.5 L229.2,291.3 L229.3,291.2 L229.5,291.0 L229.6,290.9 L229.8,290.7 L229.9,290.6 L230.1,290.5 L230.2,290.3 L230.3,290.2 L230.5,290.1 L230.6,290.0 L230.8,289.9 L230.9,289.8 L231.1,289.7 L231.2,289.6 L231.3,289.5 L231.5,289.4 L231.6,289.3 L231.8,289.2 L231.9,289.2 L232.1,289.1 L232.2,289.0 L232.3,289.0 L232.5,288.9 L232.6,288.9 L232.8,288.8 L232.9,288.8 L233.1,288.7 L233.2,288.7 L233.3,288.6 L233.5,288.6 L233.6,288.6 L233.8,288.6 L233.9,288.5 L234.1,288.5 L234.2,288.5 L234.3,288.5 L234.5,288.5 L234.6,288.5 L234.8,288.5 L234.9,288.5 L235.1,288.5 L235.2,288.5 L235.3,288.5 L235.5,288.6 L235.6,288.6 L235.8,288.6 L235.9,288.6 L236.1,288.7 L236.2,288.7 L236.3,288.7 L236.5,288.8 L236.6,288.8 L236.8,288.8 L236.9,288.9 L237.1,288.9 L237.2,289.0 L237.3,289.1 L237.5,289.1 L237.6,289.2 L237.8,289.3 L237.9,289.3 L238.1,289.4 L238.2,289.5 L238.3,289.6 L238.5,289.7 L238.6,289.8 L238.8,289.9 L238.9,290.0 L239.1,290.1 L239.2,290.2 L239.3,290.4 L239.5,290.5 L239.6,290.6 L239.8,290.7 L239.9,290.9 L240.1,291.0 L240.2,291.2 L240.3,291.3 L240.5,291.5 L240.6,291.6 L240.8,291.8 L240.9,292.0 L241.1,292.1 L241.2,292.3 L241.3,292.5 L241.5,292.6 L241.6,292.8 L241.8,293.0 L241.9,293.2 L242.1,293.4 L242.2,293.6 L242.3,293.8 L242.5,294.0 L242.6,294.2 L242.8,294.4 L242.9,294.6 L243.1,294.8 L243.2,295.0 L243.3,295.2 L243.5,295.4 L243.6,295.6 L243.8,295.8 L243.9,296.0 L244.1,296.2 L244.2,296.5 L244.3,296.7 L244.5,296.9 L244.6,297.1 L244.8,297.4 L244.9,297.6 L245.1,297.8 L245.2,298.0 L245.3,298.3 L245.5,298.5 L245.6,298.7 L245.8,298.9 L245.9,299.2 L246.1,299.4 L246.2,299.6 L246.3,299.8 L246.5,300.1 L246.6,300.3 L246.8,300.5 L246.9,300.8 L247.1,301.0 L247.2,301.2 L247.3,301.4 L247.5,301.7 L247.6,301.9 L247.8,302.1 L247.9,302.3 L248.1,302.5 L248.2,302.8 L248.3,303.0 L248.5,303.2 L248.6,303.4 L248.8,303.6 L248.9,303.8 L249.1,304.1 L249.2,304.3 L249.3,304.5 L249.5,304.7 L249.6,304.9 L249.8,305.1 L249.9,305.3 L250.1,305.5 L250.2,305.7 L250.3,305.9 L250.5,306.1 L250.6,306.3 L250.8,306.5 L250.9,306.7 L251.1,306.9 L251.2,307.1 L251.3,307.3 L251.5,307.5 L251.6,307.7 L251.8,307.9 L251.9,308.1 L252.1,308.3 L252.2,308.5 L252.3,308.7 L252.5,308.9 L252.6,309.1 L252.8,309.3 L252.9,309.5 L253.1,309.7 L253.2,309.9 L253.3,310.1 L253.5,310.3 L253.6,310.5 L253.8,310.7 L253.9,310.9 L254.1,311.1 L254.2,311.3 L254.3,311.5 L254.5,311.7 L254.6,311.9 L254.8,312.1 L254.9,312.3 L255.1,312.5 L255.2,312.7 L255.3,312.9 L255.5,313.1 L255.6,313.3 L255.8,313.5 L255.9,313.7 L256.1,313.9 L256.2,314.2 L256.3,314.4 L256.5,314.6 L256.6,314.8 L256.8,315.0 L256.9,315.2 L257.1,315.4 L257.2,315.6 L257.3,315.8 L257.5,316.0 L257.6,316.2 L257.8,316.4 L257.9,316.6 L258.1,316.8 L258.2,317.0 L258.3,317.2 L258.5,317.4 L258.6,317.6 L258.8,317.8 L258.9,318.0 L259.1,318.2 L259.2,318.4 L259.3,318.6 L259.5,318.9 L259.6,319.1 L259.8,319.3 L259.9,319.5 L260.1,319.7 L260.2,319.9 L260.3,320.1 L260.5,320.3 L260.6,320.5 L260.8,320.7 L260.9,320.9 L261.1,321.1 L261.2,321.3 L261.3,321.5 L261.5,321.7 L261.6,321.9 L261.8,322.1 L261.9,322.3 L262.1,322.5 L262.2,322.7 L262.3,322.9 L262.5,323.1 L262.6,323.3 L262.8,323.4 L262.9,323.6 L263.0,323.8 L263.2,324.0 L263.3,324.2 L263.5,324.4 L263.6,324.6 L263.8,324.8 L263.9,325.0 L264.0,325.2 L264.2,325.4 L264.3,325.6 L264.5,325.8 L264.6,326.0 L264.8,326.2 L264.9,326.4 L265.0,326.6 L265.2,326.8 L265.3,326.9 L265.5,327.1 L265.6,327.3 L265.8,327.5 L265.9,327.7 L266.0,327.9 L266.2,328.1 L266.3,328.3 L266.5,328.5 L266.6,328.7 L266.8,328.9 L266.9,329.1 L267.0,329.3 L267.2,329.4 L267.3,329.6 L267.5,329.8 L267.6,330.0 L267.8,330.2 L267.9,330.4 L268.0,330.6 L268.2,330.8 L268.3,331.0 L268.5,331.2 L268.6,331.4 L268.8,331.5 L268.9,331.7 L269.0,331.9 L269.2,332.1 L269.3,332.3 L269.5,332.5 L269.6,332.7 L269.8,332.9 L269.9,333.1 L270.0,333.2 L270.2,333.4 L270.3,333.6 L270.5,333.8 L270.6,334.0 L270.8,334.2 L270.9,334.4 L271.0,334.6 L271.2,334.8 L271.3,334.9 L271.5,335.1 L271.6,335.3 L271.8,335.5 L271.9,335.7 L272.0,335.9 L272.2,336.1 L272.3,336.3 L272.5,336.5 L272.6,336.6 L272.8,336.8 L272.9,337.0 L273.0,337.2 L273.2,337.4 L273.3,337.6 L273.5,337.8 L273.6,338.0 L273.8,338.1 L273.9,338.3 L274.0,338.5 L274.2,338.7 L274.3,338.9 L274.5,339.1 L274.6,339.3 L274.8,339.4 L274.9,339.6 L275.0,339.8 L275.2,340.0 L275.3,340.2 L275.5,340.4 L275.6,340.6 L275.8,340.8 L275.9,340.9 L276.0,341.1 L276.2,341.3 L276.3,341.5 L276.5,341.7 L276.6,341.9 L276.8,342.1 L276.9,342.2 L277.0,342.4 L277.2,342.6 L277.3,342.8 L277.5,343.0 L277.6,343.2 L277.8,343.4 L277.9,343.5 L278.0,343.7 L278.2,343.9 L278.3,344.1 L278.5,344.3 L278.6,344.5 L278.8,344.7 L278.9,344.8 L279.0,345.0 L279.2,345.2 L279.3,345.4 L279.5,345.6 L279.6,345.8 L279.8,346.0 L279.9,346.1 L280.0,346.3 L280.2,346.5 L280.3,346.7 L280.5,346.9 L280.6,347.1 L280.8,347.3 L280.9,347.4 L281.0,347.6 L281.2,347.8 L281.3,348.0 L281.5,348.2 L281.6,348.4 L281.8,348.6 L281.9,348.7 L282.0,348.9 L282.2,349.1 L282.3,349.3 L282.5,349.5 L282.6,349.7 L282.8,349.9 L282.9,350.0 L283.0,350.2 L283.2,350.4 L283.3,350.6 L283.5,350.8 L283.6,351.0 L283.8,351.2 L283.9,351.3 L284.0,351.5 L284.2,351.7 L284.3,351.9 L284.5,352.1 L284.6,352.3 L284.8,352.5 L284.9,352.6 L285.0,352.8 L285.2,353.0 L285.3,353.2 L285.5,353.4 L285.6,353.6 L285.8,353.8 L285.9,353.9 L286.0,354.1 L286.2,354.3 L286.3,354.5 L286.5,354.7 L286.6,354.9 L286.8,355.1 L286.9,355.3 L287.0,355.4 L287.2,355.6 L287.3,355.8 L287.5,356.0 L287.6,356.2 L287.8,356.4 L287.9,356.6 L288.0,356.7 L288.2,356.9 L288.3,357.1 L288.5,357.3 L288.6,357.5 L288.8,357.7 L288.9,357.9 L289.0,358.1 L289.2,358.2 L289.3,358.4 L289.5,358.6 L289.6,358.8 L289.8,359.0 L289.9,359.2 L290.0,359.4 L290.2,359.6 L290.3,359.8 L290.5,359.9 L290.6,360.1 L290.8,360.3 L290.9,360.5 L291.0,360.7 L291.2,360.9 L291.3,361.1 L291.5,361.3 L291.6,361.4 L291.8,361.6 L291.9,361.8 L292.0,362.0 L292.2,362.2 L292.3,362.4 L292.5,362.6 L292.6,362.8 L292.8,362.9 L292.9,363.1 L293.0,363.3 L293.2,363.5 L293.3,363.7 L293.5,363.9 L293.6,364.1 L293.8,364.3 L293.9,364.5 L294.0,364.6 L294.2,364.8 L294.3,365.0 L294.5,365.2 L294.6,365.4 L294.8,365.6 L294.9,365.8 L295.0,366.0 L295.2,366.1 L295.3,366.3 L295.5,366.5 L295.6,366.7 L295.8,366.9 L295.9,367.1 L296.0,367.3 L296.2,367.5 L296.3,367.5 L296.5,367.5 L296.6,367.5 L296.8,367.5 L296.9,367.5 L297.0,367.5 L297.2,367.5 L297.3,367.5 L297.5,367.5 L297.6,367.5 L297.8,367.5 L297.9,367.5 L298.0,367.5 L298.2,367.5 L298.3,367.5 L298.5,367.5 L298.6,367.5 L298.7,367.5 L298.9,367.5 L299.0,367.5 L299.2,367.5 L299.3,367.5 L299.5,367.5 L299.6,367.5 L299.7,367.5 L299.9,367.5 L300.0,367.5 L300.2,367.5 L300.3,367.5 L300.5,367.5 L300.6,367.5 L300.7,367.5 L300.9,367.5 L301.0,367.5 L301.2,367.5 L301.3,367.5 L301.5,367.5 L301.6,367.5 L301.7,367.5 L301.9,367.5 L302.0,367.5 L302.2,367.5 L302.3,367.5 L302.5,367.5 L302.6,367.5 L302.7,367.5 L302.9,367.5 L303.0,367.5 L303.2,367.5 L303.3,367.5 L303.5,367.5 L303.6,367.5 L303.7,367.5 L303.9,367.5" stroke="#ff0000" stroke-width="1.6" stroke-dasharray="6.5,4"/>
<path d="M208.5,367.5 L208.6,367.5 L208.8,367.5 L208.9,367.5 L209.1,367.5 L209.2,367.5 L209.4,367.5 L209.5,367.5 L209.6,367.5 L209.8,367.5 L209.9,367.5 L210.1,367.5 L210.2,367.5 L210.4,367.5 L210.5,367.5 L210.6,367.5 L210.8,367.5 L210.9,367.5 L211.1,367.5 L211.2,367.5 L211.4,367.5 L211.5,367.5 L211.6,367.5 L211.8,367.5 L211.9,367.5 L212.1,367.5 L212.2,367.5 L212.4,367.5 L212.5,367.5 L212.6,367.5 L212.8,367.5 L212.9,367.5 L213.1,367.5 L213.2,367.5 L213.4,366.0 L213.5,364.2 L213.6,362.5 L213.8,360.8 L213.9,359.1 L214.1,357.5 L214.2,356.0 L214.4,354.5 L214.5,353.0 L214.6,351.6 L214.8,350.2 L214.9,348.8 L215.1,347.5 L215.2,346.2 L215.4,345.0 L215.5,343.7 L215.6,342.5 L215.8,341.4 L215.9,340.2 L216.1,339.1 L216.2,338.0 L216.4,337.0 L216.5,335.9 L216.6,334.9 L216.8,333.9 L216.9,332.9 L217.1,332.0 L217.2,331.0 L217.4,330.1 L217.5,329.2 L217.6,328.3 L217.8,327.5 L217.9,326.6 L218.1,325.8 L218.2,325.0 L218.4,324.2 L218.5,323.4 L218.6,322.6 L218.8,321.9 L218.9,321.2 L219.1,320.4 L219.2,319.7 L219.4,319.0 L219.5,318.4 L219.6,317.7 L219.8,317.0 L219.9,316.4 L220.1,315.8 L220.2,315.1 L220.4,314.5 L220.5,313.9 L220.6,313.4 L220.8,312.8 L220.9,312.2 L221.1,311.7 L221.2,311.1 L221.4,310.6 L221.5,310.1 L221.6,309.6 L221.8,309.1 L221.9,308.6 L222.1,308.1 L222.2,307.6 L222.4,307.1 L222.5,306.7 L222.6,306.2 L222.8,305.8 L222.9,305.4 L223.1,304.9 L223.2,304.5 L223.4,304.1 L223.5,303.7 L223.6,303.3 L223.8,302.9 L223.9,302.6 L224.1,302.2 L224.2,301.8 L224.4,301.5 L224.5,301.1 L224.6,300.8 L224.8,300.4 L224.9,300.1 L225.1,299.8 L225.2,299.5 L225.4,299.2 L225.5,298.9 L225.6,298.6 L225.8,298.3 L225.9,298.0 L226.1,297.7 L226.2,297.5 L226.4,297.2 L226.5,296.9 L226.6,296.7 L226.8,296.4 L226.9,296.2 L227.1,296.0 L227.2,295.7 L227.4,295.5 L227.5,295.3 L227.6,295.1 L227.8,294.9 L227.9,294.7 L228.1,294.5 L228.2,294.3 L228.3,294.1 L228.5,293.9 L228.6,293.7 L228.8,293.5 L228.9,293.4 L229.1,293.2 L229.2,293.0 L229.3,292.9 L229.5,292.7 L229.6,292.6 L229.8,292.5 L229.9,292.3 L230.1,292.2 L230.2,292.1 L230.3,291.9 L230.5,291.8 L230.6,291.7 L230.8,291.6 L230.9,291.5 L231.1,291.4 L231.2,291.3 L231.3,291.2 L231.5,291.1 L231.6,291.0 L231.8,290.9 L231.9,290.9 L232.1,290.8 L232.2,290.7 L232.3,290.7 L232.5,290.6 L232.6,290.6 L232.8,290.5 L232.9,290.5 L233.1,290.4 L233.2,290.4 L233.3,290.3 L233.5,290.3 L233.6,290.3 L233.8,290.2 L233.9,290.2 L234.1,290.2 L234.2,290.2 L234.3,290.2 L234.5,290.2 L234.6,290.2 L234.8,290.2 L234.9,290.2 L235.1,290.2 L235.2,290.2 L235.3,290.2 L235.5,290.2 L235.6,290.3 L235.8,290.3 L235.9,290.3 L236.1,290.4 L236.2,290.4 L236.3,290.4 L236.5,290.4 L236.6,290.5 L236.8,290.5 L236.9,290.6 L237.1,290.6 L237.2,290.7 L237.3,290.8 L237.5,290.8 L237.6,290.9 L237.8,291.0 L237.9,291.1 L238.1,291.1 L238.2,291.2 L238.3,291.3 L238.5,291.4 L238.6,291.5 L238.8,291.6 L238.9,291.7 L239.1,291.9 L239.2,292.0 L239.3,292.1 L239.5,292.2 L239.6,292.4 L239.8,292.5 L239.9,292.7 L240.1,292.8 L240.2,293.0 L240.3,293.1 L240.5,293.3 L240.6,293.4 L240.8,293.6 L240.9,293.8 L241.1,294.0 L241.2,294.1 L241.3,294.3 L241.5,294.5 L241.6,294.7 L241.8,294.9 L241.9,295.1 L242.1,295.3 L242.2,295.5 L242.3,295.7 L242.5,295.9 L242.6,296.1 L242.8,296.3 L242.9,296.5 L243.1,296.7 L243.2,296.9 L243.3,297.2 L243.5,297.4 L243.6,297.6 L243.8,297.8 L243.9,298.1 L244.1,298.3 L244.2,298.5 L244.3,298.7 L244.5,299.0 L244.6,299.2 L244.8,299.4 L244.9,299.7 L245.1,299.9 L245.2,300.2 L245.3,300.4 L245.5,300.6 L245.6,300.9 L245.8,301.1 L245.9,301.3 L246.1,301.6 L246.2,301.8 L246.3,302.1 L246.5,302.3 L246.6,302.6 L246.8,302.8 L246.9,303.0 L247.1,303.3 L247.2,303.5 L247.3,303.8 L247.5,304.0 L247.6,304.2 L247.8,304.5 L247.9,304.7 L248.1,304.9 L248.2,305.2 L248.3,305.4 L248.5,305.7 L248.6,305.9 L248.8,306.1 L248.9,306.3 L249.1,306.6 L249.2,306.8 L249.3,307.0 L249.5,307.2 L249.6,307.5 L249.8,307.7 L249.9,307.9 L250.1,308.1 L250.2,308.3 L250.3,308.5 L250.5,308.7 L250.6,309.0 L250.8,309.2 L250.9,309.4 L251.1,309.6 L251.2,309.8 L251.3,310.0 L251.5,310.3 L251.6,310.5 L251.8,310.7 L251.9,310.9 L252.1,311.1 L252.2,311.4 L252.3,311.6 L252.5,311.8 L252.6,312.0 L252.8,312.3 L252.9,312.5 L253.1,312.7 L253.2,312.9 L253.3,313.2 L253.5,313.4 L253.6,313.6 L253.8,313.8 L253.9,314.1 L254.1,314.3 L254.2,314.5 L254.3,314.7 L254.5,315.0 L254.6,315.2 L254.8,315.4 L254.9,315.6 L255.1,315.9 L255.2,316.1 L255.3,316.3 L255.5,316.6 L255.6,316.8 L255.8,317.0 L255.9,317.2 L256.1,317.5 L256.2,317.7 L256.3,317.9 L256.5,318.2 L256.6,318.4 L256.8,318.6 L256.9,318.9 L257.1,319.1 L257.2,319.3 L257.3,319.5 L257.5,319.8 L257.6,320.0 L257.8,320.2 L257.9,320.5 L258.1,320.7 L258.2,320.9 L258.3,321.2 L258.5,321.4 L258.6,321.6 L258.8,321.9 L258.9,322.1 L259.1,322.3 L259.2,322.5 L259.3,322.8 L259.5,323.0 L259.6,323.2 L259.8,323.5 L259.9,323.7 L260.1,323.9 L260.2,324.2 L260.3,324.4 L260.5,324.6 L260.6,324.9 L260.8,325.1 L260.9,325.3 L261.1,325.5 L261.2,325.8 L261.3,326.0 L261.5,326.2 L261.6,326.5 L261.8,326.7 L261.9,326.9 L262.1,327.1 L262.2,327.4 L262.3,327.6 L262.5,327.8 L262.6,328.0 L262.8,328.3 L262.9,328.5 L263.0,328.7 L263.2,328.9 L263.3,329.2 L263.5,329.4 L263.6,329.6 L263.8,329.8 L263.9,330.1 L264.0,330.3 L264.2,330.5 L264.3,330.7 L264.5,331.0 L264.6,331.2 L264.8,331.4 L264.9,331.6 L265.0,331.9 L265.2,332.1 L265.3,332.3 L265.5,332.5 L265.6,332.8 L265.8,333.0 L265.9,333.2 L266.0,333.4 L266.2,333.7 L266.3,333.9 L266.5,334.1 L266.6,334.3 L266.8,334.6 L266.9,334.8 L267.0,335.0 L267.2,335.2 L267.3,335.5 L267.5,335.7 L267.6,335.9 L267.8,336.1 L267.9,336.4 L268.0,336.6 L268.2,336.8 L268.3,337.0 L268.5,337.3 L268.6,337.5 L268.8,337.7 L268.9,337.9 L269.0,338.2 L269.2,338.4 L269.3,338.6 L269.5,338.8 L269.6,339.0 L269.8,339.3 L269.9,339.5 L270.0,339.7 L270.2,339.9 L270.3,340.2 L270.5,340.4 L270.6,340.6 L270.8,340.8 L270.9,341.1 L271.0,341.3 L271.2,341.5 L271.3,341.7 L271.5,342.0 L271.6,342.2 L271.8,342.4 L271.9,342.6 L272.0,342.9 L272.2,343.1 L272.3,343.3 L272.5,343.5 L272.6,343.7 L272.8,344.0 L272.9,344.2 L273.0,344.4 L273.2,344.6 L273.3,344.9 L273.5,345.1 L273.6,345.3 L273.8,345.5 L273.9,345.8 L274.0,346.0 L274.2,346.2 L274.3,346.4 L274.5,346.7 L274.6,346.9 L274.8,347.1 L274.9,347.3 L275.0,347.5 L275.2,347.8 L275.3,348.0 L275.5,348.2 L275.6,348.4 L275.8,348.7 L275.9,348.9 L276.0,349.1 L276.2,349.3 L276.3,349.6 L276.5,349.8 L276.6,350.0 L276.8,350.2 L276.9,350.5 L277.0,350.7 L277.2,350.9 L277.3,351.1 L277.5,351.3 L277.6,351.6 L277.8,351.8 L277.9,352.0 L278.0,352.2 L278.2,352.5 L278.3,352.7 L278.5,352.9 L278.6,353.1 L278.8,353.4 L278.9,353.6 L279.0,353.8 L279.2,354.0 L279.3,354.3 L279.5,354.5 L279.6,354.7 L279.8,354.9 L279.9,355.1 L280.0,355.4 L280.2,355.6 L280.3,355.8 L280.5,356.0 L280.6,356.3 L280.8,356.5 L280.9,356.7 L281.0,356.9 L281.2,357.2 L281.3,357.4 L281.5,357.6 L281.6,357.8 L281.8,358.1 L281.9,358.3 L282.0,358.5 L282.2,358.7 L282.3,359.0 L282.5,359.2 L282.6,359.4 L282.8,359.6 L282.9,359.8 L283.0,360.1 L283.2,360.3 L283.3,360.5 L283.5,360.7 L283.6,361.0 L283.8,361.2 L283.9,361.4 L284.0,361.6 L284.2,361.9 L284.3,362.1 L284.5,362.3 L284.6,362.5 L284.8,362.8 L284.9,363.0 L285.0,363.2 L285.2,363.4 L285.3,363.7 L285.5,363.9 L285.6,364.1 L285.8,364.3 L285.9,364.5 L286.0,364.8 L286.2,365.0 L286.3,365.2 L286.5,365.4 L286.6,365.7 L286.8,365.9 L286.9,366.1 L287.0,366.3 L287.2,366.6 L287.3,366.8 L287.5,367.0 L287.6,367.2 L287.8,367.5 L287.9,367.5 L288.0,367.5 L288.2,367.5 L288.3,367.5 L288.5,367.5 L288.6,367.5 L288.8,367.5 L288.9,367.5 L289.0,367.5 L289.2,367.5 L289.3,367.5 L289.5,367.5 L289.6,367.5 L289.8,367.5 L289.9,367.5 L290.0,367.5 L290.2,367.5 L290.3,367.5 L290.5,367.5 L290.6,367.5 L290.8,367.5 L290.9,367.5 L291.0,367.5 L291.2,367.5 L291.3,367.5 L291.5,367.5 L291.6,367.5 L291.8,367.5 L291.9,367.5 L292.0,367.5 L292.2,367.5 L292.3,367.5 L292.5,367.5 L292.6,367.5 L292.8,367.5 L292.9,367.5 L293.0,367.5 L293.2,367.5 L293.3,367.5 L293.5,367.5 L293.6,367.5 L293.8,367.5 L293.9,367.5 L294.0,367.5 L294.2,367.5 L294.3,367.5 L294.5,367.5 L294.6,367.5 L294.8,367.5 L294.9,367.5 L295.0,367.5 L295.2,367.5 L295.3,367.5 L295.5,367.5 L295.6,367.5 L295.8,367.5 L295.9,367.5 L296.0,367.5 L296.2,367.5 L296.3,367.5 L296.5,367.5 L296.6,367.5 L296.8,367.5 L296.9,367.5 L297.0,367.5 L297.2,367.5 L297.3,367.5 L297.5,367.5 L297.6,367.5 L297.8,367.5 L297.9,367.5 L298.0,367.5 L298.2,367.5 L298.3,367.5 L298.5,367.5 L298.6,367.5 L298.7,367.5 L298.9,367.5 L299.0,367.5 L299.2,367.5 L299.3,367.5 L299.5,367.5 L299.6,367.5 L299.7,367.5 L299.9,367.5 L300.0,367.5 L300.2,367.5 L300.3,367.5 L300.5,367.5 L300.6,367.5 L300.7,367.5 L300.9,367.5 L301.0,367.5 L301.2,367.5 L301.3,367.5 L301.5,367.5 L301.6,367.5 L301.7,367.5 L301.9,367.5 L302.0,367.5 L302.2,367.5 L302.3,367.5 L302.5,367.5 L302.6,367.5 L302.7,367.5 L302.9,367.5 L303.0,367.5 L303.2,367.5 L303.3,367.5 L303.5,367.5 L303.6,367.5 L303.7,367.5 L303.9,367.5" stroke="#0000ff" stroke-width="1.6" stroke-dasharray="2.4,2.6"/>
</g>
<rect x="208.5" y="284.55" width="95.19999999999999" height="74.94999999999999" fill="none" stroke="#000" stroke-width="2.0"/>
<path d="M232.30,284.55 v3.0 M232.30,359.5 v-3.0 M256.10,284.55 v4.6 M256.10,359.5 v-4.6 M279.90,284.55 v3.0 M279.90,359.5 v-3.0" stroke="#000" stroke-width="1.4" fill="none"/>
<path d="M208.5,293.28 h3.0 M303.7,293.28 h-3.0 M208.5,289.52 h3.0 M303.7,289.52 h-3.0 M208.5,287.32 h3.0 M303.7,287.32 h-3.0 M208.5,285.76 h3.0 M303.7,285.76 h-3.0 M208.5,297.04 h5.2 M303.7,297.04 h-5.2 M208.5,305.77 h3.0 M303.7,305.77 h-3.0 M208.5,302.01 h3.0 M303.7,302.01 h-3.0 M208.5,299.81 h3.0 M303.7,299.81 h-3.0 M208.5,298.25 h3.0 M303.7,298.25 h-3.0 M208.5,309.53 h5.2 M303.7,309.53 h-5.2 M208.5,318.26 h3.0 M303.7,318.26 h-3.0 M208.5,314.50 h3.0 M303.7,314.50 h-3.0 M208.5,312.30 h3.0 M303.7,312.30 h-3.0 M208.5,310.74 h3.0 M303.7,310.74 h-3.0 M208.5,322.02 h5.2 M303.7,322.02 h-5.2 M208.5,330.76 h3.0 M303.7,330.76 h-3.0 M208.5,327.00 h3.0 M303.7,327.00 h-3.0 M208.5,324.80 h3.0 M303.7,324.80 h-3.0 M208.5,323.24 h3.0 M303.7,323.24 h-3.0 M208.5,334.52 h5.2 M303.7,334.52 h-5.2 M208.5,343.25 h3.0 M303.7,343.25 h-3.0 M208.5,339.49 h3.0 M303.7,339.49 h-3.0 M208.5,337.29 h3.0 M303.7,337.29 h-3.0 M208.5,335.73 h3.0 M303.7,335.73 h-3.0 M208.5,347.01 h5.2 M303.7,347.01 h-5.2 M208.5,355.74 h3.0 M303.7,355.74 h-3.0 M208.5,351.98 h3.0 M303.7,351.98 h-3.0 M208.5,349.78 h3.0 M303.7,349.78 h-3.0 M208.5,348.22 h3.0 M303.7,348.22 h-3.0" stroke="#000" stroke-width="1.35" fill="none"/>
<g transform="translate(81.70,31.50) scale(0.91,1)" fill="#000"><text x="-23.63" y="0" font-size="17.0">0.0</text></g>
<g transform="translate(81.70,51.20) scale(0.91,1)" fill="#000"><text x="-23.63" y="0" font-size="17.0">0.5</text></g>
<g transform="translate(81.70,90.54) scale(0.91,1)" fill="#000"><text x="-23.63" y="0" font-size="17.0">0.4</text></g>
<g transform="translate(81.70,129.83) scale(0.91,1)" fill="#000"><text x="-23.63" y="0" font-size="17.0">0.3</text></g>
<g transform="translate(81.70,169.12) scale(0.91,1)" fill="#000"><text x="-23.63" y="0" font-size="17.0">0.2</text></g>
<g transform="translate(81.70,208.41) scale(0.91,1)" fill="#000"><text x="-23.63" y="0" font-size="17.0">0.</text><path transform="translate(-9.45,0) scale(17.0)" d="M0.3726,0H0.2847V-0.56Q0.2527,-0.5298 0.2014,-0.4995Q0.15,-0.4692 0.1089,-0.4541V-0.539Q0.1826,-0.5737 0.2378,-0.623Q0.293,-0.6724 0.3159,-0.7187H0.3726Z"/></g>
<g transform="translate(81.70,247.70) scale(0.91,1)" fill="#000"><text x="-23.63" y="0" font-size="17.0">0.0</text></g>
<g transform="translate(81.70,267.30) scale(0.91,1)" fill="#000"><text x="-23.63" y="0" font-size="17.0">0.5</text></g>
<g transform="translate(81.70,306.84) scale(0.91,1)" fill="#000"><text x="-23.63" y="0" font-size="17.0">0.4</text></g>
<g transform="translate(81.70,346.13) scale(0.91,1)" fill="#000"><text x="-23.63" y="0" font-size="17.0">0.3</text></g>
<g transform="translate(81.70,385.42) scale(0.91,1)" fill="#000"><text x="-23.63" y="0" font-size="17.0">0.2</text></g>
<g transform="translate(81.70,424.71) scale(0.91,1)" fill="#000"><text x="-23.63" y="0" font-size="17.0">0.</text><path transform="translate(-9.45,0) scale(17.0)" d="M0.3726,0H0.2847V-0.56Q0.2527,-0.5298 0.2014,-0.4995Q0.15,-0.4692 0.1089,-0.4541V-0.539Q0.1826,-0.5737 0.2378,-0.623Q0.293,-0.6724 0.3159,-0.7187H0.3726Z"/></g>
<g transform="translate(81.70,464.00) scale(0.91,1)" fill="#000"><text x="-23.63" y="0" font-size="17.0">0.0</text></g>
<g transform="translate(89.50,498.70) scale(0.91,1)" fill="#000"><text x="-4.73" y="0" font-size="17.0">0</text></g>
<g transform="translate(146.25,498.70) scale(0.91,1)" fill="#000"><text x="-4.73" y="0" font-size="17.0">5</text></g>
<g transform="translate(203.00,498.70) scale(0.91,1)" fill="#000"><path transform="translate(-9.45,0) scale(17.0)" d="M0.3726,0H0.2847V-0.56Q0.2527,-0.5298 0.2014,-0.4995Q0.15,-0.4692 0.1089,-0.4541V-0.539Q0.1826,-0.5737 0.2378,-0.623Q0.293,-0.6724 0.3159,-0.7187H0.3726Z"/><text x="0.00" y="0" font-size="17.0">0</text></g>
<g transform="translate(259.75,498.70) scale(0.91,1)" fill="#000"><path transform="translate(-9.45,0) scale(17.0)" d="M0.3726,0H0.2847V-0.56Q0.2527,-0.5298 0.2014,-0.4995Q0.15,-0.4692 0.1089,-0.4541V-0.539Q0.1826,-0.5737 0.2378,-0.623Q0.293,-0.6724 0.3159,-0.7187H0.3726Z"/><text x="0.00" y="0" font-size="17.0">5</text></g>
<g transform="translate(316.50,498.70) scale(0.91,1)" fill="#000"><text x="-4.73" y="0" font-size="17.0">0</text></g>
<g transform="translate(373.25,498.70) scale(0.91,1)" fill="#000"><text x="-4.73" y="0" font-size="17.0">5</text></g>
<g transform="translate(104.36,84.22) scale(1.05,1)" fill="#000"><text x="0.00" y="0" font-size="27.4">(c)</text></g>
<g transform="translate(104.35,300.02) scale(1.05,1)" fill="#000"><text x="0.00" y="0" font-size="27.4">(e)</text></g>
<g transform="translate(331.37,84.86) scale(1.05,1)" fill="#000"><text x="0.00" y="0" font-size="27.4">(d)</text></g>
<g transform="translate(331.30,300.50) scale(1.05,1)" fill="#000"><text x="0.00" y="0" font-size="27.4">(f)</text></g>
<g transform="translate(254.30,217.30)" fill="#000"><text x="0.00" y="0" font-size="27.6">2f</text></g>
<g transform="translate(277.90,228.40) scale(0.98,1)" fill="#000"><text x="0.00" y="0" font-size="16.8">5/2</text></g>
<g transform="translate(253.40,438.00) scale(0.985,1)" fill="#000"><path transform="translate(0.00,0) scale(28.0)" d="M0.3726,0H0.2847V-0.56Q0.2527,-0.5298 0.2014,-0.4995Q0.15,-0.4692 0.1089,-0.4541V-0.539Q0.1826,-0.5737 0.2378,-0.623Q0.293,-0.6724 0.3159,-0.7187H0.3726Z"/><text x="15.57" y="0" font-size="28.0">h</text></g>
<g transform="translate(284.30,449.40) scale(0.96,1)" fill="#000"><text x="0.00" y="0" font-size="17.0">9/2</text></g>
<path d="M361.6,438.6 L371.9,448.7 M371.9,438.6 L361.6,448.7" stroke="#000" stroke-width="1.5" fill="none"/>
<g transform="translate(374.00,450.50) scale(0.96,1)" fill="#000"><path transform="translate(0.00,0) scale(28.9)" d="M0.3726,0H0.2847V-0.56Q0.2527,-0.5298 0.2014,-0.4995Q0.15,-0.4692 0.1089,-0.4541V-0.539Q0.1826,-0.5737 0.2378,-0.623Q0.293,-0.6724 0.3159,-0.7187H0.3726Z"/><text x="16.07" y="0" font-size="28.9">0</text></g>
<g transform="translate(178.46,530.80) scale(0.985,1)" fill="#000"><text x="0.00" y="0" font-size="24.4">r [fm]</text></g>
<g transform="translate(405.36,530.80) scale(0.985,1)" fill="#000"><text x="0.00" y="0" font-size="24.4">r [fm]</text></g>
<g transform="translate(247.60,-2.00)" fill="#000"><text x="0.00" y="0" font-size="27.6">3p</text></g>
<g transform="translate(278.40,9.00) scale(0.98,1)" fill="#000"><path transform="translate(0.00,0) scale(16.8)" d="M0.3726,0H0.2847V-0.56Q0.2527,-0.5298 0.2014,-0.4995Q0.15,-0.4692 0.1089,-0.4541V-0.539Q0.1826,-0.5737 0.2378,-0.623Q0.293,-0.6724 0.3159,-0.7187H0.3726Z"/><text x="9.34" y="0" font-size="16.8">/2</text></g>
<g transform="translate(173.52,80.38) scale(0.92,1)" fill="#000"><path transform="translate(0.00,0) scale(23.0)" d="M0.3726,0H0.2847V-0.56Q0.2527,-0.5298 0.2014,-0.4995Q0.15,-0.4692 0.1089,-0.4541V-0.539Q0.1826,-0.5737 0.2378,-0.623Q0.293,-0.6724 0.3159,-0.7187H0.3726Z"/><text x="12.79" y="0" font-size="23.0">0</text></g>
<g transform="translate(198.04,68.30) scale(0.92,1)" fill="#000"><text x="0.00" y="0" font-size="14.9">0</text></g>
<g transform="translate(169.78,118.18) scale(0.92,1)" fill="#000"><path transform="translate(0.00,0) scale(23.0)" d="M0.3726,0H0.2847V-0.56Q0.2527,-0.5298 0.2014,-0.4995Q0.15,-0.4692 0.1089,-0.4541V-0.539Q0.1826,-0.5737 0.2378,-0.623Q0.293,-0.6724 0.3159,-0.7187H0.3726Z"/><text x="12.79" y="0" font-size="23.0">0</text></g>
<g transform="translate(193.30,106.09) scale(0.92,1)" fill="#000"><text x="0.00" y="0" font-size="14.9">-3</text></g>
<g transform="translate(169.78,156.18) scale(0.92,1)" fill="#000"><path transform="translate(0.00,0) scale(23.0)" d="M0.3726,0H0.2847V-0.56Q0.2527,-0.5298 0.2014,-0.4995Q0.15,-0.4692 0.1089,-0.4541V-0.539Q0.1826,-0.5737 0.2378,-0.623Q0.293,-0.6724 0.3159,-0.7187H0.3726Z"/><text x="12.79" y="0" font-size="23.0">0</text></g>
<g transform="translate(193.30,144.10) scale(0.92,1)" fill="#000"><text x="0.00" y="0" font-size="14.9">-6</text></g>
<g transform="translate(207.60,163.30) scale(0.9,1)" fill="#000"><text x="-5.45" y="0" font-size="19.6">0</text></g>
<g transform="translate(256.40,163.30) scale(0.9,1)" fill="#000"><path transform="translate(-10.90,0) scale(19.6)" d="M0.3726,0H0.2847V-0.56Q0.2527,-0.5298 0.2014,-0.4995Q0.15,-0.4692 0.1089,-0.4541V-0.539Q0.1826,-0.5737 0.2378,-0.623Q0.293,-0.6724 0.3159,-0.7187H0.3726Z"/><text x="0.00" y="0" font-size="19.6">0</text></g>
<g transform="translate(303.20,163.30) scale(0.9,1)" fill="#000"><text x="-10.90" y="0" font-size="19.6">20</text></g>
<g transform="translate(173.52,296.48) scale(0.92,1)" fill="#000"><path transform="translate(0.00,0) scale(23.0)" d="M0.3726,0H0.2847V-0.56Q0.2527,-0.5298 0.2014,-0.4995Q0.15,-0.4692 0.1089,-0.4541V-0.539Q0.1826,-0.5737 0.2378,-0.623Q0.293,-0.6724 0.3159,-0.7187H0.3726Z"/><text x="12.79" y="0" font-size="23.0">0</text></g>
<g transform="translate(198.04,284.40) scale(0.92,1)" fill="#000"><text x="0.00" y="0" font-size="14.9">0</text></g>
<g transform="translate(169.78,334.28) scale(0.92,1)" fill="#000"><path transform="translate(0.00,0) scale(23.0)" d="M0.3726,0H0.2847V-0.56Q0.2527,-0.5298 0.2014,-0.4995Q0.15,-0.4692 0.1089,-0.4541V-0.539Q0.1826,-0.5737 0.2378,-0.623Q0.293,-0.6724 0.3159,-0.7187H0.3726Z"/><text x="12.79" y="0" font-size="23.0">0</text></g>
<g transform="translate(193.30,322.19) scale(0.92,1)" fill="#000"><text x="0.00" y="0" font-size="14.9">-3</text></g>
<g transform="translate(169.78,372.28) scale(0.92,1)" fill="#000"><path transform="translate(0.00,0) scale(23.0)" d="M0.3726,0H0.2847V-0.56Q0.2527,-0.5298 0.2014,-0.4995Q0.15,-0.4692 0.1089,-0.4541V-0.539Q0.1826,-0.5737 0.2378,-0.623Q0.293,-0.6724 0.3159,-0.7187H0.3726Z"/><text x="12.79" y="0" font-size="23.0">0</text></g>
<g transform="translate(193.30,360.20) scale(0.92,1)" fill="#000"><text x="0.00" y="0" font-size="14.9">-6</text></g>
<g transform="translate(207.60,379.40) scale(0.9,1)" fill="#000"><text x="-5.45" y="0" font-size="19.6">0</text></g>
<g transform="translate(256.40,379.40) scale(0.9,1)" fill="#000"><path transform="translate(-10.90,0) scale(19.6)" d="M0.3726,0H0.2847V-0.56Q0.2527,-0.5298 0.2014,-0.4995Q0.15,-0.4692 0.1089,-0.4541V-0.539Q0.1826,-0.5737 0.2378,-0.623Q0.293,-0.6724 0.3159,-0.7187H0.3726Z"/><text x="0.00" y="0" font-size="19.6">0</text></g>
<g transform="translate(303.20,379.40) scale(0.9,1)" fill="#000"><text x="-10.90" y="0" font-size="19.6">20</text></g>
<g transform="translate(402.72,78.38) scale(0.92,1)" fill="#000"><path transform="translate(0.00,0) scale(23.0)" d="M0.3726,0H0.2847V-0.56Q0.2527,-0.5298 0.2014,-0.4995Q0.15,-0.4692 0.1089,-0.4541V-0.539Q0.1826,-0.5737 0.2378,-0.623Q0.293,-0.6724 0.3159,-0.7187H0.3726Z"/><text x="12.79" y="0" font-size="23.0">0</text></g>
<g transform="translate(427.24,66.30) scale(0.92,1)" fill="#000"><text x="0.00" y="0" font-size="14.9">0</text></g>
<g transform="translate(399.18,116.18) scale(0.92,1)" fill="#000"><path transform="translate(0.00,0) scale(23.0)" d="M0.3726,0H0.2847V-0.56Q0.2527,-0.5298 0.2014,-0.4995Q0.15,-0.4692 0.1089,-0.4541V-0.539Q0.1826,-0.5737 0.2378,-0.623Q0.293,-0.6724 0.3159,-0.7187H0.3726Z"/><text x="12.79" y="0" font-size="23.0">0</text></g>
<g transform="translate(422.70,104.09) scale(0.92,1)" fill="#000"><text x="0.00" y="0" font-size="14.9">-3</text></g>
<g transform="translate(399.18,154.18) scale(0.92,1)" fill="#000"><path transform="translate(0.00,0) scale(23.0)" d="M0.3726,0H0.2847V-0.56Q0.2527,-0.5298 0.2014,-0.4995Q0.15,-0.4692 0.1089,-0.4541V-0.539Q0.1826,-0.5737 0.2378,-0.623Q0.293,-0.6724 0.3159,-0.7187H0.3726Z"/><text x="12.79" y="0" font-size="23.0">0</text></g>
<g transform="translate(422.70,142.10) scale(0.92,1)" fill="#000"><text x="0.00" y="0" font-size="14.9">-6</text></g>
<g transform="translate(401.32,294.78) scale(0.92,1)" fill="#000"><path transform="translate(0.00,0) scale(23.0)" d="M0.3726,0H0.2847V-0.56Q0.2527,-0.5298 0.2014,-0.4995Q0.15,-0.4692 0.1089,-0.4541V-0.539Q0.1826,-0.5737 0.2378,-0.623Q0.293,-0.6724 0.3159,-0.7187H0.3726Z"/><text x="12.79" y="0" font-size="23.0">0</text></g>
<g transform="translate(425.84,282.70) scale(0.92,1)" fill="#000"><text x="0.00" y="0" font-size="14.9">0</text></g>
<g transform="translate(396.78,332.58) scale(0.92,1)" fill="#000"><path transform="translate(0.00,0) scale(23.0)" d="M0.3726,0H0.2847V-0.56Q0.2527,-0.5298 0.2014,-0.4995Q0.15,-0.4692 0.1089,-0.4541V-0.539Q0.1826,-0.5737 0.2378,-0.623Q0.293,-0.6724 0.3159,-0.7187H0.3726Z"/><text x="12.79" y="0" font-size="23.0">0</text></g>
<g transform="translate(420.30,320.49) scale(0.92,1)" fill="#000"><text x="0.00" y="0" font-size="14.9">-3</text></g>
<g transform="translate(396.78,370.58) scale(0.92,1)" fill="#000"><path transform="translate(0.00,0) scale(23.0)" d="M0.3726,0H0.2847V-0.56Q0.2527,-0.5298 0.2014,-0.4995Q0.15,-0.4692 0.1089,-0.4541V-0.539Q0.1826,-0.5737 0.2378,-0.623Q0.293,-0.6724 0.3159,-0.7187H0.3726Z"/><text x="12.79" y="0" font-size="23.0">0</text></g>
<g transform="translate(420.30,358.50) scale(0.92,1)" fill="#000"><text x="0.00" y="0" font-size="14.9">-6</text></g>
<path d="M153.5,0 V3.2" stroke="#000" stroke-width="2.0" fill="none"/><rect x="148" y="0" width="5" height="0.7" fill="#333"/><rect x="181.5" y="0" width="2" height="0.5" fill="#888"/><rect x="186" y="0" width="2" height="0.5" fill="#888"/><rect x="191" y="0" width="3" height="0.5" fill="#888"/>
<g transform="translate(32.95,247.54) rotate(-90) scale(0.927,1)" fill="#000"><text x="0.00" y="0" font-size="29.78">4</text></g>
<g transform="translate(33.19,230.87) rotate(-90) scale(0.9,1)" fill="#000"><text x="0.00" y="0" font-size="22.0">π</text></g>
<g transform="translate(33.05,216.60) rotate(-90)" fill="#000"><text x="0.00" y="0" font-size="27.16">r</text></g>
<g transform="translate(20.45,207.35) rotate(-90) scale(1.024,1)" fill="#000"><text x="0.00" y="0" font-size="17.57">2</text></g>
<g transform="translate(33.98,196.36) rotate(-90) scale(1.056,1)" fill="#000"><text x="0.00" y="0" font-size="22.93">ρ</text></g>
<g transform="translate(42.94,182.35) rotate(-90) scale(0.968,1)" fill="#000"><text x="0.00" y="0" font-size="16.53">nlj</text></g>
<g transform="translate(33.65,166.29) rotate(-90) scale(0.886,1)" fill="#000"><text x="0.00" y="0" font-size="29.65">(</text></g>
<g transform="translate(33.15,156.35) rotate(-90) scale(1.05,1)" fill="#000"><text x="0.00" y="0" font-size="27.35">r</text></g>
<g transform="translate(33.65,144.85) rotate(-90) scale(0.809,1)" fill="#000"><text x="0.00" y="0" font-size="29.65">)</text></g>
<g transform="translate(33.30,127.26) rotate(-90) scale(0.904,1)" fill="#000"><text x="0.00" y="0" font-size="23.79">[</text></g>
<g transform="translate(33.15,121.05) rotate(-90) scale(1.107,1)" fill="#000"><text x="0.00" y="0" font-size="28.55">f</text></g>
<g transform="translate(33.25,113.03) rotate(-90) scale(1.11,1)" fill="#000"><text x="0.00" y="0" font-size="27.16">m</text></g>
<g transform="translate(33.36,72.93) rotate(-90) scale(0.959,1)" fill="#000"><text x="0.00" y="0" font-size="23.47">]</text></g>
<g transform="translate(17.40,88.90) rotate(-90)" fill="#000"><text x="0.00" y="0" font-size="17.0">-</text><path transform="translate(5.66,0) scale(17.0)" d="M0.3726,0H0.2847V-0.56Q0.2527,-0.5298 0.2014,-0.4995Q0.15,-0.4692 0.1089,-0.4541V-0.539Q0.1826,-0.5737 0.2378,-0.623Q0.293,-0.6724 0.3159,-0.7187H0.3726Z"/></g>
</svg>
</body></html>
